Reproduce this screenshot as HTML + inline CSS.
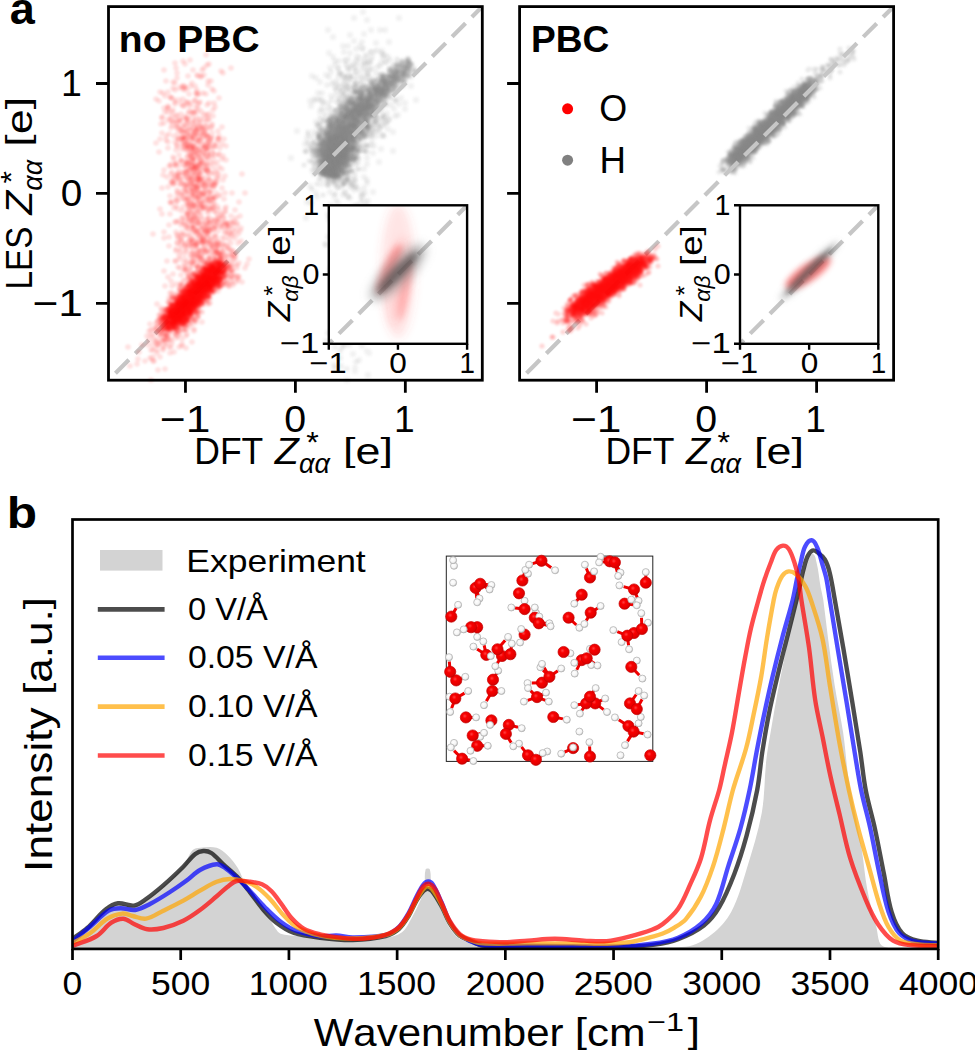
<!DOCTYPE html><html><head><meta charset="utf-8"><style>html,body{margin:0;padding:0;background:#fff;overflow:hidden}svg{display:block}text{font-family:"Liberation Sans",sans-serif;font-kerning:none}</style></head><body>
<svg width="975" height="1051" viewBox="0 0 975 1051">
<defs>
<clipPath id="cAL"><rect x="108.50" y="6.60" width="373.80" height="373.60"/></clipPath>
<clipPath id="cAR"><rect x="519.60" y="6.60" width="374.00" height="373.60"/></clipPath>
<clipPath id="cIL"><rect x="328.80" y="205.30" width="138.30" height="138.50"/></clipPath>
<clipPath id="cIR"><rect x="740.00" y="205.30" width="138.30" height="138.50"/></clipPath>
<clipPath id="cB"><rect x="72.5" y="519.5" width="865.7" height="429.4"/></clipPath>
<radialGradient id="gO" cx="0.4" cy="0.38" r="0.68"><stop offset="0" stop-color="#ff4040"/><stop offset="0.3" stop-color="#f80000"/><stop offset="0.8" stop-color="#e00000"/><stop offset="1" stop-color="#b00000"/></radialGradient>
<radialGradient id="gH" cx="0.42" cy="0.4" r="0.66"><stop offset="0" stop-color="#ffffff"/><stop offset="0.6" stop-color="#f4f4f4"/><stop offset="0.85" stop-color="#d0d0d0"/><stop offset="1" stop-color="#a0a0a0"/></radialGradient>
<filter id="bl" x="-5%" y="-5%" width="110%" height="110%"><feGaussianBlur stdDeviation="0.7"/></filter>
<filter id="bl2" x="-5%" y="-5%" width="110%" height="110%"><feGaussianBlur stdDeviation="1.0"/></filter>
<filter id="b2" x="-50%" y="-50%" width="200%" height="200%"><feGaussianBlur stdDeviation="2"/></filter>
<filter id="b3" x="-50%" y="-50%" width="200%" height="200%"><feGaussianBlur stdDeviation="3"/></filter>
<filter id="b4" x="-50%" y="-50%" width="200%" height="200%"><feGaussianBlur stdDeviation="4"/></filter>
</defs>
<rect width="975" height="1051" fill="#fff"/>
<g stroke="#808080" stroke-width="5.2" stroke-linecap="round" stroke-opacity="0.15" fill="none" filter="url(#bl2)">
<path d="M373 112h0M330 175h0M351 134h0M336 174h0M345 145h0M382 92h0M325 169h0M330 150h0M348 116h0M336 147h0M327 140h0M387 88h0M332 157h0M347 153h0M355 129h0M341 127h0M360 151h0M350 118h0M327 148h0M360 100h0M335 150h0M324 171h0M368 101h0M367 117h0M341 143h0M335 172h0M339 129h0M395 77h0M369 107h0M341 161h0M334 162h0M341 142h0M342 159h0M356 120h0M347 159h0M353 132h0M362 96h0M373 115h0M353 126h0M336 150h0M411 65h0M342 143h0M332 151h0M321 167h0M336 130h0M338 142h0M402 70h0M357 119h0M359 112h0M330 157h0M333 149h0M331 157h0M332 158h0M361 111h0M340 161h0M378 85h0M332 168h0M345 156h0M323 161h0M315 153h0M326 141h0M328 135h0M328 133h0M361 105h0M327 174h0M335 160h0M323 145h0M339 126h0M330 168h0M379 91h0M340 159h0M344 141h0M341 157h0M369 105h0M337 138h0M335 145h0M336 165h0M382 95h0M332 143h0M340 119h0M331 141h0M377 80h0M328 175h0M329 153h0M355 120h0M340 149h0M348 130h0M396 73h0M343 122h0M375 114h0M335 169h0M415 71h0M354 124h0M337 165h0M329 157h0M326 161h0M341 130h0M332 142h0M404 70h0M331 165h0M345 153h0M328 149h0M399 73h0M335 154h0M346 130h0M342 135h0M334 150h0M369 91h0M368 146h0M329 172h0M330 152h0M331 174h0M355 112h0M363 110h0M342 121h0M331 175h0M357 112h0M346 163h0M402 73h0M378 89h0M353 118h0M360 95h0M325 156h0M335 164h0M313 150h0M323 161h0M330 170h0M330 150h0M353 139h0M344 137h0M334 141h0M343 116h0M350 118h0M330 169h0M334 151h0M333 149h0M371 107h0M357 121h0M350 101h0M343 111h0M344 136h0M332 123h0M350 117h0M356 143h0M351 161h0M358 163h0M356 116h0M364 100h0M320 160h0M336 132h0M366 112h0M360 135h0M336 153h0M379 81h0M368 127h0M333 171h0M342 157h0M356 90h0M326 154h0M330 125h0M394 70h0M329 146h0M358 126h0M355 103h0M333 154h0M341 144h0M348 150h0M344 143h0M391 78h0M339 151h0M338 149h0M382 92h0M331 174h0M326 158h0M342 165h0M327 149h0M344 140h0M359 105h0M374 106h0M381 80h0M341 110h0M374 109h0M340 130h0M329 162h0M334 137h0M359 105h0M383 103h0M340 150h0M328 163h0M339 160h0M355 175h0M327 133h0M327 171h0M328 164h0M356 117h0M337 157h0M329 138h0M403 63h0M322 157h0M356 121h0M341 151h0M392 73h0M346 172h0M353 139h0M356 121h0M391 84h0M397 76h0M343 164h0M351 172h0M334 162h0M334 168h0M328 166h0M333 144h0M335 176h0M334 137h0M334 147h0M346 144h0M367 122h0M328 156h0M337 146h0M391 85h0M364 133h0M320 150h0M337 172h0M343 125h0M344 132h0M328 121h0M365 128h0M339 121h0M334 143h0M348 146h0M333 157h0M360 113h0M350 130h0M377 91h0M332 174h0M357 98h0M331 162h0M326 169h0M357 116h0M350 128h0M343 152h0M340 154h0M353 149h0M340 157h0"/>
<path d="M321 146h0M370 103h0M328 150h0M339 148h0M365 107h0M327 174h0M327 175h0M341 150h0M336 132h0M359 110h0M359 113h0M321 161h0M386 97h0M332 156h0M350 123h0M368 99h0M408 58h0M319 135h0M322 143h0M383 76h0M361 123h0M353 124h0M335 159h0M352 125h0M370 89h0M346 117h0M333 151h0M343 143h0M360 107h0M345 119h0M336 124h0M341 147h0M360 96h0M345 156h0M339 165h0M363 111h0M342 146h0M336 126h0M325 163h0M351 121h0M408 61h0M342 154h0M358 114h0M353 139h0M347 109h0M323 174h0M378 91h0M342 163h0M338 144h0M329 166h0M335 136h0M330 153h0M373 97h0M335 152h0M337 158h0M383 86h0M363 87h0M347 103h0M341 133h0M327 149h0M338 144h0M332 159h0M321 175h0M337 155h0M328 160h0M328 157h0M329 174h0M326 127h0M325 170h0M383 85h0M335 124h0M330 156h0M336 162h0M374 89h0M373 112h0M395 79h0M329 139h0M391 69h0M330 151h0M327 132h0M323 162h0M345 156h0M335 172h0M331 173h0M349 114h0M330 159h0M332 173h0M403 75h0M381 87h0M398 75h0M382 82h0M369 127h0M333 156h0M333 169h0M382 84h0M339 157h0M332 169h0M337 139h0M359 119h0M331 132h0M387 83h0M352 107h0M337 156h0M342 133h0M338 154h0M348 150h0M339 129h0M336 161h0M344 138h0M345 142h0M343 141h0M363 113h0M331 123h0M340 169h0M375 84h0M353 148h0M340 151h0M343 147h0M332 166h0M335 176h0M402 63h0M340 169h0M370 105h0M371 91h0M354 101h0M400 70h0M326 160h0M326 164h0M349 110h0M337 163h0M337 148h0M335 147h0M331 169h0M375 99h0M336 156h0M327 142h0M349 152h0M354 113h0M343 151h0M341 164h0M355 120h0M334 119h0M325 166h0M326 171h0M331 152h0M329 147h0M360 109h0M356 118h0M355 92h0M381 110h0M380 74h0M353 131h0M328 157h0M363 104h0M342 170h0M345 151h0M341 131h0M356 135h0M332 147h0M386 105h0M341 163h0M390 82h0M331 134h0M345 142h0M388 85h0M335 156h0M337 166h0M374 88h0M345 144h0M401 66h0M327 174h0M357 120h0M327 144h0M384 91h0M341 139h0M361 106h0M369 111h0M328 167h0M409 61h0M345 147h0M406 72h0M352 104h0M340 157h0M372 89h0M341 157h0M388 76h0M326 164h0M351 126h0M336 167h0M337 129h0M356 127h0M344 157h0M337 145h0M339 151h0M362 124h0M334 163h0M368 123h0M384 84h0M330 175h0M346 144h0M367 113h0M338 165h0M329 172h0M336 154h0M326 162h0M334 156h0M344 151h0M339 158h0M336 140h0M344 159h0M339 152h0M357 120h0M349 161h0M366 117h0M354 108h0M341 133h0M336 161h0M375 96h0M339 154h0M325 172h0M326 162h0M410 74h0M349 152h0M356 107h0M390 88h0M332 169h0M330 140h0M382 87h0M345 137h0M355 127h0M384 78h0M334 162h0M333 150h0M366 122h0M343 136h0M390 91h0M387 86h0M335 140h0M338 163h0M330 142h0M333 151h0M336 136h0M322 143h0M391 89h0M345 147h0"/>
<path d="M322 164h0M342 154h0M340 154h0M335 158h0M384 80h0M324 140h0M348 138h0M401 71h0M343 138h0M349 129h0M337 154h0M327 172h0M342 173h0M344 147h0M358 111h0M332 166h0M342 134h0M338 132h0M358 106h0M330 152h0M347 178h0M334 146h0M350 108h0M345 154h0M335 144h0M384 76h0M342 163h0M344 152h0M374 89h0M346 117h0M351 165h0M340 155h0M341 151h0M328 121h0M328 138h0M373 85h0M404 77h0M332 141h0M331 165h0M317 125h0M342 162h0M360 99h0M347 145h0M335 169h0M337 142h0M343 164h0M352 149h0M409 62h0M343 121h0M358 114h0M334 161h0M364 111h0M355 109h0M335 157h0M372 112h0M344 151h0M366 101h0M354 112h0M339 152h0M332 155h0M359 144h0M384 83h0M378 101h0M323 151h0M333 150h0M344 170h0M335 156h0M336 139h0M336 164h0M350 116h0M356 113h0M391 80h0M334 139h0M391 78h0M397 76h0M351 148h0M338 149h0M330 143h0M352 129h0M354 136h0M345 136h0M324 156h0M363 109h0M339 158h0M325 152h0M364 104h0M369 95h0M341 151h0M342 119h0M349 127h0M333 171h0M343 151h0M361 92h0M358 106h0M340 126h0M374 93h0M347 136h0M327 154h0M328 158h0M330 158h0M319 137h0M347 154h0M335 139h0M326 154h0M336 126h0M369 107h0M328 136h0M329 165h0M358 113h0M363 105h0M359 104h0M339 161h0M334 155h0M394 73h0M368 103h0M335 150h0M334 147h0M357 113h0M333 149h0M377 95h0M328 137h0M336 152h0M346 105h0M334 153h0M321 174h0M414 71h0M354 92h0M320 141h0M343 153h0M332 159h0M335 150h0M331 156h0M391 81h0M335 159h0M328 169h0M382 93h0M338 144h0M373 106h0M336 165h0M358 125h0M353 154h0M359 145h0M358 131h0M326 165h0M351 99h0M333 169h0M348 129h0M364 107h0M353 125h0M328 175h0M327 160h0M331 151h0M392 68h0M339 176h0M327 156h0M324 155h0M342 178h0M358 111h0M402 80h0M344 143h0M323 161h0M374 92h0M334 158h0M369 103h0M329 174h0M344 147h0M337 129h0M324 169h0M323 164h0M328 145h0M339 134h0M340 145h0M343 150h0M334 168h0M324 172h0M347 134h0M363 106h0M333 167h0M344 144h0M357 135h0M345 119h0M348 150h0M335 152h0M323 164h0M367 101h0M327 172h0M327 142h0M335 147h0M351 147h0M327 151h0M331 149h0M337 128h0M362 138h0M354 107h0M348 117h0M340 139h0M347 156h0M360 96h0M345 133h0M331 154h0M356 156h0M363 113h0M407 77h0M368 94h0M354 145h0M337 148h0M344 148h0M333 139h0M335 161h0M388 92h0M332 172h0M330 123h0M330 140h0M381 79h0M335 161h0M335 177h0M383 90h0M334 147h0M344 153h0M332 144h0M327 178h0M331 171h0M346 141h0M353 124h0M354 144h0M334 173h0M391 98h0M341 144h0M344 167h0M351 138h0M339 165h0M324 150h0M353 146h0M349 130h0M394 83h0M340 152h0M355 107h0M379 98h0M329 174h0M347 144h0M364 151h0M337 140h0M349 114h0M333 158h0M346 137h0"/>
<path d="M363 127h0M330 152h0M338 162h0M353 135h0M394 80h0M324 153h0M349 125h0M343 132h0M344 171h0M340 163h0M377 83h0M335 168h0M333 172h0M345 117h0M361 116h0M333 170h0M335 145h0M336 164h0M386 80h0M374 87h0M325 152h0M358 148h0M330 161h0M361 113h0M377 90h0M341 137h0M339 160h0M343 144h0M327 146h0M335 127h0M330 149h0M345 128h0M343 155h0M348 142h0M354 101h0M333 167h0M345 167h0M386 82h0M343 121h0M332 164h0M317 147h0M323 144h0M397 80h0M346 147h0M326 137h0M342 143h0M347 142h0M347 139h0M389 95h0M343 155h0M354 142h0M357 122h0M318 145h0M329 171h0M395 70h0M345 163h0M337 149h0M391 79h0M379 86h0M348 131h0M369 114h0M375 84h0M332 150h0M389 82h0M324 120h0M324 155h0M336 161h0M331 169h0M359 108h0M337 156h0M357 106h0M336 170h0M349 135h0M346 164h0M340 133h0M360 92h0M344 152h0M358 112h0M374 94h0M334 161h0M339 149h0M337 155h0M329 172h0M336 153h0M329 167h0M340 166h0M345 165h0M328 119h0M355 136h0M410 63h0M346 131h0M331 173h0M341 163h0M328 174h0M322 148h0M334 171h0M335 172h0M366 105h0M330 141h0M344 113h0M347 133h0M334 166h0M325 165h0M347 147h0M361 94h0M331 126h0M332 124h0M358 132h0M355 126h0M349 122h0M365 109h0M402 80h0M333 148h0M378 94h0M328 145h0M327 168h0M336 137h0M381 100h0M340 155h0M346 164h0M370 99h0M394 85h0M338 173h0M340 143h0M341 156h0M332 175h0M331 173h0M347 120h0M405 78h0M329 169h0M328 162h0M374 100h0M329 161h0M338 151h0M327 181h0M335 157h0M334 143h0M407 75h0M331 174h0M323 175h0M346 131h0M344 129h0M330 155h0M353 125h0M387 88h0M334 122h0M349 102h0M345 159h0M330 153h0M333 156h0M345 148h0M332 155h0M345 140h0M353 136h0M340 122h0M337 163h0M331 149h0M362 102h0M344 171h0M346 161h0M357 110h0M381 93h0M342 114h0M375 121h0M356 114h0M380 90h0M348 140h0M334 154h0M358 86h0M332 166h0M334 152h0M326 172h0M328 168h0M350 151h0M392 71h0M341 171h0M372 101h0M357 117h0M339 121h0M374 92h0M342 150h0M371 89h0M409 65h0M332 155h0M367 128h0M326 163h0M328 173h0M342 127h0M337 161h0M335 166h0M345 134h0M322 146h0M354 126h0M364 116h0M378 97h0M362 114h0M347 111h0M371 105h0M367 104h0M342 139h0M324 147h0M375 82h0M352 110h0M338 148h0M334 166h0M331 140h0M347 172h0M328 159h0M333 153h0M386 95h0M358 130h0M341 151h0M327 152h0M343 150h0M329 152h0M339 135h0M362 104h0M361 100h0M333 147h0M345 158h0M358 105h0M349 122h0M335 152h0M326 137h0M379 85h0M372 91h0M335 170h0M369 110h0M318 149h0M327 171h0M331 147h0M358 122h0M333 141h0M382 86h0M328 158h0M343 144h0M343 134h0M344 150h0M345 174h0M371 110h0M336 134h0M320 162h0M341 157h0M410 73h0M350 115h0"/>
<path d="M330 137h0M351 125h0M335 159h0M339 132h0M358 122h0M342 163h0M326 162h0M349 112h0M332 143h0M344 131h0M328 143h0M343 167h0M329 146h0M348 163h0M333 147h0M373 105h0M343 150h0M346 122h0M365 115h0M346 143h0M340 168h0M331 165h0M369 105h0M373 109h0M355 104h0M340 143h0M392 71h0M365 109h0M345 165h0M338 146h0M352 135h0M363 115h0M333 170h0M335 160h0M340 129h0M346 122h0M391 84h0M337 164h0M352 123h0M342 148h0M331 158h0M352 113h0M346 137h0M324 155h0M344 165h0M357 150h0M343 158h0M355 127h0M327 171h0M331 148h0M338 136h0M336 135h0M331 127h0M313 142h0M359 126h0M332 145h0M404 72h0M362 110h0M361 114h0M375 93h0M380 96h0M341 156h0M329 167h0M385 90h0M359 132h0M326 156h0M332 133h0M347 144h0M333 166h0M329 128h0M370 98h0M351 122h0M339 158h0M352 116h0M346 116h0M340 167h0M409 66h0M353 135h0M365 104h0M328 166h0M370 116h0M333 149h0M329 172h0M384 92h0M340 130h0M372 108h0M369 100h0M346 147h0M329 149h0M351 132h0M330 154h0M333 165h0M337 151h0M336 135h0M381 88h0M393 65h0M355 127h0M338 120h0M326 132h0M360 123h0M338 164h0M355 138h0M353 146h0M335 165h0M350 150h0M386 83h0M331 171h0M405 60h0M338 175h0M338 154h0M336 138h0M331 146h0M336 150h0M341 143h0M367 125h0M324 171h0M353 112h0M343 159h0M351 135h0M333 135h0M342 151h0M359 107h0M337 148h0M334 163h0M333 168h0M377 94h0M320 139h0M391 85h0M393 82h0M385 95h0M379 103h0M320 154h0M339 163h0M337 136h0M329 168h0M341 151h0M333 140h0M334 166h0M329 132h0M355 127h0M330 164h0M395 92h0M344 166h0M325 171h0M335 168h0M343 145h0M383 77h0M395 90h0M341 123h0M332 143h0M341 153h0M331 166h0M346 148h0M347 134h0M335 136h0M335 174h0M343 142h0M335 150h0M397 68h0M371 98h0M349 133h0M357 106h0M341 145h0M334 165h0M339 147h0M344 159h0M374 106h0M325 160h0M387 88h0M342 129h0M345 129h0M362 113h0M328 167h0M333 173h0M356 157h0M352 109h0M356 131h0M344 163h0M355 140h0M329 169h0M332 172h0M334 161h0M319 123h0M352 104h0M393 86h0M367 114h0M334 176h0M395 81h0M385 92h0M329 132h0M388 84h0M333 137h0M342 167h0M370 106h0M397 71h0M327 168h0M336 151h0M329 150h0M363 111h0M366 110h0M342 140h0M388 81h0M336 165h0M331 153h0M347 154h0M366 102h0M330 159h0M323 151h0M354 132h0M334 159h0M337 167h0M330 173h0M337 172h0M335 154h0M336 155h0M386 85h0M338 147h0M375 91h0M339 170h0M328 157h0M345 142h0M370 93h0M327 169h0M349 128h0M348 117h0M358 108h0M331 136h0M348 127h0M332 146h0M330 152h0M336 162h0M355 108h0M342 134h0M352 120h0M344 155h0M339 136h0M345 109h0M358 105h0M362 132h0M330 169h0M364 114h0M344 133h0M339 128h0M335 160h0M398 81h0"/>
<path d="M344 162h0M350 128h0M342 154h0M359 104h0M348 135h0M383 80h0M329 134h0M349 125h0M338 123h0M329 167h0M331 170h0M358 108h0M330 171h0M344 127h0M339 138h0M336 142h0M354 147h0M348 125h0M345 107h0M340 146h0M340 114h0M358 133h0M354 142h0M365 115h0M376 102h0M345 153h0M329 170h0M354 133h0M329 167h0M337 150h0M327 147h0M367 104h0M333 163h0M338 140h0M342 152h0M339 165h0M362 94h0M334 140h0M340 169h0M329 167h0M332 147h0M343 148h0M333 135h0M332 131h0M331 176h0M331 143h0M350 143h0M373 113h0M323 149h0M350 108h0M343 127h0M350 154h0M366 108h0M341 154h0M329 165h0M390 70h0M326 149h0M327 163h0M384 88h0M339 159h0M345 132h0M361 106h0M335 160h0M333 147h0M349 138h0M336 169h0M331 139h0M374 96h0M343 154h0M349 120h0M330 140h0M335 162h0M326 172h0M335 128h0M337 162h0M352 153h0M353 107h0M329 170h0M331 173h0M327 150h0M338 161h0M336 136h0M349 136h0M354 125h0M348 132h0M332 162h0M367 95h0M342 159h0M337 140h0M358 118h0M352 102h0M386 89h0M384 76h0M375 93h0M319 127h0M349 141h0M338 153h0M338 152h0M321 134h0M350 105h0M337 159h0M340 159h0M338 139h0M354 117h0M339 160h0M336 125h0M336 148h0M337 173h0M331 172h0M336 147h0M340 149h0M331 153h0M340 162h0M377 97h0M379 86h0M327 130h0M333 174h0M325 162h0M333 164h0M389 76h0M367 114h0M344 146h0M359 114h0M337 156h0M359 92h0M338 165h0M362 108h0M336 170h0M361 102h0M337 145h0M333 160h0M397 71h0M345 166h0M346 114h0M356 144h0M343 164h0M378 91h0M356 107h0M358 132h0M344 158h0M329 172h0M332 155h0M377 118h0M333 152h0M346 115h0M329 165h0M339 151h0M333 172h0M366 134h0M332 162h0M326 166h0M352 112h0M372 94h0M331 149h0M338 171h0M358 120h0M381 100h0M330 146h0M339 176h0M334 176h0M383 92h0M346 143h0M322 145h0M353 108h0M358 110h0M386 100h0M327 170h0M331 157h0M378 88h0M325 151h0M362 87h0M381 90h0M354 119h0M343 159h0M330 154h0M347 134h0M334 151h0M333 168h0M323 173h0M341 143h0M338 168h0M375 112h0M381 88h0M383 94h0M405 82h0M339 173h0M377 107h0M366 99h0M340 120h0M347 150h0M324 159h0M320 152h0M332 157h0M377 105h0M330 159h0M373 90h0M363 106h0M333 170h0M337 166h0M331 154h0M336 157h0M329 169h0M345 123h0M328 159h0M351 114h0M338 156h0M324 173h0M373 105h0M328 157h0M333 171h0M340 147h0M333 151h0M352 155h0M382 88h0M334 180h0M379 96h0M315 144h0M352 110h0M375 117h0M320 169h0M379 94h0M359 121h0M324 171h0M387 87h0M335 168h0M353 114h0M347 156h0M342 138h0M327 162h0M354 132h0M335 175h0M351 133h0M346 145h0M336 139h0M370 108h0M373 89h0M338 127h0M342 148h0M354 128h0M332 166h0M337 171h0M328 157h0M320 171h0M341 163h0M355 111h0"/>
<path d="M324 150h0M398 65h0M332 131h0M346 154h0M333 175h0M338 137h0M332 171h0M361 101h0M385 84h0M354 109h0M332 159h0M330 148h0M332 128h0M331 152h0M341 129h0M349 142h0M378 92h0M344 118h0M321 150h0M381 93h0M349 135h0M359 130h0M323 172h0M337 144h0M344 145h0M388 94h0M348 159h0M335 147h0M339 163h0M334 174h0M406 67h0M372 120h0M335 143h0M343 143h0M351 126h0M342 159h0M322 174h0M327 161h0M345 164h0M356 91h0M340 159h0M352 118h0M323 158h0M337 152h0M354 157h0M328 161h0M348 126h0M376 94h0M333 165h0M366 104h0M353 125h0M369 107h0M336 137h0M328 170h0M329 163h0M335 133h0M339 118h0M368 104h0M398 72h0M323 151h0M348 120h0M343 132h0M367 116h0M324 146h0M402 66h0M378 98h0M353 110h0M337 122h0M327 175h0M334 118h0M335 147h0M343 155h0M330 125h0M325 164h0M347 132h0M371 116h0M336 137h0M336 131h0M328 156h0M346 153h0M378 84h0M339 134h0M351 124h0M393 85h0M327 166h0M353 155h0M355 127h0M350 112h0M333 171h0M326 152h0M347 148h0M360 103h0M325 148h0M343 172h0M328 138h0M325 146h0M324 155h0M336 157h0M333 175h0M351 136h0M341 131h0M392 74h0M408 76h0M332 153h0M362 116h0M351 133h0M339 124h0M344 135h0M377 90h0M362 137h0M363 106h0M349 167h0M330 153h0M338 129h0M330 152h0M323 160h0M331 168h0M373 112h0M335 150h0M333 149h0M332 170h0M337 162h0M358 100h0M348 116h0M353 138h0M330 168h0M329 146h0M343 128h0M332 168h0M375 111h0M341 111h0M333 164h0M340 149h0M336 130h0M331 171h0M339 155h0M334 134h0M334 148h0M322 163h0M352 114h0M343 171h0M332 176h0M343 147h0M330 150h0M347 158h0M367 110h0M347 157h0M337 142h0M330 161h0M346 153h0M362 104h0M337 165h0M332 160h0M342 149h0M352 122h0M333 160h0M336 157h0M380 98h0M333 152h0M332 126h0M332 152h0M320 161h0M339 137h0M358 114h0M336 163h0M331 154h0M333 144h0M338 158h0M324 136h0M329 154h0M368 114h0M329 157h0M321 139h0M371 84h0M334 155h0M336 153h0M389 75h0M347 151h0M332 173h0M330 139h0M393 76h0M361 132h0M332 157h0M372 98h0M349 169h0M378 105h0M323 171h0M353 98h0M337 136h0M348 149h0M397 86h0M336 148h0M364 105h0M332 140h0M331 156h0M331 172h0M365 120h0M332 173h0M345 128h0M320 160h0M329 154h0M324 163h0M330 171h0M340 160h0M344 148h0M346 141h0M336 156h0M388 89h0M330 163h0M323 154h0M332 147h0M323 147h0M335 194h0M324 157h0M354 141h0M342 149h0M331 175h0M345 150h0M336 175h0M366 121h0M308 143h0M383 80h0M339 158h0M333 172h0M331 117h0M358 111h0M333 156h0M355 120h0M328 167h0M356 109h0M343 140h0M346 140h0M331 115h0M369 101h0M355 122h0M339 164h0M329 161h0M361 111h0M346 142h0M394 88h0M380 99h0M375 94h0M358 98h0M402 74h0M344 153h0"/>
<path d="M332 142h0M356 116h0M328 156h0M359 100h0M357 121h0M332 147h0M363 118h0M371 99h0M385 83h0M340 157h0M325 172h0M362 106h0M324 166h0M344 161h0M321 152h0M406 72h0M336 159h0M366 98h0M349 108h0M344 118h0M327 136h0M335 153h0M339 162h0M341 151h0M334 168h0M331 164h0M340 162h0M304 165h0M353 147h0M329 154h0M319 155h0M321 144h0M332 174h0M392 76h0M325 175h0M339 175h0M328 174h0M377 100h0M329 150h0M365 122h0M338 148h0M352 127h0M353 107h0M326 162h0M395 66h0M336 163h0M330 141h0M327 175h0M375 112h0M351 137h0M353 134h0M331 159h0M362 110h0M367 128h0M342 163h0M336 146h0M347 156h0M333 160h0M338 120h0M346 129h0M356 129h0M331 145h0M342 165h0M331 157h0M377 87h0M360 89h0M358 110h0M356 146h0M331 162h0M371 102h0M394 77h0M339 163h0M325 156h0M335 159h0M340 136h0M331 148h0M328 137h0M340 144h0M361 116h0M361 104h0M359 111h0M403 86h0M347 133h0M343 172h0M337 144h0M330 153h0M343 141h0M405 80h0M353 148h0M370 95h0M347 115h0M319 179h0M339 157h0M337 172h0M318 137h0M342 174h0M339 160h0M338 166h0M333 162h0M343 136h0M381 81h0M330 126h0M341 163h0M353 111h0M337 124h0M346 148h0M334 166h0M327 152h0M364 110h0M330 170h0M387 91h0M352 141h0M383 91h0M342 141h0M332 174h0M346 144h0M353 161h0M327 139h0M334 142h0M351 136h0M359 111h0M350 126h0M342 139h0M345 128h0M333 154h0M364 114h0M353 110h0M353 133h0M334 143h0M361 114h0M324 153h0M330 164h0M340 141h0M357 111h0M336 132h0M363 110h0M333 168h0M359 105h0M338 175h0M345 138h0M349 118h0M327 155h0M335 142h0M334 174h0M361 99h0M326 173h0M365 114h0M326 163h0M361 133h0M333 145h0M327 172h0M339 136h0M351 138h0M353 126h0M408 72h0M337 173h0M381 98h0M332 169h0M315 154h0M328 171h0M401 64h0M333 170h0M329 167h0M316 162h0M325 163h0M347 136h0M349 157h0M333 161h0M351 171h0M354 105h0M369 123h0M338 172h0M348 160h0M356 120h0M335 166h0M338 166h0M326 157h0M336 167h0M329 135h0M336 159h0M353 117h0M326 162h0M332 138h0M348 152h0M395 79h0M342 163h0M333 157h0M335 151h0M332 163h0M347 142h0M373 84h0M384 80h0M325 163h0M332 160h0M341 140h0M362 130h0M333 154h0M336 161h0M382 90h0M332 131h0M335 161h0M355 106h0M341 145h0M361 103h0M325 157h0M323 170h0M350 118h0M345 158h0M351 139h0M369 120h0M327 157h0M333 172h0M352 141h0M367 120h0M314 156h0M335 130h0M365 106h0M334 124h0M361 134h0M356 129h0M353 124h0M332 174h0M333 134h0M336 146h0M333 175h0M371 106h0M337 135h0M347 126h0M319 153h0M399 71h0M327 161h0M332 132h0M334 165h0M328 168h0M351 106h0M335 161h0M324 139h0M337 141h0M383 78h0M351 129h0M329 140h0M342 150h0M351 146h0M338 134h0M333 138h0"/>
<path d="M328 137h0M361 110h0M344 123h0M356 114h0M319 145h0M353 87h0M336 129h0M359 98h0M335 145h0M374 104h0M353 117h0M331 173h0M345 152h0M339 152h0M334 174h0M333 148h0M346 153h0M322 167h0M368 118h0M327 172h0M342 151h0M341 142h0M348 148h0M325 146h0M336 122h0M383 106h0M339 141h0M346 124h0M355 115h0M327 157h0M344 122h0M327 153h0M338 140h0M346 137h0M354 138h0M345 134h0M365 104h0M335 152h0M378 93h0M348 115h0M340 139h0M350 113h0M348 128h0M323 172h0M336 156h0M340 146h0M326 144h0M327 159h0M326 144h0M348 127h0M349 146h0M333 165h0M330 170h0M346 124h0M349 146h0M342 141h0M330 169h0M343 121h0M345 144h0M334 147h0M326 155h0M354 121h0M378 106h0M340 169h0M311 147h0M330 156h0M317 158h0M322 148h0M407 66h0M363 111h0M358 95h0M373 87h0M340 149h0M340 137h0M351 114h0M360 112h0M327 165h0M360 94h0M336 141h0M334 168h0M333 136h0M385 87h0M330 160h0M337 168h0M326 141h0M329 162h0M331 166h0M381 76h0M329 151h0M334 165h0M358 121h0M327 164h0M323 131h0M345 127h0M374 100h0M386 96h0M365 107h0M342 153h0M341 149h0M352 141h0M363 101h0M339 132h0M335 135h0M330 143h0M355 164h0M337 128h0M336 172h0M345 163h0M339 159h0M338 146h0M330 127h0M327 165h0M366 125h0M341 141h0M346 118h0M350 157h0M328 124h0M336 135h0M345 111h0M349 181h0M331 148h0M327 171h0M338 146h0M342 147h0M339 156h0M408 66h0M353 109h0M367 113h0M339 159h0M341 174h0M341 143h0M337 128h0M353 149h0M331 169h0M336 128h0M324 152h0M357 111h0M345 140h0M345 148h0M387 85h0M335 146h0M378 85h0M334 153h0M339 138h0M324 145h0M356 110h0M399 76h0M341 173h0M339 144h0M357 94h0M401 66h0M342 154h0M339 137h0M350 123h0M344 161h0M409 63h0M337 153h0M326 173h0M330 167h0M354 126h0M341 153h0M326 158h0M337 127h0M327 137h0M377 91h0M334 143h0M339 172h0M397 70h0M318 138h0M351 131h0M340 133h0M393 74h0M406 67h0M330 161h0M354 104h0M354 128h0M393 77h0M332 146h0M355 139h0M352 123h0M353 97h0M351 143h0M353 124h0M335 153h0M329 161h0M339 136h0M341 151h0M337 138h0M357 106h0M356 106h0M354 105h0M323 165h0M339 137h0M350 112h0M332 170h0M334 149h0M316 148h0M346 125h0M338 176h0M331 150h0M374 81h0M327 139h0M334 156h0M354 129h0M349 101h0M368 108h0M333 149h0M326 151h0M378 110h0M331 176h0M329 171h0M358 116h0M404 70h0M393 90h0M386 87h0M354 119h0M329 146h0M339 162h0M355 113h0M337 125h0M338 161h0M379 95h0M415 72h0M331 144h0M365 118h0M331 151h0M330 169h0M372 86h0M365 123h0M338 164h0M328 157h0M331 150h0M339 148h0M371 99h0M335 174h0M335 116h0M348 145h0M327 158h0M342 115h0M345 154h0M333 130h0M323 121h0M350 129h0M346 129h0M328 143h0"/>
<path d="M335 154h0M360 130h0M325 140h0M332 161h0M351 126h0M357 101h0M338 162h0M351 133h0M374 102h0M319 166h0M342 149h0M344 116h0M332 142h0M403 75h0M402 61h0M345 153h0M354 154h0M367 135h0M338 144h0M359 119h0M333 166h0M353 113h0M318 162h0M359 140h0M344 124h0M363 114h0M369 104h0M340 151h0M345 144h0M361 100h0M327 154h0M327 155h0M403 84h0M321 124h0M333 172h0M329 169h0M350 123h0M344 182h0M327 169h0M344 155h0M340 173h0M357 124h0M409 70h0M337 155h0M340 148h0M334 156h0M344 146h0M348 142h0M366 125h0M335 143h0M403 81h0M389 91h0M354 111h0M327 158h0M332 154h0M338 120h0M336 137h0M375 87h0M333 158h0M368 99h0M345 152h0M349 129h0M340 155h0M325 148h0M350 97h0M357 131h0M359 117h0M377 93h0M334 158h0M367 132h0M362 111h0M334 144h0M347 125h0M344 132h0M345 156h0M337 166h0M329 150h0M337 150h0M334 149h0M333 165h0M338 157h0M347 133h0M360 114h0M342 142h0M328 166h0M369 99h0M404 66h0M362 131h0M350 126h0M323 154h0M323 169h0M336 153h0M323 157h0M341 136h0M336 162h0M346 156h0M338 163h0M350 164h0M336 144h0M354 130h0M389 83h0M331 160h0M332 167h0M407 62h0M378 89h0M369 110h0M341 144h0M323 154h0M402 77h0M331 155h0M363 124h0M341 130h0M333 128h0M340 175h0M326 143h0M367 103h0M334 168h0M390 83h0M353 112h0M358 111h0M394 86h0M355 143h0M369 111h0M354 105h0M370 98h0M343 128h0M316 155h0M334 151h0M332 123h0M338 156h0M355 139h0M325 154h0M336 145h0M346 117h0M394 72h0M371 115h0M362 110h0M372 108h0M334 142h0M330 136h0M358 129h0M338 153h0M334 163h0M341 160h0M330 156h0M341 151h0M353 155h0M343 111h0M328 127h0M341 158h0M369 111h0M329 150h0M337 169h0M347 140h0M408 72h0M348 118h0M323 134h0M358 111h0M323 161h0M356 150h0M333 156h0M329 159h0M344 155h0M344 154h0M339 138h0M340 125h0M403 64h0M354 120h0M333 151h0M336 146h0M330 170h0M353 150h0M329 156h0M336 171h0M326 169h0M343 150h0M323 163h0M343 127h0M317 154h0M325 167h0M327 122h0M333 166h0M383 115h0M348 143h0M352 117h0M345 147h0M396 72h0M325 137h0M359 114h0M341 107h0M352 112h0M336 161h0M339 144h0M354 127h0M325 167h0M349 145h0M333 167h0M327 168h0M347 113h0M349 140h0M341 173h0M346 150h0M347 155h0M322 153h0M354 129h0M337 169h0M324 168h0M334 139h0M329 141h0M407 63h0M325 171h0M373 98h0M341 152h0M358 111h0M333 154h0M394 85h0M330 126h0M332 174h0M353 158h0M331 174h0M382 78h0M340 151h0M335 167h0M356 142h0M342 135h0M335 143h0M352 125h0M348 160h0M367 145h0M324 146h0M340 171h0M338 151h0M362 108h0M335 152h0M329 169h0M337 170h0M339 162h0M359 104h0M329 168h0M333 181h0M331 139h0M366 90h0M329 170h0M355 160h0M337 168h0"/>
<path d="M408 76h0M372 86h0M358 125h0M390 90h0M335 147h0M348 103h0M343 138h0M326 172h0M357 110h0M330 143h0M333 144h0M350 141h0M345 127h0M332 129h0M329 170h0M345 151h0M325 174h0M336 161h0M341 155h0M340 154h0M334 148h0M338 161h0M336 160h0M328 155h0M326 168h0M335 140h0M356 118h0M347 156h0M321 160h0M354 119h0M320 155h0M354 103h0M338 130h0M364 127h0M336 130h0M335 149h0M381 92h0M359 116h0M357 153h0M330 149h0M335 177h0M341 128h0M339 139h0M331 172h0M385 93h0M347 144h0M345 138h0M371 91h0M348 109h0M408 70h0M329 177h0M344 146h0M381 89h0M340 163h0M353 134h0M325 147h0M375 93h0M332 141h0M356 123h0M384 89h0M354 126h0M402 82h0M337 165h0M333 163h0M329 162h0M344 131h0M345 140h0M362 108h0M336 175h0M333 149h0M327 167h0M325 147h0M346 165h0M329 157h0M330 157h0M342 110h0M366 104h0M342 147h0M330 149h0M350 135h0M351 149h0M370 108h0M334 154h0M353 105h0M341 122h0M327 162h0M334 136h0M338 170h0M369 97h0M372 111h0M340 114h0M354 119h0M337 131h0M355 107h0M326 151h0M341 167h0M326 135h0M342 122h0M354 118h0M329 133h0M332 161h0M325 161h0M331 154h0M326 146h0M335 150h0M359 114h0M331 176h0M342 124h0M343 115h0M359 112h0M328 168h0M356 92h0M342 117h0M369 99h0M406 66h0M326 153h0M357 120h0M358 132h0M329 154h0M322 154h0M368 120h0M327 148h0M330 171h0M327 153h0M402 77h0M349 127h0M332 165h0M391 82h0M372 105h0M375 99h0M362 132h0M348 123h0M328 145h0M380 94h0M375 93h0M337 137h0M339 125h0M342 140h0M344 147h0M340 147h0M346 151h0M350 137h0M332 151h0M334 176h0M391 76h0M344 158h0M360 115h0M358 132h0M331 165h0M323 173h0M411 64h0M348 123h0M325 164h0M334 175h0M350 158h0M381 100h0M328 164h0M348 140h0M368 108h0M347 173h0M329 168h0M326 172h0M347 137h0M339 168h0M396 70h0M331 151h0M322 171h0M343 132h0M385 81h0M327 171h0M362 107h0M372 89h0M363 97h0M346 135h0M329 157h0M339 142h0M344 108h0M342 136h0M319 149h0M365 119h0M339 130h0M367 114h0M332 170h0M336 120h0M352 126h0M359 100h0M348 159h0M396 63h0M373 98h0M331 164h0M336 123h0M345 127h0M386 93h0M342 152h0M322 155h0M340 129h0M357 108h0M339 152h0M334 145h0M351 130h0M354 108h0M335 171h0M321 141h0M316 151h0M408 65h0M364 110h0M320 166h0M344 132h0M323 156h0M319 144h0M338 160h0M341 140h0M333 163h0M330 142h0M384 90h0M333 157h0M356 136h0M361 123h0M367 103h0M329 134h0M326 143h0M341 150h0M344 126h0M332 154h0M349 110h0M337 166h0M332 119h0M384 90h0M337 139h0M333 182h0M330 167h0M329 148h0M334 175h0M324 163h0M369 107h0M363 94h0M331 167h0M375 96h0M342 128h0M312 152h0M338 143h0M400 87h0M330 137h0M344 140h0M335 168h0"/>
<path d="M335 158h0M337 147h0M327 174h0M338 121h0M331 172h0M335 146h0M327 132h0M356 159h0M330 147h0M333 155h0M321 172h0M330 154h0M316 172h0M383 92h0M339 172h0M395 76h0M328 161h0M367 100h0M334 147h0M346 107h0M327 154h0M324 170h0M346 161h0M355 126h0M383 79h0M333 166h0M322 156h0M361 107h0M346 112h0M343 131h0M359 131h0M330 148h0M377 104h0M336 143h0M342 160h0M352 126h0M351 120h0M333 163h0M329 159h0M367 105h0M342 129h0M342 103h0M330 144h0M345 150h0M331 169h0M334 149h0M332 156h0M397 85h0M321 139h0M362 118h0M328 150h0M402 75h0M344 161h0M325 161h0M342 129h0M333 150h0M339 146h0M336 167h0M381 93h0M351 114h0M343 126h0M338 153h0M333 144h0M378 99h0M340 134h0M330 166h0M344 143h0M329 171h0M355 121h0M361 118h0M384 99h0M327 163h0M336 150h0M319 131h0M340 118h0M331 148h0M329 149h0M332 152h0M321 143h0M329 132h0M339 150h0M365 109h0M351 113h0M335 138h0M349 127h0M378 101h0M332 140h0M339 169h0M346 137h0M346 169h0M370 111h0M344 162h0M341 130h0M344 173h0M333 175h0M394 78h0M328 150h0M391 85h0M342 148h0M331 156h0M334 142h0M340 162h0M336 160h0M333 159h0M336 159h0M334 161h0M360 114h0M383 86h0M354 124h0M340 166h0M345 123h0M337 160h0M335 158h0M314 174h0M319 148h0M375 89h0M321 171h0M329 144h0M346 179h0M342 113h0M333 158h0M338 174h0M367 120h0M331 152h0M389 77h0M370 112h0M324 149h0M350 124h0M336 120h0M338 129h0M372 108h0M332 153h0M331 171h0M329 152h0M343 161h0M409 60h0M337 161h0M328 141h0M334 155h0M345 160h0M353 125h0M337 138h0M312 151h0M328 145h0M352 117h0M347 147h0M368 88h0M333 155h0M329 138h0M339 153h0M336 160h0M370 95h0M388 87h0M331 157h0M341 159h0M359 120h0M345 143h0M356 108h0M347 142h0M341 143h0M330 150h0M336 149h0M360 99h0M339 171h0M348 165h0M357 119h0M332 136h0M329 152h0M361 99h0M349 127h0M331 170h0M352 135h0M341 131h0M396 78h0M325 174h0M335 166h0M332 168h0M412 64h0M330 156h0M338 169h0M401 61h0M345 106h0M330 174h0M337 163h0M394 82h0M331 161h0M341 132h0M332 170h0M341 162h0M385 94h0M403 71h0M319 138h0M323 149h0M335 168h0M359 102h0M333 134h0M351 151h0M346 165h0M343 156h0M361 132h0M326 147h0M344 142h0M329 175h0M352 111h0M330 176h0M340 104h0M347 144h0M328 139h0M377 102h0M346 153h0M383 82h0M333 156h0M342 132h0M382 91h0M358 136h0M397 65h0M382 92h0M340 161h0M401 67h0M403 76h0M371 113h0M358 136h0M339 155h0M328 175h0M322 158h0M344 150h0M346 128h0M351 119h0M331 159h0M346 152h0M351 112h0M341 136h0M351 112h0M335 149h0M337 153h0M319 169h0M331 169h0M325 153h0M340 125h0M331 168h0M337 149h0M333 167h0M346 137h0M333 142h0M328 156h0"/>
<path d="M355 115h0M325 162h0M364 124h0M393 78h0M334 157h0M360 107h0M356 119h0M336 138h0M349 144h0M354 113h0M339 152h0M354 119h0M345 127h0M351 103h0M334 171h0M334 145h0M343 145h0M337 166h0M328 179h0M338 150h0M331 143h0M337 176h0M378 91h0M329 173h0M321 171h0M362 102h0M360 122h0M352 132h0M344 138h0M325 142h0M342 161h0M347 151h0M329 169h0M305 151h0M333 140h0M389 85h0M343 128h0M353 106h0M354 133h0M323 172h0M337 168h0M342 141h0M346 159h0M348 138h0M335 171h0M342 170h0M381 88h0M369 100h0M334 128h0M334 151h0M367 105h0M354 138h0M330 176h0M407 68h0M364 106h0M373 109h0M356 114h0M315 167h0M340 124h0M338 151h0M365 135h0M342 137h0M363 100h0M336 143h0M347 151h0M328 148h0M345 114h0M370 94h0M338 134h0M339 157h0M394 80h0M337 158h0M346 142h0M395 82h0M344 156h0M327 174h0M336 176h0M385 80h0M331 149h0M376 89h0M326 144h0M332 145h0M338 122h0M363 129h0M337 161h0M319 133h0M348 152h0M336 135h0M350 147h0M327 155h0M326 165h0M362 98h0M336 166h0M376 115h0M375 97h0M376 91h0M321 169h0M341 157h0M397 66h0M353 140h0M319 135h0M350 159h0M346 142h0M337 183h0M378 86h0M342 143h0M319 169h0M339 130h0M342 115h0M355 147h0M333 124h0M346 128h0M338 155h0M335 128h0M339 154h0M342 104h0M319 167h0M321 153h0M335 174h0M330 149h0M362 104h0M367 112h0M338 141h0M398 81h0M402 78h0M347 131h0M341 144h0M342 146h0M343 130h0M327 157h0M340 138h0M365 102h0M336 172h0M349 138h0M333 174h0M338 166h0M357 96h0M367 101h0M326 166h0M378 102h0M386 103h0M380 76h0M350 124h0M397 77h0M372 97h0M329 175h0M343 143h0M325 172h0M328 175h0M340 179h0M328 158h0M342 122h0M330 117h0M333 145h0M327 155h0M347 104h0M332 156h0M345 144h0M368 111h0M332 171h0M396 80h0M375 99h0M388 81h0M373 114h0M374 81h0M334 153h0M328 160h0M323 146h0M344 147h0M337 128h0M389 70h0M322 128h0M364 110h0M336 131h0M329 165h0M334 176h0M327 163h0M395 73h0M353 113h0M361 106h0M340 121h0M362 91h0M337 126h0M328 175h0M350 147h0M332 161h0M333 165h0M332 155h0M343 116h0M357 109h0M308 135h0M343 114h0M312 149h0M348 109h0M332 156h0M345 153h0M319 151h0M357 94h0M333 158h0M327 174h0M331 168h0M364 130h0M333 171h0M327 171h0M331 170h0M328 175h0M325 142h0M375 86h0M359 110h0M384 85h0M335 172h0M331 166h0M328 168h0M372 99h0M333 153h0M366 114h0M329 152h0M332 151h0M336 163h0M334 171h0M332 171h0M332 160h0M329 139h0M340 128h0M333 141h0M351 132h0M342 162h0M326 165h0M354 111h0M323 139h0M330 160h0M330 157h0M330 169h0M329 147h0M318 170h0M339 156h0M341 149h0M332 162h0M338 177h0M331 153h0M333 174h0M376 92h0M333 137h0M349 148h0M325 175h0"/>
<path d="M338 168h0M356 129h0M343 136h0M405 71h0M328 157h0M327 162h0M331 148h0M335 163h0M363 119h0M351 116h0M365 115h0M347 136h0M334 169h0M338 158h0M343 129h0M328 167h0M337 146h0M336 133h0M386 92h0M327 171h0M345 139h0M314 142h0M385 92h0M364 100h0M359 138h0M338 169h0M330 153h0M359 106h0M367 86h0M347 139h0M346 135h0M331 164h0M351 158h0M347 131h0M392 87h0M345 150h0M389 73h0M340 146h0M338 148h0M328 146h0M394 91h0M371 107h0M339 173h0M330 172h0M393 75h0M334 162h0M325 149h0M332 161h0M338 147h0M346 112h0M368 109h0M408 59h0M341 162h0M355 133h0M312 155h0M366 109h0M320 172h0M338 170h0M332 156h0M350 128h0M336 142h0M353 119h0M363 122h0M366 98h0M340 146h0M340 166h0M332 152h0M349 139h0M333 164h0M358 157h0M350 136h0M338 133h0M325 170h0M323 155h0M330 139h0M321 149h0M331 156h0M322 160h0M343 159h0M357 105h0M349 116h0M352 113h0M415 69h0M344 167h0M347 136h0M370 91h0M340 126h0M381 82h0M358 98h0M327 157h0M356 92h0M355 105h0M336 179h0M347 133h0M322 149h0M383 96h0M385 84h0M341 142h0M346 164h0M337 163h0M336 154h0M323 161h0M319 156h0M344 164h0M333 152h0M326 172h0M356 109h0M372 95h0M359 99h0M330 131h0M331 156h0M405 68h0M357 125h0M356 111h0M334 141h0M337 141h0M360 113h0M331 138h0M347 149h0M362 123h0M346 116h0M326 158h0M343 154h0M322 166h0M341 159h0M338 152h0M320 146h0M363 105h0M337 173h0M368 100h0M346 123h0M321 109h0M344 161h0M363 122h0M372 115h0M333 171h0M331 165h0M320 166h0M333 146h0M332 171h0M347 153h0M334 115h0M333 163h0M345 138h0M382 90h0M342 158h0M350 128h0M344 127h0M337 150h0M367 106h0M340 129h0M336 132h0M329 169h0M357 114h0M342 128h0M337 146h0M328 130h0M325 164h0M319 163h0M337 151h0M344 147h0M329 162h0M410 69h0M346 161h0M347 152h0M336 171h0M389 75h0M331 150h0M350 128h0M325 167h0M326 153h0M368 103h0M328 147h0M337 137h0M351 157h0M357 115h0M329 166h0M355 129h0M352 185h0M394 80h0M338 162h0M337 164h0M339 172h0M367 113h0M345 118h0M360 111h0M327 149h0M362 100h0M323 142h0M331 166h0M380 88h0M342 148h0M326 130h0M368 129h0M335 144h0M371 106h0M332 169h0M353 113h0M329 150h0M333 172h0M322 161h0M371 90h0M342 135h0M390 90h0M327 161h0M345 142h0M332 126h0M330 175h0M350 129h0M339 133h0M360 103h0M355 113h0M333 150h0M324 169h0M340 149h0M332 160h0M334 167h0M365 108h0M326 155h0M332 153h0M351 170h0M353 113h0M354 120h0M372 100h0M369 91h0M340 134h0M328 166h0M329 134h0M336 164h0M337 157h0M385 93h0M339 170h0M341 162h0M409 64h0M350 134h0M360 89h0M334 149h0M349 125h0M333 164h0M342 169h0M350 119h0M337 149h0M334 166h0M339 149h0M336 165h0"/>
<path d="M358 117h0M367 120h0M338 133h0M366 108h0M348 135h0M353 120h0M330 165h0M348 111h0M329 120h0M336 110h0M329 168h0M329 162h0M356 123h0M332 157h0M331 164h0M356 117h0M341 155h0M351 113h0M322 162h0M338 139h0M405 75h0M319 153h0M328 173h0M365 137h0M378 99h0M354 158h0M347 115h0M341 154h0M349 139h0M337 164h0M323 157h0M343 129h0M376 79h0M340 144h0M329 173h0M355 117h0M364 146h0M330 142h0M321 166h0M324 162h0M347 158h0M330 172h0M340 159h0M332 173h0M365 100h0M330 158h0M324 154h0M324 131h0M334 144h0M346 116h0M315 170h0M334 125h0M329 172h0M370 93h0M336 169h0M389 72h0M371 105h0M338 175h0M336 115h0M329 161h0M360 105h0M352 128h0M371 82h0M328 168h0M347 162h0M346 149h0M351 130h0M332 148h0M340 133h0M332 175h0M335 136h0M322 161h0M373 106h0M322 161h0M339 164h0M356 134h0M332 141h0M353 137h0M351 140h0M337 162h0M326 141h0M343 162h0M333 169h0M388 83h0M377 90h0M372 105h0M399 79h0M398 74h0M345 155h0M352 146h0M334 157h0M350 128h0M342 140h0M344 129h0M330 169h0M354 119h0M336 148h0M358 119h0M347 124h0M337 161h0M328 161h0M396 75h0M353 123h0M337 144h0M367 116h0M339 176h0M335 151h0M345 153h0M327 172h0M366 97h0M326 171h0M377 102h0M355 122h0M325 170h0M339 155h0M340 143h0M346 108h0M327 155h0M333 163h0M330 157h0M368 87h0M348 142h0M341 135h0M344 152h0M323 195h0M344 155h0M361 98h0M357 117h0M353 130h0M383 94h0M332 129h0M338 142h0M353 103h0M356 116h0M336 130h0M331 142h0M383 82h0M336 140h0M378 110h0M344 121h0M339 171h0M367 101h0M332 142h0M339 161h0M370 116h0M341 169h0M312 162h0M322 173h0M334 151h0M339 170h0M336 151h0M343 131h0M336 164h0M328 136h0M327 138h0M331 151h0M330 166h0M345 127h0M329 147h0M391 84h0M374 109h0M330 157h0M349 125h0M333 162h0M334 179h0M329 133h0M340 153h0M345 138h0M339 136h0M342 145h0M339 154h0M333 145h0M399 78h0M348 132h0M345 127h0M395 82h0M388 76h0M325 133h0M335 149h0M347 173h0M355 109h0M344 173h0M348 120h0M351 150h0M345 129h0M344 123h0M318 153h0M343 123h0M331 128h0M335 158h0M323 168h0M384 104h0M351 116h0M366 107h0M336 139h0M366 100h0M348 132h0M319 172h0M395 76h0M340 164h0M317 134h0M327 131h0M330 134h0M398 64h0M343 162h0M337 175h0M367 107h0M381 108h0M337 150h0M328 166h0M330 172h0M349 150h0M352 119h0M328 164h0M370 97h0M381 93h0M357 115h0M327 146h0M380 82h0M364 93h0M366 89h0M333 130h0M341 151h0M339 140h0M387 80h0M324 148h0M337 137h0M343 156h0M355 119h0M360 117h0M337 134h0M327 167h0M342 127h0M335 150h0M373 93h0M336 144h0M340 170h0M340 138h0M384 91h0M340 157h0M330 157h0M365 114h0M334 168h0M339 145h0M342 157h0"/>
<path d="M345 152h0M341 159h0M375 101h0M350 102h0M347 158h0M333 163h0M401 71h0M360 126h0M329 141h0M378 91h0M328 184h0M379 94h0M324 142h0M336 141h0M347 160h0M356 110h0M375 95h0M332 147h0M360 121h0M368 107h0M383 93h0M340 146h0M373 116h0M338 170h0M342 135h0M327 145h0M336 155h0M354 115h0M325 163h0M332 135h0M346 145h0M318 144h0M325 165h0M328 145h0M330 174h0M352 114h0M356 118h0M339 142h0M350 132h0M331 145h0M330 156h0M342 157h0M373 106h0M334 148h0M345 144h0M337 149h0M384 101h0M340 147h0M341 142h0M335 173h0M363 93h0M409 68h0M327 171h0M330 162h0M321 165h0M363 98h0M355 101h0M332 117h0M358 115h0M385 91h0M362 113h0M406 68h0M339 164h0M362 102h0M367 122h0M350 124h0M353 160h0M327 151h0M330 139h0M330 174h0M348 123h0M344 129h0M347 140h0M345 130h0M384 76h0M321 173h0M340 129h0M341 150h0M375 95h0M339 174h0M406 62h0M384 92h0M367 93h0M340 163h0M313 160h0M337 146h0M403 68h0M333 160h0M340 143h0M333 158h0M349 137h0M353 117h0M326 158h0M370 93h0M346 128h0M316 163h0M355 115h0M325 150h0M346 153h0M404 82h0M339 117h0M340 154h0M334 175h0M323 156h0M340 135h0M330 158h0M378 89h0M354 127h0M383 98h0M399 78h0M348 99h0M321 130h0M345 143h0M354 124h0M326 157h0M328 169h0M332 172h0M351 138h0M358 112h0M329 127h0M322 173h0M387 93h0M337 120h0M321 162h0M341 148h0M317 184h0M355 99h0M332 149h0M341 132h0M353 117h0M322 171h0M337 143h0M331 121h0M370 105h0M346 132h0M377 106h0M335 151h0M335 147h0M332 153h0M329 159h0M345 139h0M387 85h0M336 168h0M342 149h0M334 164h0M352 137h0M325 135h0M329 175h0M365 105h0M324 169h0M343 137h0M335 172h0M385 89h0M346 143h0M329 159h0M365 102h0M362 97h0M349 145h0M334 169h0M366 125h0M354 121h0M361 116h0M380 93h0M351 140h0M339 171h0M377 91h0M351 154h0M376 92h0M326 170h0M350 136h0M337 140h0M323 165h0M346 122h0M335 156h0M367 91h0M322 170h0M323 146h0M399 72h0M387 78h0M349 160h0M364 118h0M348 132h0M343 156h0M374 102h0M350 146h0M339 156h0M341 113h0M342 173h0M366 123h0M356 111h0M347 130h0M387 81h0M336 159h0M329 141h0M332 174h0M338 127h0M351 121h0M378 94h0M390 88h0M344 128h0M348 139h0M343 185h0M359 113h0M383 83h0M391 82h0M335 163h0M350 140h0M350 131h0M340 142h0M333 125h0M363 94h0M313 159h0M334 119h0M323 147h0M318 150h0M331 153h0M321 151h0M342 149h0M347 117h0M331 120h0M363 107h0M343 138h0M317 156h0M346 131h0M356 122h0M352 115h0M340 145h0M331 154h0M337 174h0M347 135h0M358 105h0M331 125h0M357 125h0M331 154h0M340 155h0M342 175h0M346 127h0M351 113h0M325 144h0M343 147h0M345 152h0M361 111h0M352 103h0M342 122h0M364 105h0"/>
<path d="M334 157h0M344 127h0M362 119h0M356 121h0M384 91h0M334 152h0M338 158h0M328 145h0M336 155h0M375 87h0M322 143h0M337 140h0M365 107h0M311 145h0M366 105h0M353 111h0M339 134h0M347 132h0M346 163h0M323 160h0M322 164h0M333 157h0M344 150h0M377 95h0M387 82h0M329 150h0M357 132h0M355 136h0M343 146h0M341 127h0M353 146h0M344 152h0M349 148h0M348 111h0M325 172h0M327 157h0M324 173h0M396 74h0M344 148h0M330 153h0M329 159h0M340 132h0M369 103h0M378 102h0M364 105h0M343 127h0M336 145h0M343 151h0M333 151h0M390 80h0M358 113h0M382 90h0M380 86h0M332 132h0M331 165h0M373 102h0M335 166h0M381 82h0M381 89h0M352 115h0M349 140h0M370 93h0M370 106h0M333 159h0M345 145h0M348 137h0M338 152h0M327 133h0M347 107h0M348 126h0M337 176h0M395 85h0M331 158h0M398 79h0M338 153h0M328 160h0M366 151h0M363 116h0M340 157h0M329 139h0M332 169h0M332 161h0M354 122h0M346 141h0M330 163h0M338 136h0M331 166h0M334 146h0M350 145h0M318 169h0M380 97h0M338 143h0M370 89h0M327 165h0M351 149h0M405 74h0M321 150h0M372 105h0M336 155h0M338 177h0M364 96h0M336 122h0M332 176h0M374 89h0M331 123h0M338 126h0M323 168h0M398 80h0M325 141h0M325 163h0M383 91h0M356 122h0M370 97h0M387 82h0M319 153h0M316 150h0M335 148h0M353 136h0M346 142h0M344 143h0M365 120h0M337 148h0M331 142h0M333 152h0M366 126h0M342 109h0M341 153h0M330 158h0M327 159h0M334 150h0M353 123h0M331 148h0M353 139h0M359 138h0M341 148h0M329 153h0M367 99h0M370 94h0M322 161h0M331 156h0M331 151h0M355 159h0M341 129h0M357 124h0M389 97h0M337 134h0M325 152h0M335 141h0M346 125h0M309 161h0M340 125h0M336 162h0M378 88h0M338 157h0M335 135h0M334 160h0M331 172h0M337 156h0M357 106h0M324 173h0M406 64h0M330 166h0M329 170h0M333 160h0M351 116h0M343 164h0M331 128h0M342 170h0M333 118h0M335 141h0M333 166h0M348 142h0M342 132h0M344 116h0M330 145h0M371 102h0M362 111h0M335 172h0M360 128h0M366 122h0M328 157h0M337 134h0M334 153h0M322 156h0M350 166h0M377 93h0M369 109h0M343 124h0M341 147h0M372 116h0M354 119h0M360 126h0M357 132h0M331 167h0M334 158h0M361 109h0M333 168h0M338 158h0M340 128h0M352 142h0M342 145h0M335 140h0M335 117h0M335 137h0M342 137h0M385 85h0M326 175h0M330 165h0M356 126h0M320 118h0M380 94h0M332 153h0M322 160h0M336 153h0M334 148h0M323 153h0M338 139h0M394 72h0M370 117h0M334 160h0M363 116h0M333 167h0M326 152h0M359 119h0M331 169h0M379 108h0M327 155h0M379 90h0M371 126h0M351 112h0M353 133h0M371 82h0M319 158h0M393 76h0M342 152h0M339 142h0M363 123h0M333 162h0M331 130h0M344 133h0M329 132h0M319 135h0M358 110h0M330 151h0M343 140h0"/>
<path d="M369 96h0M341 141h0M323 129h0M371 105h0M333 171h0M330 179h0M341 150h0M341 125h0M362 112h0M344 158h0M340 128h0M366 102h0M323 161h0M326 146h0M340 165h0M339 136h0M336 146h0M335 131h0M394 79h0M340 107h0M326 167h0M326 171h0M340 143h0M333 165h0M334 151h0M339 152h0M359 159h0M336 159h0M346 118h0M335 169h0M346 119h0M330 172h0M324 151h0M366 91h0M334 167h0M364 100h0M341 149h0M335 145h0M347 135h0M350 113h0M324 153h0M326 167h0M347 132h0M337 159h0M331 154h0M338 147h0M336 144h0M339 151h0M337 144h0M326 162h0M347 114h0M331 169h0M346 115h0M335 144h0M325 156h0M379 88h0M409 69h0M340 155h0M329 153h0M353 141h0M347 168h0M332 164h0M396 99h0M341 131h0M400 67h0M337 159h0M356 141h0M323 156h0M356 125h0M336 160h0M322 155h0M363 110h0M334 166h0M338 187h0M369 104h0M353 112h0M340 139h0M323 153h0M331 174h0M376 90h0M320 149h0M351 131h0M339 133h0M353 160h0M345 137h0M341 131h0M353 121h0M340 141h0M336 158h0M329 166h0M399 82h0M363 121h0M384 91h0M339 132h0M331 145h0M352 124h0M343 151h0M336 149h0M348 128h0M351 137h0M332 168h0M341 126h0M341 141h0M348 171h0M392 92h0M343 124h0M328 144h0M380 87h0M366 122h0M348 116h0M380 94h0M407 69h0M382 91h0M356 120h0M344 154h0M331 174h0M325 145h0M332 142h0M338 143h0M340 167h0M377 101h0M312 170h0M349 155h0M345 132h0M372 103h0M336 137h0M323 142h0M380 93h0M327 172h0M384 95h0M364 104h0M405 75h0M327 171h0M330 166h0M335 135h0M312 189h0M328 143h0M334 151h0M332 167h0M342 167h0M337 138h0M343 118h0M321 171h0M338 151h0M335 151h0M368 98h0M330 167h0M349 131h0M340 154h0M369 105h0M339 167h0M344 142h0M336 142h0M344 152h0M405 70h0M339 163h0M324 159h0M327 168h0M358 114h0M334 162h0M306 152h0M324 175h0M348 132h0M361 133h0M372 111h0M321 129h0M329 143h0M377 111h0M365 105h0M329 134h0M375 107h0M330 121h0M335 141h0M325 165h0M331 156h0M378 101h0M333 142h0M389 86h0M375 103h0M339 162h0M351 127h0M353 125h0M336 125h0M325 168h0M345 127h0M334 170h0M344 131h0M341 135h0M342 123h0M329 149h0M332 164h0M334 175h0M333 146h0M395 79h0M383 88h0M340 154h0M350 133h0M379 102h0M347 138h0M376 102h0M336 174h0M392 93h0M348 134h0M331 167h0M352 129h0M331 138h0M350 131h0M334 173h0M336 129h0M326 149h0M369 100h0M385 92h0M387 90h0M351 117h0M359 139h0M338 149h0M339 129h0M332 173h0M336 133h0M336 162h0M378 85h0M339 145h0M327 163h0M343 157h0M335 143h0M406 65h0M342 142h0M340 130h0M344 128h0M366 108h0M337 153h0M341 163h0M334 167h0M344 131h0M336 134h0M364 136h0M335 162h0M396 75h0M342 148h0M331 156h0M384 88h0M375 113h0M336 143h0M330 144h0M335 167h0"/>
<path d="M386 87h0M356 111h0M323 133h0M342 151h0M330 170h0M381 81h0M385 97h0M327 150h0M334 155h0M339 138h0M341 128h0M370 103h0M345 156h0M354 111h0M395 101h0M333 151h0M339 164h0M359 114h0M332 152h0M369 116h0M364 101h0M326 166h0M326 134h0M343 125h0M376 122h0M332 172h0M334 142h0M328 158h0M352 156h0M338 151h0M362 130h0M361 131h0M363 135h0M338 151h0M371 100h0M344 127h0M335 142h0M349 122h0M351 158h0M328 144h0M330 131h0M393 79h0M342 148h0M353 171h0M328 143h0M344 143h0M335 166h0M316 154h0M362 93h0M364 98h0M321 150h0M336 161h0M340 123h0M333 143h0M349 133h0M330 156h0M362 108h0M379 89h0M327 163h0M363 101h0M329 157h0M398 80h0M326 156h0M325 147h0M336 166h0M338 147h0M332 171h0M331 147h0M376 103h0M345 143h0M349 139h0M352 114h0M323 144h0M336 148h0M382 95h0M339 146h0M334 139h0M403 73h0M396 87h0M336 157h0M344 142h0M345 145h0M364 119h0M362 95h0M332 137h0M336 161h0M332 156h0M351 138h0M347 148h0M366 99h0M337 168h0M353 127h0M334 176h0M324 173h0M411 77h0M343 148h0M320 165h0M333 146h0M341 140h0M360 129h0M326 174h0M334 130h0M327 152h0M329 170h0M329 171h0M333 120h0M338 117h0M355 103h0M339 153h0M361 114h0M340 155h0M328 147h0M380 88h0M332 155h0M348 179h0M324 165h0M344 131h0M373 98h0M355 125h0M335 142h0M339 139h0M346 145h0M350 158h0M337 136h0M340 167h0M350 133h0M394 78h0M342 136h0M335 120h0M339 111h0M336 159h0M343 139h0M355 134h0M338 168h0M338 138h0M355 117h0M370 97h0M340 153h0M365 97h0M332 143h0M395 75h0M330 163h0M373 99h0M366 118h0M342 157h0M332 172h0M328 167h0M357 104h0M328 159h0M367 114h0M333 136h0M347 165h0M323 143h0M343 128h0M331 167h0M349 122h0M390 80h0M337 163h0M388 89h0M329 138h0M357 151h0M318 140h0M375 102h0M345 157h0M366 100h0M331 156h0M331 149h0M343 167h0M344 149h0M333 151h0M340 137h0M386 95h0M354 132h0M334 151h0M336 136h0M385 89h0M337 176h0M333 168h0M337 149h0M323 148h0M335 133h0M384 86h0M347 156h0M333 160h0M369 93h0M360 113h0M316 151h0M384 85h0M331 171h0M345 146h0M328 143h0M375 89h0M343 137h0M396 76h0M336 155h0M334 175h0M336 139h0M361 93h0M384 84h0M345 116h0M408 60h0M387 80h0M337 144h0M396 68h0M351 146h0M342 123h0M327 163h0M362 112h0M349 176h0M341 149h0M336 134h0M336 159h0M350 127h0M353 147h0M331 136h0M365 110h0M330 174h0M360 92h0M343 131h0M368 127h0M339 156h0M347 118h0M330 153h0M378 87h0M320 136h0M367 109h0M348 111h0M348 105h0M358 113h0M336 166h0M360 108h0M342 146h0M369 96h0M358 131h0M394 80h0M375 96h0M332 170h0M328 175h0M330 175h0M347 110h0M326 164h0M369 103h0M334 143h0M320 165h0M378 110h0"/>
<path d="M320 144h0M361 131h0M331 150h0M333 143h0M376 108h0M344 150h0M344 158h0M341 142h0M341 151h0M356 105h0M341 135h0M396 77h0M332 145h0M332 146h0M345 137h0M341 165h0M328 144h0M353 140h0M359 169h0M335 176h0M331 152h0M373 97h0M314 165h0M395 89h0M351 148h0M401 74h0M332 130h0M355 151h0M335 147h0M331 137h0M327 164h0M343 129h0M337 138h0M341 148h0M334 173h0M354 117h0M318 158h0M327 176h0M333 151h0M339 127h0M325 168h0M315 146h0M361 123h0M327 172h0M325 155h0M329 147h0M325 162h0M389 68h0M377 93h0M336 136h0M360 126h0M342 144h0M365 97h0M347 130h0M350 101h0M325 144h0M337 144h0M390 76h0M402 73h0M346 141h0M332 140h0M396 79h0M334 175h0M338 133h0M334 144h0M337 151h0M386 82h0M337 149h0M382 93h0M359 130h0M361 108h0M334 145h0M342 133h0M344 138h0M384 96h0M341 132h0M364 108h0M326 170h0M331 169h0M327 158h0M331 170h0M330 133h0M332 165h0M351 132h0M338 148h0M329 151h0M368 96h0M354 103h0M376 90h0M348 141h0M318 160h0M344 138h0M330 181h0M321 154h0M339 169h0M334 160h0M328 173h0M329 125h0M334 160h0M342 136h0M341 155h0M326 173h0M361 82h0M346 150h0M328 170h0M333 158h0M361 116h0M358 109h0M339 158h0M338 126h0M327 133h0M343 173h0M376 89h0M327 162h0M320 173h0M328 161h0M325 156h0M327 140h0M343 146h0M330 165h0M370 100h0M337 173h0M344 163h0M340 161h0M383 89h0M323 153h0M328 162h0M334 133h0M330 155h0M369 90h0M329 155h0M325 175h0M397 59h0M368 112h0M327 169h0M344 139h0M335 111h0M363 91h0M342 137h0M339 170h0M355 84h0M376 117h0M331 170h0M335 175h0M334 128h0M359 111h0M331 168h0M368 101h0M412 67h0M358 140h0M328 170h0M396 81h0M354 132h0M336 153h0M336 149h0M336 142h0M347 144h0M348 119h0M351 109h0M324 139h0M342 122h0M335 138h0M333 163h0M388 84h0M378 79h0M364 118h0M351 100h0M333 143h0M398 78h0M347 120h0M349 135h0M385 86h0M332 130h0M325 174h0M339 157h0M391 84h0M325 163h0M387 77h0M329 169h0M315 150h0M361 106h0M325 175h0M336 131h0M336 132h0M353 132h0M335 150h0M360 113h0M332 151h0M321 155h0M363 97h0M343 120h0M336 153h0M345 136h0M337 145h0M329 172h0M333 144h0M354 126h0M328 152h0M406 68h0M335 151h0M356 107h0M363 110h0M334 153h0M336 159h0M344 158h0M356 106h0M354 135h0M338 120h0M337 154h0M346 157h0M331 171h0M337 154h0M334 164h0M336 169h0M344 121h0M368 125h0M337 149h0M362 109h0M357 102h0M342 162h0M315 151h0M385 81h0M367 109h0M331 132h0M363 117h0M377 96h0M333 168h0M367 107h0M335 161h0M330 167h0M362 106h0M361 104h0M344 150h0M338 151h0M341 162h0M325 167h0M308 132h0M339 153h0M337 138h0M330 165h0M337 172h0M333 172h0M343 132h0M334 148h0M341 162h0"/>
</g>
<g stroke="#808080" stroke-width="6" stroke-linecap="round" stroke-opacity="0.11" fill="none" filter="url(#bl2)">
<path d="M357 92h0M354 153h0M347 89h0M367 69h0M345 103h0M338 91h0M383 119h0M377 118h0M367 218h0M365 296h0M314 101h0M357 292h0M344 168h0M349 88h0M357 84h0M342 88h0M334 177h0M371 127h0M398 103h0M369 127h0M329 219h0M359 190h0M362 194h0M356 76h0M365 63h0M367 180h0M350 335h0M356 89h0M372 136h0M360 143h0M312 137h0M332 84h0M378 119h0M343 195h0M350 276h0M337 238h0M354 254h0M376 136h0M354 68h0M364 143h0M361 146h0M346 208h0M361 89h0M338 158h0M372 57h0M346 65h0M370 258h0M343 241h0M359 87h0M393 132h0M363 134h0M360 58h0M360 46h0M345 178h0M347 288h0M364 169h0M326 245h0M336 111h0M383 75h0M363 302h0M375 124h0M330 269h0M357 153h0M393 151h0M362 283h0M342 115h0M350 331h0M360 84h0M341 87h0M336 90h0M350 53h0M382 262h0M354 312h0M377 281h0M364 230h0M353 148h0M350 69h0M390 60h0M398 115h0M329 77h0M339 234h0M363 318h0M330 68h0M346 108h0M416 100h0M368 375h0M352 76h0M362 86h0M328 103h0M345 77h0M357 205h0M338 78h0M368 74h0M340 75h0M373 192h0M363 48h0M399 104h0M343 156h0M345 94h0M352 91h0M365 146h0M308 149h0M345 183h0M373 129h0M354 160h0M343 272h0"/>
<path d="M367 228h0M338 256h0M339 272h0M360 264h0M325 110h0M331 96h0M348 196h0M371 313h0M365 202h0M361 77h0M364 86h0M354 149h0M347 149h0M355 145h0M329 129h0M335 88h0M333 57h0M347 380h0M355 368h0M352 307h0M387 113h0M363 199h0M373 153h0M361 138h0M359 289h0M350 76h0M358 303h0M341 156h0M342 95h0M310 186h0M356 362h0M365 266h0M355 371h0M373 125h0M354 41h0M378 235h0M328 30h0M356 66h0M339 61h0M340 113h0M331 72h0M345 275h0M364 206h0M376 131h0M369 247h0M325 113h0M379 210h0M361 96h0M355 210h0M347 77h0M339 250h0M342 315h0M381 53h0M359 269h0M370 133h0M387 114h0M335 347h0M339 108h0M359 336h0M362 195h0M328 333h0M338 203h0M337 84h0M376 43h0M341 330h0M368 136h0M352 145h0M355 150h0M339 73h0M345 192h0M377 67h0M381 63h0M364 188h0M291 158h0M378 127h0M351 156h0M346 87h0M345 232h0M352 66h0M322 100h0M330 126h0M351 99h0M339 178h0M347 273h0M333 37h0M341 366h0M340 244h0M362 65h0M371 30h0M361 209h0M371 52h0M372 69h0M338 178h0M352 101h0M311 106h0M361 299h0M365 136h0M335 335h0M373 221h0M336 225h0M352 184h0M330 122h0M328 215h0M364 136h0M305 144h0M354 233h0"/>
<path d="M373 268h0M340 107h0M344 107h0M362 346h0M360 288h0M354 98h0M330 120h0M355 156h0M356 206h0M356 240h0M360 270h0M354 98h0M411 86h0M338 68h0M354 150h0M355 88h0M379 131h0M328 123h0M344 82h0M358 148h0M347 88h0M353 274h0M349 180h0M372 240h0M355 80h0M366 55h0M369 132h0M333 267h0M320 82h0M354 227h0M358 225h0M351 275h0M314 132h0M345 297h0M351 79h0M334 82h0M345 84h0M348 67h0M342 184h0M322 184h0M365 217h0M385 62h0M351 103h0M359 253h0M343 77h0M370 81h0M353 263h0M368 234h0M342 91h0M350 187h0M348 197h0M318 93h0M374 146h0M318 99h0M329 128h0M356 186h0M336 84h0M333 274h0M363 281h0M347 369h0M317 197h0M327 170h0M354 232h0M372 135h0M380 128h0M362 42h0M368 73h0M350 322h0M347 99h0M360 97h0M350 184h0M351 264h0M380 30h0M339 118h0M336 211h0M331 109h0M342 276h0M346 86h0M345 247h0M353 206h0M343 156h0M377 50h0M353 289h0M367 152h0M383 116h0M405 109h0M352 250h0M379 162h0M379 313h0M349 97h0M340 98h0M330 192h0M373 241h0M381 149h0M340 351h0M322 179h0M353 182h0M352 179h0M336 95h0M347 208h0M347 98h0M349 178h0M365 242h0M382 136h0M389 120h0"/>
<path d="M353 147h0M345 80h0M351 97h0M362 133h0M354 187h0M353 272h0M334 196h0M359 360h0M345 78h0M336 164h0M326 341h0M350 78h0M344 104h0M345 103h0M383 74h0M352 287h0M343 46h0M340 358h0M358 152h0M329 107h0M352 95h0M343 323h0M366 89h0M337 188h0M364 61h0M345 193h0M358 319h0M343 85h0M368 201h0M371 78h0M349 100h0M335 65h0M371 85h0M383 135h0M355 246h0M321 138h0M367 164h0M349 275h0M357 62h0M328 237h0M320 100h0M348 104h0M382 124h0M350 220h0M307 139h0M344 222h0M385 55h0M382 119h0M338 88h0M347 95h0M376 121h0M357 224h0M366 137h0M334 365h0M328 185h0M340 180h0M387 122h0M347 251h0M329 53h0M343 102h0M350 239h0M326 75h0M356 297h0M336 200h0M307 202h0M350 210h0M348 70h0M343 161h0M365 221h0M379 129h0M325 117h0M367 128h0M349 79h0M344 106h0M367 128h0M389 42h0M367 131h0M365 321h0M342 74h0M352 332h0M385 211h0M359 208h0M381 208h0M332 220h0M372 131h0M344 183h0M365 193h0M323 102h0M389 119h0M297 131h0M364 177h0M366 78h0M348 92h0M365 86h0M342 347h0M399 18h0M354 142h0M345 94h0M338 68h0M343 99h0M359 212h0M339 99h0M350 151h0M369 62h0M391 105h0"/>
<path d="M341 221h0M366 57h0M323 104h0M361 89h0M353 336h0M374 52h0M362 283h0M371 145h0M344 52h0M355 278h0M350 88h0M365 324h0M367 183h0M388 57h0M350 155h0M356 213h0M353 354h0M347 290h0M362 221h0M341 320h0M346 100h0M334 176h0M341 187h0M344 343h0M335 368h0M328 185h0M327 85h0M332 100h0M365 88h0M335 184h0M367 206h0M363 12h0M354 157h0M350 158h0M380 215h0M356 60h0M354 18h0M374 122h0M316 122h0M366 65h0M346 61h0M386 124h0M373 125h0M371 80h0M354 215h0M363 150h0M386 277h0M356 72h0M367 158h0M370 63h0M377 124h0M337 102h0M336 117h0M344 242h0M371 52h0M361 202h0M363 264h0M383 55h0M380 66h0M359 274h0M335 61h0M364 67h0M359 149h0M361 257h0M342 309h0M368 128h0M385 117h0M360 92h0M376 73h0M338 115h0M351 251h0M343 184h0M316 78h0M349 243h0M342 91h0M316 193h0M401 98h0M348 86h0M341 107h0M346 162h0M388 129h0M355 180h0M369 254h0M347 166h0M342 93h0M322 93h0M354 85h0M351 217h0M349 345h0M348 218h0M348 46h0M370 69h0M353 92h0M337 174h0M354 251h0M353 64h0M349 298h0M357 209h0M354 190h0M352 303h0M340 73h0M343 293h0M356 49h0M366 131h0M346 180h0"/>
<path d="M363 332h0M349 233h0M383 126h0M363 258h0M341 217h0M343 107h0M372 141h0M346 103h0M360 150h0M336 110h0M346 334h0M372 135h0M355 88h0M362 49h0M331 119h0M356 71h0M345 182h0M365 79h0M356 187h0M356 83h0M368 62h0M357 56h0M355 180h0M394 109h0M395 116h0M367 351h0M348 59h0M350 224h0M360 137h0M338 115h0M350 183h0M361 71h0M371 229h0M325 244h0M345 60h0M310 101h0M365 297h0M335 314h0M349 101h0M339 102h0M350 183h0M360 93h0M358 99h0M356 214h0M359 71h0M347 245h0M353 284h0M385 30h0M386 62h0M371 60h0M349 104h0M344 346h0M361 197h0M373 131h0M362 137h0M318 126h0M348 331h0M348 82h0M382 51h0M383 58h0M345 100h0M367 75h0M362 78h0M338 180h0M347 158h0M306 218h0M348 76h0M357 169h0M364 34h0M369 353h0M338 234h0M355 314h0M331 205h0M331 113h0M351 287h0M350 35h0M347 111h0M354 210h0M345 226h0M311 203h0M376 278h0M312 76h0M365 80h0M351 144h0M405 103h0M381 125h0M340 245h0M335 184h0M355 319h0M384 136h0M365 72h0M320 112h0M367 20h0M350 198h0M357 239h0M353 149h0M346 173h0M385 302h0M344 289h0M346 98h0M386 121h0M314 99h0M369 130h0M358 249h0M360 147h0"/>
</g>
<line x1="108.50" y1="380.20" x2="492.30" y2="-3.40" stroke="#c6c6c6" stroke-width="4.2" stroke-dasharray="19 9" stroke-dashoffset="18.2" clip-path="url(#cAL)"/>
<g stroke="#ff0000" stroke-width="5.2" stroke-linecap="round" stroke-opacity="0.17" fill="none" filter="url(#bl2)">
<path d="M179 321h0M198 297h0M203 289h0M212 274h0M178 321h0M177 314h0M194 305h0M196 287h0M187 291h0M181 313h0M182 304h0M175 314h0M187 303h0M195 292h0M169 322h0M207 281h0M195 292h0M215 268h0M185 299h0M197 276h0M186 317h0M200 284h0M178 318h0M196 304h0M170 312h0M215 275h0M212 277h0M208 281h0M188 309h0M197 298h0M194 294h0M185 309h0M213 285h0M184 330h0M165 316h0M177 310h0M179 318h0M192 317h0M201 288h0M207 278h0M188 301h0M199 285h0M200 280h0M178 307h0M194 297h0M203 287h0M209 275h0M204 290h0M174 320h0M212 274h0M167 326h0M211 285h0M191 301h0M220 268h0M219 272h0M208 279h0M166 322h0M208 283h0M219 273h0M175 309h0M186 306h0M183 297h0M196 293h0M184 309h0M171 319h0M180 289h0M211 282h0M198 279h0M178 316h0M211 284h0M190 292h0M184 306h0M190 302h0M177 308h0M192 312h0M212 281h0M175 313h0M203 297h0M195 293h0M201 297h0M178 311h0M196 291h0M230 277h0M217 281h0M187 303h0M198 293h0M210 284h0M171 317h0M186 298h0M209 287h0M209 276h0M199 290h0M204 271h0M210 275h0M171 305h0M195 285h0M176 314h0M209 283h0M202 280h0M217 270h0M210 284h0M205 281h0M221 274h0M208 269h0M197 288h0M201 278h0M202 296h0M190 300h0M209 278h0M180 299h0M207 296h0M186 320h0M201 279h0M204 298h0M194 292h0M200 280h0M170 309h0M193 300h0M197 293h0M181 312h0M192 288h0M176 315h0M183 308h0M185 302h0M183 298h0M184 296h0M191 294h0M185 309h0M180 296h0M199 294h0M204 282h0M203 279h0M221 263h0M176 319h0M190 300h0M220 266h0M198 296h0M182 308h0M198 300h0M201 296h0M179 313h0M197 302h0M195 293h0M167 321h0M203 276h0M191 312h0M200 294h0M210 270h0M188 309h0M194 290h0M194 292h0M207 287h0M185 322h0M200 300h0M209 292h0M164 328h0M180 295h0M199 288h0M188 305h0M194 305h0M179 311h0M222 265h0M180 305h0M175 315h0M196 301h0M193 296h0M204 268h0M198 301h0M194 285h0M194 300h0"/>
<path d="M188 315h0M178 306h0M181 304h0M194 311h0M182 309h0M187 305h0M206 292h0M197 297h0M199 284h0M214 281h0M179 321h0M188 295h0M194 292h0M181 304h0M197 290h0M215 264h0M177 318h0M201 283h0M184 307h0M184 311h0M204 293h0M192 292h0M212 291h0M184 310h0M203 277h0M192 287h0M199 294h0M208 292h0M206 286h0M181 302h0M199 288h0M200 285h0M183 310h0M213 277h0M199 288h0M187 310h0M198 316h0M195 298h0M216 276h0M193 301h0M175 316h0M175 322h0M194 285h0M182 305h0M198 296h0M203 277h0M199 300h0M218 271h0M188 303h0M176 311h0M208 304h0M184 307h0M190 311h0M202 290h0M203 292h0M210 271h0M191 315h0M207 284h0M207 289h0M198 284h0M206 287h0M192 293h0M200 292h0M176 312h0M175 308h0M210 277h0M166 327h0M195 304h0M213 282h0M184 297h0M218 267h0M190 301h0M197 286h0M174 318h0M219 278h0M201 285h0M179 298h0M169 329h0M188 301h0M217 277h0M191 299h0M199 274h0M219 273h0M174 313h0M186 303h0M200 299h0M214 277h0M192 296h0M184 313h0M215 272h0M187 320h0M195 290h0M178 311h0M202 283h0M186 313h0M206 289h0M206 285h0M210 273h0M176 313h0M210 274h0M183 301h0M189 290h0M178 318h0M215 284h0M220 265h0M199 296h0M159 315h0M210 284h0M212 276h0M214 273h0M203 289h0M179 319h0M192 305h0M194 289h0M184 304h0M210 284h0M204 284h0M192 290h0M189 304h0M206 284h0M189 300h0M205 286h0M203 295h0M170 312h0M194 305h0M168 316h0M211 281h0M180 310h0M184 293h0M181 315h0M185 309h0M231 266h0M184 290h0M207 272h0M190 304h0M182 319h0M171 315h0M180 309h0M202 283h0M201 277h0M177 305h0M185 302h0M166 326h0M166 311h0M174 311h0M192 285h0M161 323h0M203 290h0M209 290h0M187 298h0M198 286h0M195 298h0M186 308h0M202 279h0M186 308h0M175 326h0M203 279h0M214 279h0M209 284h0M184 307h0M180 314h0M197 297h0M200 288h0M182 315h0M187 302h0M172 323h0M193 288h0M179 311h0M201 288h0M201 294h0"/>
<path d="M204 268h0M180 320h0M209 289h0M196 296h0M192 307h0M189 306h0M191 303h0M207 282h0M212 275h0M203 294h0M205 293h0M201 289h0M203 283h0M202 287h0M192 297h0M195 300h0M207 273h0M218 269h0M174 298h0M177 310h0M211 276h0M187 305h0M187 319h0M178 322h0M225 256h0M168 327h0M216 284h0M178 318h0M182 296h0M172 315h0M201 284h0M163 319h0M219 282h0M189 301h0M185 309h0M196 293h0M204 289h0M191 309h0M182 317h0M193 301h0M177 316h0M220 280h0M189 288h0M178 326h0M181 310h0M178 313h0M187 301h0M184 318h0M226 274h0M180 310h0M184 305h0M199 297h0M186 310h0M188 301h0M181 316h0M167 309h0M193 296h0M195 287h0M184 315h0M170 316h0M182 303h0M199 295h0M205 284h0M194 296h0M167 309h0M211 275h0M187 309h0M163 327h0M196 304h0M174 320h0M205 279h0M209 274h0M220 278h0M212 278h0M168 319h0M175 318h0M206 279h0M192 295h0M210 272h0M184 314h0M191 295h0M196 294h0M199 289h0M216 276h0M201 292h0M210 282h0M193 303h0M169 323h0M209 296h0M198 285h0M189 288h0M222 264h0M194 300h0M173 326h0M170 309h0M204 297h0M196 299h0M190 308h0M201 289h0M208 277h0M192 296h0M170 325h0M211 263h0M182 306h0M215 273h0M199 293h0M217 275h0M172 326h0M197 295h0M207 286h0M186 314h0M206 284h0M204 291h0M190 289h0M198 283h0M184 301h0M209 284h0M218 273h0M189 309h0M197 283h0M184 306h0M192 290h0M188 307h0M206 273h0M175 319h0M208 276h0M204 293h0M184 299h0M204 287h0M173 327h0M189 296h0M183 308h0M185 299h0M215 271h0M193 304h0M209 271h0M189 299h0M205 281h0M208 269h0M175 325h0M177 323h0M200 288h0M202 303h0M170 319h0M197 300h0M178 318h0M185 292h0M180 311h0M175 309h0M194 282h0M193 289h0M212 280h0M172 307h0M201 296h0M207 279h0M203 275h0M217 269h0M169 312h0M205 289h0M166 320h0M198 302h0M203 284h0M172 307h0M196 304h0M207 293h0M192 310h0M195 285h0M186 302h0M171 328h0M191 308h0"/>
<path d="M182 311h0M199 292h0M221 266h0M210 277h0M176 304h0M177 315h0M173 316h0M211 286h0M202 289h0M197 306h0M198 304h0M198 295h0M189 298h0M210 284h0M172 323h0M176 314h0M167 319h0M189 311h0M171 312h0M199 288h0M177 303h0M201 287h0M183 294h0M213 269h0M205 274h0M182 298h0M191 289h0M190 303h0M218 272h0M183 308h0M213 271h0M190 295h0M212 283h0M192 295h0M191 299h0M187 309h0M201 288h0M196 292h0M182 309h0M199 290h0M191 300h0M214 282h0M204 279h0M197 283h0M188 304h0M185 316h0M194 288h0M192 294h0M212 280h0M198 297h0M207 275h0M205 278h0M190 290h0M190 294h0M197 289h0M206 270h0M220 266h0M232 270h0M187 305h0M182 307h0M212 281h0M218 281h0M212 263h0M211 269h0M189 303h0M205 276h0M187 301h0M213 266h0M197 296h0M206 280h0M200 295h0M208 278h0M229 267h0M178 319h0M209 280h0M166 318h0M192 296h0M193 302h0M174 311h0M203 281h0M168 327h0M205 276h0M190 294h0M181 307h0M199 292h0M192 299h0M204 285h0M180 314h0M169 326h0M218 284h0M177 319h0M191 296h0M210 267h0M204 292h0M193 289h0M195 307h0M213 276h0M199 299h0M184 306h0M204 284h0M198 297h0M215 274h0M177 312h0M213 278h0M184 303h0M193 284h0M178 304h0M211 273h0M210 279h0M217 279h0M182 304h0M200 289h0M207 283h0M208 290h0M202 276h0M188 298h0M179 304h0M194 293h0M181 312h0M210 280h0M182 313h0M213 291h0M190 300h0M174 323h0M178 306h0M215 276h0M184 303h0M195 299h0M173 313h0M206 279h0M188 289h0M213 289h0M167 324h0M180 313h0M204 276h0M202 286h0M172 325h0M216 275h0M194 291h0M186 301h0M207 290h0M183 300h0M184 302h0M203 289h0M188 316h0M208 280h0M207 286h0M199 292h0M196 286h0M185 300h0M197 291h0M163 327h0M211 279h0M177 308h0M189 304h0M213 273h0M180 318h0M184 316h0M224 266h0M199 287h0M196 302h0M197 288h0M165 317h0M200 287h0M203 277h0M193 291h0M182 324h0M201 294h0M179 319h0M186 289h0"/>
<path d="M167 321h0M199 288h0M204 276h0M185 302h0M195 274h0M191 298h0M195 288h0M184 313h0M195 301h0M172 312h0M191 291h0M196 291h0M196 292h0M202 294h0M191 317h0M193 300h0M182 309h0M218 263h0M211 285h0M207 290h0M179 321h0M208 288h0M207 266h0M181 316h0M197 282h0M204 284h0M190 305h0M210 276h0M180 319h0M207 270h0M217 264h0M179 312h0M196 280h0M222 270h0M191 315h0M195 295h0M205 295h0M198 294h0M189 287h0M194 285h0M212 279h0M217 268h0M205 281h0M198 291h0M213 282h0M184 303h0M190 294h0M195 295h0M211 272h0M188 306h0M208 293h0M208 274h0M185 301h0M187 293h0M182 307h0M180 305h0M222 267h0M170 331h0M171 310h0M172 296h0M205 288h0M186 300h0M182 320h0M178 308h0M177 311h0M195 303h0M190 309h0M188 305h0M190 299h0M193 297h0M198 292h0M217 276h0M182 314h0M181 324h0M183 305h0M181 295h0M176 325h0M173 310h0M210 282h0M211 281h0M187 313h0M173 309h0M204 300h0M200 281h0M193 299h0M178 316h0M191 293h0M173 317h0M197 289h0M184 314h0M206 280h0M207 290h0M195 285h0M181 285h0M172 325h0M208 276h0M187 317h0M185 315h0M177 313h0M190 285h0M191 305h0M175 322h0M230 271h0M221 270h0M180 311h0M186 294h0M168 322h0M199 278h0M200 291h0M209 284h0M194 301h0M171 326h0M213 267h0M204 293h0M166 325h0M218 264h0M209 283h0M180 296h0M209 273h0M195 300h0M180 313h0M200 302h0M184 298h0M183 307h0M174 319h0M178 322h0M187 303h0M218 276h0M207 282h0M174 319h0M202 297h0M185 306h0M200 300h0M191 298h0M209 281h0M206 275h0M162 324h0M192 290h0M202 289h0M181 313h0M210 271h0M201 292h0M216 269h0M204 286h0M199 307h0M197 272h0M215 278h0M178 308h0M212 284h0M211 281h0M181 306h0M200 274h0M203 289h0M178 303h0M213 276h0M200 295h0M179 320h0M194 297h0M196 282h0M193 297h0M176 328h0M182 305h0M181 315h0M195 293h0M205 285h0M170 319h0M201 285h0M213 290h0M197 298h0M197 288h0"/>
<path d="M180 316h0M204 282h0M225 269h0M173 310h0M195 298h0M204 284h0M196 282h0M178 312h0M207 280h0M186 310h0M169 316h0M181 303h0M177 319h0M198 288h0M213 276h0M203 305h0M194 283h0M202 283h0M202 299h0M197 294h0M205 283h0M203 280h0M208 287h0M192 298h0M211 269h0M191 291h0M172 312h0M182 314h0M198 281h0M203 297h0M211 277h0M192 300h0M224 285h0M201 300h0M206 281h0M210 277h0M204 282h0M201 279h0M185 321h0M215 280h0M213 282h0M200 287h0M211 287h0M199 291h0M175 315h0M189 300h0M187 305h0M198 288h0M210 279h0M194 294h0M191 300h0M214 275h0M179 307h0M190 297h0M196 304h0M210 273h0M209 280h0M216 279h0M219 261h0M203 288h0M190 303h0M177 313h0M181 301h0M186 297h0M191 303h0M166 315h0M184 296h0M184 303h0M179 300h0M168 317h0M211 273h0M186 302h0M176 322h0M180 322h0M205 278h0M179 319h0M176 315h0M198 288h0M197 288h0M187 307h0M200 288h0M199 287h0M199 295h0M196 281h0M185 302h0M193 297h0M208 289h0M172 303h0M194 308h0M208 296h0M199 298h0M205 284h0M182 296h0M179 306h0M203 287h0M217 278h0M190 302h0M163 318h0M172 313h0M190 323h0M176 310h0M170 328h0M214 286h0M196 293h0M187 285h0M215 277h0M180 322h0M176 319h0M220 265h0M208 272h0M180 315h0M212 279h0M219 285h0M193 293h0M187 311h0M189 291h0M183 301h0M207 270h0M177 329h0M183 316h0M195 300h0M217 273h0M214 282h0M178 302h0M189 298h0M195 297h0M181 302h0M216 277h0M170 313h0M192 294h0M197 285h0M186 305h0M203 280h0M182 314h0M189 310h0M213 286h0M188 307h0M202 294h0M193 308h0M189 295h0M205 287h0M212 265h0M208 285h0M193 293h0M189 308h0M197 290h0M180 316h0M194 299h0M207 279h0M184 312h0M184 303h0M191 304h0M179 321h0M200 292h0M173 327h0M205 277h0M171 324h0M206 274h0M180 314h0M210 275h0M191 295h0M185 307h0M185 310h0M198 276h0M215 262h0M214 272h0M183 301h0M188 312h0M193 288h0M182 300h0"/>
<path d="M169 322h0M175 316h0M181 317h0M193 283h0M186 294h0M192 303h0M210 266h0M189 317h0M192 311h0M182 301h0M192 303h0M168 325h0M197 302h0M207 275h0M189 306h0M178 301h0M186 307h0M197 294h0M206 281h0M179 319h0M207 276h0M176 322h0M209 272h0M189 307h0M199 277h0M209 286h0M183 307h0M207 281h0M187 316h0M209 283h0M189 302h0M197 283h0M176 311h0M193 299h0M201 278h0M184 325h0M217 263h0M180 310h0M180 317h0M199 290h0M183 301h0M207 287h0M182 305h0M169 315h0M189 298h0M187 299h0M211 280h0M212 284h0M193 309h0M195 294h0M191 304h0M218 281h0M204 279h0M193 290h0M182 314h0M177 305h0M177 316h0M182 299h0M187 287h0M189 298h0M190 297h0M222 272h0M211 282h0M208 279h0M195 293h0M223 271h0M192 304h0M183 294h0M208 290h0M210 287h0M174 315h0M203 294h0M206 275h0M184 311h0M184 300h0M194 283h0M201 282h0M190 295h0M190 301h0M188 316h0M206 285h0M182 309h0M186 320h0M185 312h0M182 315h0M175 308h0M205 282h0M173 320h0M181 324h0M216 272h0M186 303h0M187 310h0M204 288h0M223 264h0M180 305h0M208 277h0M176 324h0M202 280h0M212 278h0M192 302h0M180 312h0M195 291h0M191 301h0M176 312h0M180 303h0M188 314h0M163 319h0M180 313h0M177 310h0M191 288h0M199 291h0M200 280h0M203 286h0M193 293h0M201 285h0M174 327h0M187 296h0M198 283h0M210 279h0M193 288h0M193 309h0M194 300h0M188 293h0M179 304h0M195 291h0M218 264h0M215 273h0M223 252h0M184 315h0M181 293h0M183 301h0M183 315h0M182 299h0M214 277h0M196 303h0M189 302h0M179 324h0M170 317h0M202 284h0M220 272h0M198 290h0M190 305h0M188 309h0M180 316h0M214 281h0M190 298h0M207 280h0M181 311h0M171 313h0M205 297h0M191 293h0M200 287h0M173 316h0M195 292h0M170 315h0M205 296h0M208 286h0M180 300h0M176 328h0M180 317h0M174 316h0M187 320h0M180 309h0M182 308h0M181 293h0M201 293h0M197 286h0M198 290h0M229 266h0M205 289h0"/>
<path d="M184 304h0M171 324h0M206 286h0M219 263h0M206 285h0M190 295h0M190 298h0M196 279h0M197 296h0M196 296h0M181 317h0M207 285h0M195 295h0M176 317h0M185 298h0M171 310h0M197 296h0M176 315h0M177 316h0M172 311h0M196 295h0M198 301h0M167 331h0M170 308h0M202 292h0M194 295h0M216 274h0M187 308h0M186 313h0M224 277h0M188 320h0M183 309h0M174 311h0M198 280h0M178 315h0M176 308h0M174 323h0M184 306h0M184 311h0M183 315h0M183 306h0M211 279h0M198 292h0M175 305h0M172 313h0M171 325h0M197 283h0M201 286h0M205 292h0M184 310h0M182 302h0M175 316h0M184 310h0M187 306h0M199 297h0M181 312h0M213 268h0M216 260h0M196 302h0M175 314h0M203 299h0M205 290h0M206 286h0M188 305h0M195 294h0M198 294h0M212 273h0M197 300h0M211 276h0M209 288h0M173 312h0M194 304h0M178 309h0M173 316h0M208 287h0M210 277h0M213 277h0M174 317h0M190 307h0M192 303h0M202 289h0M203 271h0M189 307h0M203 283h0M191 320h0M198 285h0M200 285h0M183 308h0M186 291h0M215 276h0M202 293h0M206 283h0M214 275h0M180 311h0M219 278h0M167 318h0M190 292h0M175 319h0M170 314h0M190 300h0M188 301h0M192 296h0M178 315h0M210 270h0M208 275h0M183 303h0M191 299h0M206 290h0M186 312h0M187 313h0M181 311h0M209 277h0M210 269h0M180 303h0M178 313h0M185 300h0M186 296h0M201 285h0M189 308h0M185 307h0M177 319h0M182 318h0M207 283h0M180 300h0M211 280h0M178 308h0M206 281h0M204 281h0M183 306h0M181 318h0M213 275h0M205 283h0M190 286h0M205 275h0M170 304h0M194 297h0M204 291h0M185 320h0M180 310h0M207 286h0M192 291h0M182 304h0M180 297h0M202 286h0M225 267h0M212 269h0M177 312h0M197 296h0M190 299h0M194 307h0M205 293h0M205 269h0M211 274h0M195 291h0M197 313h0M203 281h0M197 279h0M207 279h0M189 315h0M163 317h0M203 291h0M213 280h0M203 280h0M179 304h0M177 307h0M188 291h0M201 294h0M182 309h0M184 300h0M182 298h0"/>
<path d="M171 315h0M213 273h0M198 287h0M198 277h0M172 321h0M199 297h0M201 292h0M205 294h0M197 297h0M205 276h0M183 310h0M201 290h0M212 281h0M203 281h0M220 287h0M186 306h0M177 315h0M195 296h0M214 285h0M216 276h0M210 276h0M199 279h0M156 327h0M194 293h0M211 269h0M209 290h0M173 320h0M183 303h0M220 276h0M200 289h0M197 291h0M216 278h0M170 311h0M209 283h0M211 274h0M208 284h0M161 330h0M202 291h0M193 293h0M215 275h0M178 301h0M212 278h0M175 311h0M182 320h0M202 289h0M213 274h0M175 323h0M176 314h0M199 301h0M210 285h0M200 301h0M195 284h0M194 286h0M194 302h0M194 296h0M191 310h0M204 297h0M191 300h0M181 297h0M170 318h0M180 306h0M181 301h0M207 272h0M181 297h0M199 291h0M184 299h0M182 301h0M210 279h0M173 315h0M171 305h0M186 301h0M198 291h0M221 274h0M162 310h0M204 279h0M195 299h0M200 286h0M218 271h0M181 316h0M170 324h0M185 301h0M209 273h0M181 311h0M177 317h0M209 284h0M221 275h0M202 280h0M183 298h0M185 315h0M215 279h0M195 302h0M193 302h0M208 280h0M180 308h0M171 316h0M191 296h0M205 283h0M210 271h0M195 309h0M213 268h0M166 318h0M177 306h0M203 294h0M194 293h0M184 308h0M222 273h0M192 280h0M212 270h0M205 286h0M182 307h0M207 290h0M204 275h0M193 297h0M203 275h0M173 317h0M175 317h0M177 320h0M184 307h0M188 305h0M219 267h0M209 283h0M194 299h0M179 308h0M179 311h0M194 289h0M201 278h0M192 287h0M193 289h0M194 308h0M183 312h0M178 317h0M173 321h0M190 313h0M170 320h0M211 292h0M224 271h0M182 301h0M200 290h0M194 308h0M204 283h0M188 306h0M186 305h0M172 317h0M176 335h0M184 311h0M190 292h0M206 269h0M172 319h0M200 297h0M190 301h0M196 298h0M192 304h0M198 294h0M202 277h0M190 296h0M202 295h0M181 317h0M214 278h0M201 288h0M211 282h0M210 286h0M195 294h0M175 322h0M204 286h0M184 316h0M209 287h0M188 316h0M197 299h0M195 291h0M181 313h0"/>
<path d="M214 274h0M171 312h0M184 300h0M192 305h0M177 322h0M191 307h0M187 296h0M195 300h0M209 266h0M169 308h0M184 310h0M196 291h0M184 290h0M221 270h0M181 304h0M207 279h0M199 281h0M198 284h0M181 310h0M177 309h0M195 288h0M203 277h0M203 276h0M202 276h0M205 277h0M199 284h0M213 273h0M197 281h0M209 290h0M203 280h0M178 320h0M188 298h0M200 291h0M212 267h0M168 320h0M178 312h0M200 282h0M194 305h0M199 289h0M188 294h0M193 291h0M194 299h0M206 288h0M186 300h0M188 303h0M192 292h0M207 290h0M214 284h0M196 288h0M166 335h0M166 320h0M223 276h0M187 299h0M203 281h0M204 279h0M180 310h0M184 296h0M193 297h0M178 312h0M205 279h0M211 281h0M202 285h0M220 262h0M197 312h0M180 318h0M173 327h0M205 269h0M183 311h0M205 274h0M209 289h0M209 284h0M172 313h0M195 296h0M208 266h0M206 287h0M178 313h0M203 279h0M178 324h0M206 278h0M202 288h0M179 318h0M196 289h0M172 323h0M202 280h0M182 302h0M204 284h0M204 295h0M206 283h0M213 277h0M176 300h0M190 313h0M203 273h0M173 310h0M208 279h0M182 312h0M167 320h0M202 270h0M202 301h0M207 278h0M214 277h0M211 281h0M218 284h0M210 280h0M206 283h0M174 318h0M191 303h0M195 301h0M187 305h0M209 271h0M193 298h0M215 270h0M202 290h0M209 270h0M197 289h0M192 296h0M191 301h0M217 288h0M225 259h0M188 302h0M189 294h0M206 283h0M193 297h0M206 279h0M188 300h0M200 300h0M206 283h0M193 298h0M193 297h0M207 280h0M159 325h0M204 285h0M218 265h0M205 288h0M220 276h0M187 293h0M195 293h0M189 294h0M204 280h0M182 310h0M199 299h0M207 281h0M183 306h0M209 277h0M174 302h0M207 300h0M190 302h0M199 294h0M197 291h0M206 277h0M163 340h0M173 312h0M192 297h0M201 295h0M200 293h0M210 288h0M201 299h0M199 294h0M194 294h0M199 305h0M219 277h0M184 296h0M188 305h0M198 307h0M188 291h0M188 298h0M193 296h0M168 327h0M169 318h0M199 306h0M205 280h0"/>
<path d="M197 305h0M192 293h0M178 301h0M204 278h0M191 302h0M189 284h0M178 322h0M203 284h0M212 281h0M183 308h0M192 297h0M223 266h0M200 291h0M190 292h0M182 303h0M202 291h0M189 303h0M187 305h0M185 301h0M186 307h0M203 278h0M215 275h0M184 306h0M221 272h0M175 309h0M177 321h0M187 302h0M209 271h0M198 290h0M209 283h0M174 310h0M189 312h0M160 319h0M190 296h0M181 307h0M179 312h0M202 291h0M181 305h0M167 323h0M189 298h0M208 263h0M209 274h0M171 318h0M208 281h0M196 290h0M184 311h0M183 298h0M175 313h0M212 269h0M208 279h0M164 317h0M197 291h0M185 305h0M209 277h0M207 275h0M180 316h0M196 294h0M209 284h0M211 268h0M182 306h0M190 297h0M176 294h0M179 304h0M192 296h0M213 277h0M194 275h0M212 274h0M220 268h0M183 312h0M171 319h0M218 280h0M202 285h0M180 315h0M211 275h0M199 282h0M199 298h0M169 327h0M196 294h0M215 273h0M186 306h0M203 277h0M195 296h0M180 307h0M189 309h0M185 304h0M218 286h0M196 297h0M212 290h0M207 280h0M171 321h0M225 275h0M219 272h0M170 317h0M215 287h0M199 287h0M170 321h0M193 301h0M180 302h0M198 293h0M215 269h0M184 311h0M192 303h0M185 309h0M196 298h0M180 311h0M209 277h0M182 301h0M206 272h0M195 289h0M200 289h0M177 321h0M177 313h0M201 287h0M195 297h0M195 299h0M186 325h0M198 290h0M193 293h0M188 307h0M192 294h0M187 295h0M195 297h0M181 305h0M210 276h0M178 296h0M194 306h0M211 288h0M194 287h0M204 292h0M179 304h0M193 303h0M184 300h0M184 324h0M207 289h0M166 323h0M202 312h0M213 271h0M200 287h0M217 279h0M211 283h0M184 324h0M221 268h0M200 286h0M203 284h0M205 271h0M201 283h0M196 289h0M206 288h0M203 283h0M197 293h0M206 290h0M205 275h0M180 299h0M220 278h0M202 271h0M204 274h0M198 303h0M212 280h0M180 307h0M177 304h0M196 297h0M215 280h0M195 300h0M194 300h0M184 300h0M199 299h0M191 309h0M180 305h0M176 318h0M204 282h0"/>
<path d="M191 306h0M214 272h0M208 297h0M214 270h0M202 286h0M194 293h0M196 304h0M211 273h0M202 289h0M170 314h0M210 266h0M188 313h0M175 332h0M181 310h0M182 307h0M197 287h0M176 312h0M216 281h0M171 310h0M174 317h0M178 308h0M168 325h0M181 302h0M208 274h0M179 316h0M224 269h0M185 322h0M205 296h0M156 323h0M191 299h0M193 308h0M191 311h0M182 311h0M177 323h0M210 279h0M216 271h0M219 272h0M190 287h0M182 298h0M209 259h0M173 307h0M181 315h0M221 278h0M220 267h0M216 280h0M215 281h0M198 293h0M222 272h0M183 310h0M206 279h0M177 311h0M186 309h0M202 294h0M171 324h0M190 296h0M184 314h0M194 293h0M187 299h0M182 313h0M196 301h0M183 303h0M193 274h0M187 299h0M203 296h0M163 329h0M167 319h0M174 313h0M178 309h0M199 282h0M173 323h0M185 312h0M178 296h0M202 283h0M202 291h0M208 287h0M186 310h0M198 287h0M195 298h0M198 294h0M198 296h0M209 281h0M169 323h0M211 269h0M172 317h0M209 288h0M187 309h0M223 270h0M179 304h0M216 273h0M188 298h0M184 303h0M201 292h0M180 316h0M199 278h0M205 281h0M190 301h0M207 285h0M197 302h0M204 289h0M187 321h0M196 297h0M214 267h0M197 293h0M219 270h0M185 305h0M184 315h0M173 329h0M204 282h0M196 284h0M183 317h0M178 308h0M210 281h0M213 293h0M190 313h0M186 310h0M168 312h0M194 290h0M214 274h0M205 282h0M212 276h0M195 292h0M207 276h0M199 285h0M204 288h0M211 293h0M206 274h0M190 290h0M204 279h0M215 271h0M193 296h0M172 322h0M213 284h0M217 273h0M167 316h0M192 279h0M209 282h0M199 284h0M176 320h0M191 297h0M171 308h0M181 301h0M173 312h0M192 304h0M203 289h0M176 315h0M214 266h0M219 277h0M179 305h0M176 310h0M202 277h0M179 301h0M209 286h0M212 282h0M207 273h0M178 311h0M200 301h0M179 309h0M170 328h0M183 323h0M211 266h0M212 284h0M196 302h0M205 269h0M203 287h0M180 309h0M186 309h0M168 330h0M170 310h0M192 302h0M198 305h0"/>
<path d="M215 271h0M189 299h0M179 318h0M199 287h0M227 281h0M193 302h0M208 285h0M206 277h0M183 298h0M177 327h0M203 278h0M215 282h0M218 270h0M187 298h0M195 285h0M185 301h0M193 298h0M204 291h0M170 310h0M190 300h0M199 272h0M179 330h0M167 335h0M191 301h0M201 285h0M186 290h0M223 273h0M183 316h0M202 287h0M184 296h0M198 305h0M198 292h0M198 286h0M205 291h0M187 303h0M189 297h0M194 293h0M185 314h0M191 310h0M205 288h0M223 276h0M165 339h0M185 299h0M173 321h0M189 301h0M183 305h0M196 290h0M206 283h0M188 293h0M209 297h0M218 270h0M208 284h0M196 311h0M214 279h0M167 309h0M212 292h0M211 265h0M194 312h0M207 292h0M164 321h0M179 310h0M207 267h0M178 308h0M194 282h0M184 297h0M191 303h0M175 329h0M184 307h0M184 296h0M204 287h0M220 287h0M207 283h0M170 317h0M186 296h0M202 273h0M182 291h0M212 267h0M179 318h0M210 286h0M178 331h0M221 283h0M196 281h0M197 289h0M181 304h0M188 296h0M179 320h0M179 318h0M190 300h0M205 274h0M189 300h0M190 299h0M202 294h0M172 324h0M185 315h0M183 313h0M188 313h0M203 294h0M168 311h0M175 313h0M178 301h0M203 288h0M183 302h0M201 283h0M181 309h0M179 305h0M207 272h0M185 310h0M194 308h0M170 316h0M193 286h0M214 274h0M197 305h0M179 306h0M212 286h0M209 280h0M178 319h0M196 291h0M187 305h0M187 318h0M203 277h0M176 306h0M198 300h0M217 273h0M191 302h0M182 306h0M217 264h0M203 288h0M204 292h0M170 313h0M204 278h0M187 303h0M176 299h0M204 276h0M189 300h0M182 310h0M182 308h0M201 287h0M190 285h0M202 291h0M196 292h0M176 314h0M201 293h0M184 312h0M178 320h0M197 277h0M199 278h0M191 285h0M201 293h0M190 304h0M185 308h0M180 309h0M182 322h0M209 257h0M210 273h0M172 306h0M178 311h0M174 307h0M195 284h0M173 308h0M216 272h0M200 292h0M208 276h0M183 302h0M197 282h0M173 316h0M192 294h0M215 270h0M200 297h0M186 302h0M216 277h0"/>
<path d="M180 310h0M182 313h0M193 298h0M172 311h0M203 273h0M197 288h0M212 268h0M184 291h0M192 291h0M185 298h0M178 299h0M181 301h0M202 286h0M175 319h0M201 297h0M170 316h0M182 322h0M190 295h0M177 298h0M213 277h0M206 290h0M193 300h0M206 276h0M197 287h0M200 293h0M196 304h0M184 306h0M187 306h0M203 285h0M210 288h0M195 289h0M199 293h0M205 281h0M184 321h0M209 285h0M185 330h0M171 318h0M191 302h0M217 263h0M188 292h0M181 318h0M209 286h0M222 273h0M198 278h0M202 285h0M198 300h0M184 310h0M202 273h0M211 273h0M194 300h0M212 273h0M213 272h0M209 281h0M179 303h0M181 307h0M220 278h0M190 295h0M183 305h0M180 319h0M196 290h0M217 267h0M206 281h0M183 306h0M198 299h0M192 298h0M202 276h0M211 274h0M180 306h0M199 289h0M189 298h0M207 291h0M206 284h0M195 295h0M199 306h0M189 303h0M194 300h0M175 309h0M194 302h0M193 303h0M197 296h0M193 298h0M181 312h0M181 306h0M164 330h0M195 285h0M181 312h0M183 304h0M189 300h0M201 287h0M190 302h0M178 316h0M202 271h0M199 277h0M170 328h0M210 273h0M195 300h0M203 280h0M202 280h0M179 300h0M188 307h0M180 297h0M203 290h0M185 316h0M205 288h0M199 296h0M167 322h0M173 311h0M177 321h0M185 304h0M167 315h0M205 278h0M188 302h0M180 308h0M177 306h0M210 281h0M174 319h0M201 277h0M213 278h0M168 328h0M212 274h0M202 286h0M219 281h0M177 320h0M197 290h0M187 299h0M200 283h0M202 288h0M172 326h0M186 299h0M180 298h0M201 285h0M174 312h0M201 304h0M174 308h0M178 307h0M204 275h0M190 301h0M174 317h0M216 271h0M179 310h0M175 310h0M188 299h0M180 311h0M194 307h0M185 326h0M200 286h0M187 308h0M198 285h0M173 305h0M203 282h0M180 299h0M203 286h0M185 297h0M213 270h0M202 283h0M175 308h0M174 318h0M206 287h0M167 313h0M208 280h0M195 306h0M185 319h0M188 309h0M176 323h0M177 332h0M189 300h0M177 318h0M178 315h0M211 277h0M191 304h0"/>
<path d="M186 303h0M198 298h0M165 320h0M211 272h0M184 307h0M183 323h0M179 303h0M213 271h0M177 312h0M184 305h0M180 305h0M214 289h0M211 279h0M201 304h0M209 283h0M182 293h0M193 305h0M198 285h0M210 281h0M188 291h0M199 293h0M181 313h0M181 323h0M204 286h0M213 268h0M210 285h0M199 289h0M192 310h0M226 271h0M199 292h0M199 297h0M171 307h0M207 291h0M193 291h0M200 292h0M195 300h0M202 300h0M193 299h0M207 284h0M190 298h0M181 308h0M176 318h0M206 284h0M195 294h0M164 315h0M201 295h0M196 296h0M203 280h0M192 290h0M213 289h0M217 282h0M179 331h0M190 291h0M206 286h0M188 299h0M222 272h0M173 316h0M206 290h0M193 291h0M182 325h0M176 298h0M217 271h0M192 300h0M178 320h0M202 291h0M235 256h0M173 312h0M188 302h0M178 317h0M178 320h0M215 272h0M182 301h0M190 303h0M188 305h0M201 298h0M192 302h0M213 285h0M210 279h0M193 291h0M220 271h0M177 313h0M214 269h0M184 313h0M176 303h0M207 270h0M183 310h0M187 308h0M186 303h0M201 294h0M205 292h0M195 300h0M206 276h0M195 302h0M182 313h0M196 292h0M209 278h0M205 283h0M204 289h0M180 312h0M225 267h0M192 303h0M174 317h0M214 285h0M197 290h0M170 319h0M167 316h0M200 277h0M200 284h0M186 300h0M190 307h0M188 306h0M204 287h0M190 291h0M190 300h0M201 303h0M215 289h0M191 305h0M191 312h0M190 306h0M174 321h0M201 290h0M199 297h0M193 291h0M203 279h0M216 262h0M214 262h0M212 274h0M217 268h0M187 297h0M198 302h0M200 296h0M180 302h0M201 284h0M179 304h0M190 294h0M170 314h0M209 273h0M214 273h0M171 314h0M198 285h0M173 323h0M196 292h0M161 324h0M170 318h0M193 295h0M180 310h0M210 276h0M202 303h0M210 270h0M190 296h0M185 287h0M216 281h0M191 301h0M181 293h0M183 318h0M193 306h0M188 319h0M194 315h0M209 280h0M186 307h0M205 269h0M184 295h0M206 281h0M189 310h0M209 279h0M186 305h0M175 325h0M177 306h0M198 311h0M174 326h0"/>
<path d="M193 290h0M196 301h0M194 319h0M201 280h0M186 320h0M203 300h0M200 291h0M215 274h0M214 284h0M171 318h0M195 302h0M203 286h0M204 284h0M188 312h0M213 266h0M165 319h0M179 305h0M199 295h0M214 275h0M178 308h0M203 292h0M197 290h0M221 262h0M190 300h0M178 319h0M211 277h0M179 315h0M177 312h0M210 277h0M200 283h0M205 290h0M196 297h0M217 270h0M211 284h0M205 287h0M184 309h0M182 303h0M182 314h0M173 298h0M182 310h0M208 278h0M209 277h0M181 300h0M218 282h0M192 298h0M171 305h0M183 308h0M191 308h0M177 318h0M193 291h0M199 295h0M216 280h0M187 306h0M189 285h0M194 297h0M221 259h0M198 286h0M189 312h0M176 324h0M211 284h0M174 310h0M188 295h0M170 318h0M206 300h0M187 307h0M178 308h0M198 286h0M187 295h0M193 298h0M213 266h0M208 284h0M210 282h0M172 324h0M200 282h0M209 288h0M180 309h0M184 296h0M219 270h0M199 282h0M187 313h0M207 287h0M204 297h0M164 317h0M176 317h0M176 318h0M200 297h0M184 320h0M193 288h0M196 296h0M169 308h0M175 312h0M210 303h0M177 322h0M182 306h0M213 268h0M202 302h0M169 312h0M179 303h0M214 276h0M183 314h0M201 300h0M211 281h0M181 311h0M181 307h0M210 298h0M176 315h0M175 311h0M180 312h0M165 322h0M206 283h0M205 294h0M191 293h0M182 309h0M223 271h0M200 274h0M204 289h0M171 314h0M207 270h0M185 304h0M185 288h0M203 284h0M203 290h0M197 292h0M194 287h0M209 283h0M197 298h0M197 304h0M205 294h0M211 271h0M180 320h0M182 311h0M176 307h0M225 269h0M203 275h0M170 310h0M191 304h0M192 284h0M206 286h0M179 305h0M182 292h0M200 289h0M173 328h0M213 282h0M179 323h0M214 273h0M202 294h0M189 292h0M193 305h0M211 268h0M193 301h0M210 282h0M206 290h0M206 284h0M205 291h0M192 305h0M179 320h0M210 270h0M188 302h0M178 305h0M208 287h0M185 302h0M183 312h0M208 270h0M202 295h0M167 323h0M212 279h0M180 318h0M194 309h0M202 291h0M191 290h0"/>
<path d="M188 287h0M183 316h0M206 269h0M171 309h0M203 292h0M180 327h0M202 281h0M206 272h0M174 313h0M195 299h0M179 316h0M188 304h0M181 321h0M174 312h0M205 292h0M184 308h0M208 279h0M207 296h0M213 280h0M175 317h0M199 290h0M210 273h0M201 291h0M196 279h0M207 290h0M206 281h0M177 306h0M191 288h0M180 310h0M190 301h0M199 283h0M198 286h0M191 298h0M184 313h0M219 272h0M212 279h0M198 283h0M205 276h0M175 324h0M189 305h0M213 282h0M175 327h0M199 300h0M188 296h0M181 310h0M186 302h0M211 278h0M186 311h0M207 283h0M181 311h0M189 302h0M211 276h0M206 271h0M209 265h0M175 321h0M195 320h0M206 289h0M178 315h0M190 307h0M185 294h0M192 306h0M175 311h0M190 304h0M173 320h0M181 307h0M209 280h0M227 255h0M208 279h0M212 272h0M215 277h0M189 306h0M184 302h0M207 288h0M206 288h0M211 278h0M165 324h0M205 283h0M190 290h0M191 303h0M188 306h0M190 299h0M200 286h0M188 311h0M185 310h0M161 319h0M214 273h0M189 304h0M208 276h0M214 277h0M195 302h0M208 276h0M179 304h0M203 278h0M215 258h0M186 306h0M207 278h0M180 320h0M198 292h0M211 287h0M180 307h0M195 288h0M210 291h0M176 314h0M200 300h0M180 311h0M189 287h0M178 321h0M198 286h0M202 283h0M217 283h0M206 293h0M187 293h0M190 296h0M203 290h0M172 305h0M208 289h0M181 302h0M207 291h0M195 286h0M202 291h0M202 275h0M170 312h0M198 291h0M214 275h0M207 279h0M172 315h0M177 324h0M181 318h0M200 284h0M177 301h0M210 285h0M202 290h0M180 308h0M213 269h0M204 282h0M191 314h0M205 271h0M174 314h0M193 280h0M199 281h0M198 286h0M194 286h0M190 298h0M182 312h0M208 275h0M186 303h0M193 299h0M166 325h0M195 294h0M199 298h0M209 273h0M183 297h0M191 310h0M183 320h0M208 286h0M199 298h0M183 313h0M208 286h0M180 316h0M202 287h0M214 285h0M214 271h0M195 285h0M187 297h0M204 291h0M185 300h0M203 298h0M209 270h0M178 314h0M209 279h0"/>
<path d="M188 298h0M190 305h0M184 313h0M226 269h0M221 275h0M224 277h0M215 273h0M207 273h0M186 307h0M199 287h0M187 314h0M188 300h0M191 301h0M171 312h0M202 291h0M209 278h0M214 271h0M205 276h0M185 305h0M192 305h0M188 287h0M188 276h0M199 280h0M189 314h0M180 315h0M214 282h0M197 300h0M166 316h0M202 267h0M199 287h0M194 286h0M179 315h0M195 289h0M195 308h0M172 312h0M173 322h0M186 307h0M197 300h0M203 290h0M167 328h0M190 311h0M181 319h0M197 282h0M216 262h0M200 277h0M186 300h0M191 303h0M203 277h0M194 311h0M199 298h0M195 295h0M197 288h0M182 303h0M217 264h0M185 306h0M180 304h0M193 297h0M216 278h0M191 305h0M195 301h0M174 316h0M183 305h0M197 281h0M214 281h0M196 290h0M202 291h0M187 296h0M208 279h0M195 295h0M178 314h0M206 287h0M172 320h0M213 269h0M217 271h0M204 277h0M215 259h0M216 275h0M180 291h0M194 298h0M219 286h0M210 286h0M193 304h0M195 295h0M173 318h0M183 315h0M210 275h0M220 281h0M167 318h0M195 298h0M188 306h0M189 289h0M190 303h0M177 317h0M179 315h0M212 279h0M219 273h0M199 285h0M179 304h0M188 293h0M219 268h0M207 277h0M195 294h0M179 309h0M205 290h0M205 288h0M220 263h0M195 291h0M198 288h0M210 278h0M190 302h0M201 276h0M181 308h0M185 297h0M180 307h0M171 315h0M210 270h0M169 322h0M198 281h0M180 302h0M219 271h0M205 291h0M206 276h0M185 300h0M205 274h0M215 272h0M188 299h0M206 277h0M188 299h0M199 298h0M190 301h0M192 288h0M200 293h0M200 285h0M215 277h0M221 257h0M191 298h0M181 303h0M182 311h0M186 314h0M183 314h0M187 317h0M178 327h0M208 269h0M200 294h0M186 306h0M186 291h0M198 295h0M189 298h0M206 288h0M212 289h0M185 297h0M179 315h0M162 321h0M197 297h0M195 302h0M162 316h0M193 306h0M184 306h0M200 289h0M216 270h0M192 303h0M194 295h0M188 303h0M188 289h0M216 270h0M179 317h0M186 306h0M209 274h0M195 298h0M184 323h0"/>
<path d="M178 318h0M224 268h0M178 306h0M190 305h0M205 296h0M192 290h0M184 289h0M193 290h0M186 302h0M179 314h0M185 302h0M201 286h0M202 285h0M204 280h0M209 282h0M190 301h0M187 299h0M215 273h0M181 307h0M195 291h0M214 273h0M178 317h0M216 272h0M184 308h0M188 305h0M213 277h0M202 293h0M184 306h0M173 309h0M175 310h0M232 256h0M209 284h0M220 280h0M203 290h0M180 318h0M192 293h0M181 316h0M193 284h0M200 288h0M203 286h0M187 294h0M180 314h0M216 280h0M199 294h0M204 278h0M166 329h0M206 278h0M195 289h0M183 307h0M184 307h0M195 292h0M187 308h0M169 316h0M199 290h0M213 282h0M194 302h0M199 303h0M203 282h0M200 279h0M191 298h0M203 297h0M206 287h0M183 303h0M176 313h0M206 279h0M171 322h0M177 318h0M186 302h0M183 318h0M216 279h0M211 270h0M200 291h0M192 301h0M172 320h0M158 321h0M202 303h0M176 318h0M192 290h0M177 307h0M184 300h0M177 310h0M193 291h0M189 312h0M211 272h0M215 280h0M210 287h0M169 316h0M204 281h0M193 284h0M171 313h0M210 285h0M208 296h0M185 300h0M191 295h0M206 296h0M189 283h0M174 323h0M217 268h0M220 264h0M174 322h0M209 279h0M209 276h0M196 290h0M200 287h0M175 322h0M187 284h0M169 318h0M213 279h0M176 304h0M194 296h0M201 292h0M190 297h0M196 296h0M176 311h0M186 305h0M176 319h0M210 276h0M196 297h0M189 294h0M188 301h0M199 281h0M189 303h0M189 279h0M174 308h0M209 278h0M174 305h0M218 274h0M186 302h0M178 310h0M200 299h0M188 305h0M213 266h0M198 296h0M189 295h0M191 299h0M177 305h0M205 280h0M201 285h0M165 326h0M192 293h0M183 313h0M180 299h0M175 314h0M205 289h0M196 293h0M165 309h0M197 297h0M184 316h0M198 283h0M200 286h0M197 286h0M183 299h0M193 297h0M178 306h0M197 290h0M195 296h0M198 291h0M171 315h0M189 309h0M171 311h0M210 279h0M181 309h0M166 323h0M201 295h0M198 291h0M203 289h0M188 292h0M183 305h0M178 319h0M223 271h0"/>
<path d="M210 287h0M184 280h0M180 312h0M184 292h0M180 312h0M186 310h0M207 272h0M206 286h0M205 274h0M215 270h0M188 296h0M226 264h0M190 298h0M186 322h0M183 302h0M170 312h0M189 306h0M197 293h0M170 329h0M189 304h0M190 313h0M171 311h0M184 306h0M192 283h0M206 279h0M171 315h0M179 307h0M218 274h0M194 303h0M190 303h0M213 283h0M180 311h0M181 301h0M194 295h0M206 296h0M176 314h0M197 281h0M212 266h0M192 283h0M190 301h0M201 292h0M217 276h0M199 289h0M204 291h0M180 320h0M191 309h0M182 313h0M202 287h0M195 294h0M174 319h0M193 290h0M186 306h0M198 289h0M202 280h0M208 278h0M197 302h0M174 329h0M172 311h0M185 294h0M204 277h0M215 291h0M206 289h0M172 329h0M186 295h0M200 303h0M195 287h0M178 308h0M209 287h0M184 313h0M202 277h0M205 277h0M202 282h0M195 301h0M193 305h0M215 269h0M192 297h0M214 281h0M177 319h0M184 306h0M197 276h0M207 280h0M192 299h0M160 318h0M205 275h0M183 311h0M188 306h0M221 259h0M168 310h0M175 318h0M175 303h0M206 271h0M200 291h0M190 305h0M212 268h0M192 306h0M194 302h0M209 277h0M202 288h0M203 289h0M188 306h0M185 308h0M175 317h0M205 278h0M179 316h0M192 302h0M212 281h0M213 281h0M204 290h0M183 314h0M209 281h0M190 304h0M205 277h0M182 306h0M203 288h0M163 329h0M202 285h0M184 312h0M188 313h0M182 313h0M197 292h0M195 295h0M196 295h0M204 288h0M194 292h0M184 307h0M205 273h0M210 284h0M203 296h0M196 297h0M205 291h0M191 295h0M186 310h0M179 310h0M191 293h0M208 295h0M180 297h0M216 275h0M192 301h0M175 321h0M197 280h0M184 310h0M198 284h0M195 289h0M210 290h0M192 302h0M205 296h0M200 279h0M200 281h0M189 307h0M198 291h0M219 281h0M197 295h0M204 284h0M183 310h0M205 281h0M180 315h0M202 293h0M178 306h0M180 304h0M213 269h0M178 319h0M170 316h0M164 313h0M180 320h0M215 282h0M204 279h0M221 279h0M195 306h0M210 268h0M205 289h0"/>
</g>
<g stroke="#ff0000" stroke-width="5.6" stroke-linecap="round" stroke-opacity="0.12" fill="none" filter="url(#bl2)">
<path d="M194 282h0M183 235h0M193 205h0M169 225h0M224 265h0M199 123h0M231 271h0M207 228h0M195 241h0M186 138h0M222 144h0M182 176h0M195 273h0M205 146h0M180 268h0M218 283h0M210 231h0M178 182h0M173 308h0M201 217h0M185 150h0M228 248h0M211 139h0M195 173h0M185 325h0M219 286h0M188 309h0M184 146h0M215 234h0M231 243h0M153 350h0M177 115h0M194 136h0M165 369h0M203 93h0M189 163h0M218 279h0M233 285h0M151 335h0M182 161h0M187 146h0M204 115h0M192 225h0M162 333h0M199 192h0M154 361h0M182 304h0M207 127h0M237 225h0M194 329h0M184 185h0M182 344h0M166 309h0M192 200h0M162 341h0M163 334h0M210 286h0M218 231h0M219 136h0M191 145h0M217 245h0M193 118h0M182 236h0M198 178h0M215 197h0M199 284h0M229 286h0M200 169h0M213 266h0M190 288h0M185 145h0M191 103h0M207 144h0M206 164h0M187 215h0M169 311h0M198 157h0M203 208h0M180 175h0M177 190h0M192 303h0M194 149h0M212 182h0M213 247h0M176 261h0M167 336h0M189 296h0M203 242h0M215 278h0M227 265h0M180 119h0M216 178h0M184 165h0M179 256h0M197 140h0M205 230h0M158 345h0M205 302h0M167 261h0M192 83h0M201 160h0M196 159h0M238 280h0M195 86h0M198 279h0M206 232h0M212 183h0M171 324h0M176 120h0M172 293h0M206 282h0M216 251h0M202 260h0M184 267h0M203 152h0M232 236h0M167 325h0M188 163h0M195 139h0M183 218h0M190 126h0M208 142h0M212 264h0M190 254h0M219 268h0M208 181h0M174 307h0M190 148h0M208 137h0M176 206h0M160 92h0M180 334h0M193 121h0M176 183h0M180 184h0M192 243h0M204 202h0M184 269h0M216 279h0M195 195h0M215 221h0M166 140h0M193 166h0M195 100h0M214 91h0M204 249h0M183 87h0M217 214h0M198 180h0M203 237h0M221 215h0M196 108h0M179 179h0M218 218h0M164 108h0M164 346h0M190 128h0M219 154h0M196 322h0M181 131h0M212 237h0M220 280h0"/>
<path d="M204 194h0M192 274h0M198 223h0M207 238h0M191 188h0M172 172h0M210 192h0M195 180h0M171 321h0M190 282h0M193 168h0M206 149h0M193 264h0M189 194h0M151 350h0M199 166h0M192 195h0M186 321h0M195 142h0M176 232h0M207 115h0M202 183h0M176 222h0M185 245h0M213 208h0M225 211h0M173 184h0M191 239h0M210 279h0M242 282h0M173 88h0M206 265h0M203 266h0M172 98h0M183 99h0M194 216h0M156 331h0M182 139h0M178 177h0M213 200h0M223 251h0M186 189h0M238 276h0M211 163h0M205 148h0M194 142h0M197 247h0M186 251h0M178 133h0M194 187h0M187 262h0M183 305h0M185 90h0M214 246h0M222 238h0M178 129h0M208 262h0M199 165h0M176 68h0M176 127h0M180 195h0M168 339h0M207 263h0M197 273h0M157 353h0M200 257h0M197 276h0M174 159h0M191 204h0M192 144h0M204 251h0M200 127h0M215 277h0M224 222h0M219 253h0M181 160h0M202 138h0M177 303h0M213 246h0M209 280h0M201 203h0M229 286h0M177 127h0M202 286h0M203 290h0M156 99h0M241 228h0M182 346h0M203 278h0M228 262h0M208 240h0M181 225h0M210 279h0M197 127h0M177 201h0M189 225h0M215 255h0M193 128h0M142 345h0M186 307h0M181 275h0M196 274h0M189 166h0M179 289h0M216 249h0M162 325h0M174 308h0M192 179h0M202 183h0M214 173h0M200 130h0M178 138h0M170 202h0M205 253h0M190 186h0M197 178h0M207 170h0M186 134h0M208 159h0M207 219h0M177 243h0M216 171h0M184 144h0M183 293h0M175 305h0M225 209h0M181 149h0M188 215h0M200 251h0M211 185h0M192 228h0M179 199h0M187 146h0M184 106h0M197 169h0M150 324h0M165 312h0M199 133h0M199 236h0M178 239h0M161 314h0M183 133h0M184 312h0M202 229h0M203 238h0M208 221h0M170 318h0M209 173h0M192 244h0M187 273h0M194 279h0M205 222h0M194 257h0M200 181h0M170 121h0M196 187h0M218 243h0M180 259h0M150 358h0M216 251h0M165 317h0M201 256h0"/>
<path d="M209 64h0M203 196h0M215 282h0M236 282h0M193 158h0M171 182h0M192 163h0M238 243h0M212 228h0M188 198h0M209 119h0M194 261h0M199 284h0M195 175h0M215 283h0M220 266h0M221 244h0M206 252h0M219 219h0M192 153h0M199 130h0M194 186h0M170 334h0M221 249h0M187 161h0M161 332h0M201 280h0M213 116h0M192 208h0M167 339h0M197 276h0M206 94h0M194 217h0M217 249h0M198 189h0M214 267h0M203 131h0M222 278h0M190 171h0M189 202h0M208 211h0M222 159h0M228 223h0M208 192h0M214 229h0M174 312h0M202 200h0M209 147h0M219 167h0M195 244h0M227 245h0M208 81h0M194 230h0M199 180h0M192 282h0M233 223h0M198 175h0M204 262h0M147 336h0M220 195h0M201 128h0M206 234h0M225 193h0M206 284h0M160 209h0M198 76h0M186 301h0M208 270h0M170 301h0M214 186h0M189 287h0M187 119h0M182 218h0M225 231h0M208 185h0M179 171h0M189 146h0M231 234h0M235 275h0M188 304h0M175 317h0M170 316h0M180 286h0M195 121h0M184 124h0M195 285h0M184 147h0M152 358h0M209 223h0M212 124h0M183 137h0M181 121h0M200 151h0M204 186h0M192 195h0M190 271h0M153 357h0M194 135h0M216 193h0M182 172h0M187 172h0M193 214h0M197 150h0M217 247h0M204 119h0M195 152h0M220 269h0M198 250h0M191 176h0M202 243h0M189 143h0M189 210h0M198 199h0M219 255h0M216 244h0M186 336h0M195 191h0M195 168h0M192 150h0M190 135h0M203 208h0M235 210h0M197 235h0M185 315h0M190 106h0M189 204h0M183 106h0M163 350h0M187 325h0M181 222h0M151 330h0M229 227h0M230 226h0M207 200h0M198 291h0M177 316h0M219 175h0M188 310h0M176 116h0M190 278h0M206 232h0M201 164h0M176 100h0M175 176h0M209 186h0M198 229h0M208 156h0M176 311h0M179 100h0M165 96h0M198 268h0M193 176h0M195 197h0M219 253h0M193 136h0M202 133h0M228 249h0M221 265h0M153 234h0M183 89h0M189 144h0M185 259h0"/>
<path d="M199 165h0M199 157h0M169 310h0M154 340h0M205 169h0M211 128h0M175 104h0M221 284h0M195 214h0M240 231h0M173 181h0M210 243h0M182 86h0M168 112h0M209 201h0M234 260h0M195 136h0M190 284h0M192 210h0M188 235h0M192 266h0M191 135h0M198 269h0M191 156h0M196 277h0M182 339h0M219 260h0M193 220h0M208 264h0M190 292h0M196 208h0M185 295h0M192 242h0M175 90h0M173 122h0M186 177h0M196 231h0M172 116h0M173 316h0M234 221h0M218 246h0M206 280h0M222 227h0M221 265h0M164 232h0M179 347h0M137 364h0M196 131h0M212 260h0M188 76h0M201 226h0M206 148h0M215 182h0M228 227h0M189 229h0M185 87h0M186 118h0M197 266h0M226 146h0M204 134h0M148 345h0M204 224h0M194 112h0M188 187h0M192 134h0M194 282h0M196 243h0M199 103h0M182 322h0M179 337h0M192 160h0M220 273h0M156 143h0M175 142h0M149 331h0M228 234h0M200 258h0M192 174h0M197 135h0M192 138h0M203 137h0M210 287h0M191 167h0M207 230h0M182 139h0M205 130h0M224 281h0M209 179h0M224 218h0M199 198h0M176 334h0M188 141h0M191 181h0M212 268h0M203 284h0M180 319h0M221 265h0M195 222h0M223 73h0M197 219h0M175 315h0M198 166h0M192 165h0M176 316h0M198 185h0M185 317h0M245 268h0M208 219h0M178 243h0M201 271h0M190 190h0M200 181h0M207 286h0M217 241h0M221 255h0M203 285h0M222 215h0M153 329h0M205 287h0M195 168h0M167 343h0M206 231h0M215 198h0M199 138h0M192 228h0M211 138h0M180 252h0M203 150h0M208 169h0M240 216h0M242 174h0M203 149h0M201 179h0M188 315h0M199 201h0M201 127h0M192 180h0M185 267h0M232 283h0M226 261h0M180 316h0M206 146h0M159 101h0M190 177h0M218 139h0M225 238h0M207 222h0M172 125h0M208 213h0M196 255h0M200 282h0M185 165h0M178 267h0M192 342h0M171 203h0M187 191h0M207 105h0M229 231h0M227 265h0M198 223h0M189 316h0M216 252h0"/>
<path d="M188 178h0M179 120h0M193 206h0M186 162h0M176 338h0M199 298h0M194 133h0M213 204h0M188 177h0M197 179h0M210 141h0M204 193h0M189 241h0M221 255h0M168 108h0M195 246h0M176 251h0M185 307h0M183 300h0M178 221h0M233 277h0M197 210h0M183 173h0M186 348h0M200 204h0M197 318h0M212 155h0M176 329h0M188 199h0M220 275h0M217 264h0M165 112h0M207 137h0M237 265h0M233 255h0M203 181h0M203 240h0M193 139h0M209 198h0M204 75h0M203 228h0M189 245h0M175 165h0M195 320h0M189 213h0M220 148h0M165 325h0M169 237h0M212 248h0M220 255h0M169 347h0M181 184h0M194 331h0M191 147h0M228 268h0M205 190h0M165 343h0M197 231h0M171 281h0M210 278h0M216 277h0M219 271h0M193 70h0M213 225h0M186 225h0M214 220h0M197 105h0M212 264h0M192 253h0M197 112h0M212 186h0M222 223h0M171 166h0M173 298h0M170 330h0M190 60h0M199 311h0M204 187h0M225 271h0M215 185h0M175 338h0M181 245h0M173 324h0M194 183h0M205 241h0M182 232h0M193 196h0M206 156h0M203 278h0M205 264h0M200 119h0M153 336h0M179 88h0M197 205h0M195 225h0M218 222h0M182 242h0M222 244h0M187 334h0M207 65h0M201 272h0M204 170h0M229 233h0M176 305h0M216 283h0M226 276h0M196 181h0M187 157h0M185 64h0M196 288h0M192 166h0M209 143h0M203 269h0M215 226h0M161 334h0M192 282h0M200 193h0M183 126h0M209 208h0M191 276h0M172 202h0M203 268h0M219 98h0M177 78h0M206 186h0M204 164h0M175 83h0M208 285h0M193 222h0M211 155h0M162 188h0M182 315h0M178 313h0M241 241h0M177 315h0M187 303h0M198 154h0M214 147h0M239 202h0M190 313h0M191 112h0M176 150h0M215 286h0M189 310h0M181 161h0M168 92h0M217 246h0M216 269h0M197 190h0M212 152h0M224 139h0M199 163h0M178 236h0M194 312h0M183 132h0M179 165h0M210 230h0M213 223h0M187 269h0M191 257h0M223 243h0M198 203h0"/>
<path d="M198 198h0M186 168h0M190 326h0M191 137h0M215 237h0M184 318h0M213 207h0M156 342h0M193 240h0M232 225h0M183 286h0M173 178h0M192 247h0M202 207h0M218 242h0M177 309h0M200 262h0M212 133h0M204 68h0M222 255h0M200 153h0M159 152h0M194 151h0M183 306h0M200 206h0M247 264h0M206 282h0M210 201h0M236 253h0M201 208h0M197 118h0M192 213h0M157 328h0M194 201h0M228 225h0M179 179h0M211 219h0M213 264h0M189 136h0M203 197h0M203 268h0M214 146h0M213 188h0M191 156h0M208 209h0M177 73h0M199 141h0M204 133h0M209 218h0M202 193h0M169 339h0M190 310h0M207 251h0M185 191h0M175 261h0M193 158h0M130 366h0M198 317h0M201 160h0M186 174h0M205 241h0M217 264h0M184 263h0M199 186h0M190 154h0M211 267h0M197 186h0M185 140h0M166 322h0M180 303h0M189 218h0M207 152h0M183 61h0M202 154h0M186 132h0M237 268h0M208 232h0M203 192h0M151 380h0M188 102h0M208 114h0M175 222h0M212 198h0M179 139h0M235 266h0M196 167h0M185 314h0M173 320h0M214 254h0M202 258h0M181 240h0M215 183h0M194 148h0M209 220h0M189 130h0M185 303h0M208 238h0M128 347h0M199 94h0M218 270h0M188 168h0M225 263h0M201 76h0M165 286h0M219 139h0M199 172h0M202 239h0M164 170h0M200 234h0M212 136h0M189 281h0M196 131h0M214 145h0M145 361h0M191 304h0M169 328h0M200 282h0M197 202h0M201 268h0M193 254h0M194 274h0M198 267h0M197 153h0M186 140h0M196 150h0M199 109h0M184 139h0M208 206h0M182 285h0M216 268h0M193 293h0M182 242h0M164 123h0M206 197h0M173 314h0M213 241h0M196 172h0M209 114h0M169 298h0M196 254h0M206 274h0M182 192h0M212 272h0M171 347h0M194 203h0M196 245h0M194 305h0M214 252h0M202 272h0M197 90h0M211 190h0M199 176h0M185 199h0M245 193h0M214 103h0M208 171h0M203 195h0M232 225h0M191 192h0M207 277h0M187 138h0M188 279h0"/>
<path d="M182 313h0M209 141h0M163 93h0M212 89h0M186 185h0M204 167h0M201 253h0M226 207h0M218 279h0M199 168h0M209 294h0M219 226h0M174 322h0M205 126h0M191 183h0M236 218h0M203 135h0M193 219h0M198 187h0M208 177h0M209 127h0M206 129h0M211 154h0M199 149h0M172 298h0M159 344h0M200 179h0M196 308h0M163 175h0M178 173h0M233 251h0M198 214h0M197 197h0M162 214h0M176 284h0M232 274h0M200 251h0M200 122h0M187 127h0M193 323h0M205 262h0M209 285h0M205 207h0M191 169h0M210 261h0M190 305h0M200 285h0M195 133h0M189 208h0M195 221h0M225 176h0M164 70h0M183 323h0M138 359h0M205 230h0M195 185h0M168 302h0M171 340h0M204 225h0M218 254h0M185 246h0M216 279h0M210 223h0M197 266h0M195 132h0M163 321h0M207 171h0M206 55h0M174 352h0M218 139h0M218 131h0M187 149h0M204 274h0M178 209h0M196 167h0M218 141h0M216 143h0M188 170h0M187 130h0M192 322h0M184 320h0M211 266h0M173 82h0M189 221h0M187 164h0M238 234h0M204 241h0M202 254h0M204 247h0M180 249h0M207 301h0M198 243h0M198 222h0M213 159h0M223 282h0M187 164h0M171 322h0M186 144h0M192 180h0M189 94h0M212 245h0M160 139h0M204 228h0M191 262h0M206 167h0M231 222h0M172 326h0M239 277h0M176 249h0M208 234h0M167 328h0M182 180h0M217 162h0M194 299h0M208 119h0M196 153h0M228 276h0M191 291h0M206 178h0M177 194h0M222 188h0M225 233h0M194 194h0M202 322h0M168 277h0M176 166h0M207 135h0M213 153h0M188 123h0M162 117h0M217 182h0M193 146h0M227 224h0M187 212h0M224 225h0M187 329h0M208 243h0M231 216h0M168 142h0M196 93h0M225 263h0M226 160h0M184 270h0M217 252h0M200 256h0M198 212h0M209 270h0M198 184h0M197 182h0M213 229h0M218 207h0M179 313h0M189 111h0M210 209h0M205 148h0M201 224h0M203 249h0M212 126h0M215 107h0M187 204h0M208 164h0M194 191h0"/>
<path d="M222 227h0M214 279h0M197 304h0M190 218h0M207 171h0M232 193h0M222 265h0M217 265h0M203 127h0M184 128h0M188 163h0M184 189h0M213 167h0M191 188h0M187 202h0M193 187h0M223 217h0M188 179h0M203 143h0M202 252h0M189 115h0M186 148h0M185 310h0M230 249h0M195 231h0M157 304h0M235 238h0M203 251h0M171 164h0M157 340h0M210 284h0M187 163h0M206 233h0M219 268h0M202 219h0M221 262h0M190 220h0M198 173h0M175 325h0M186 244h0M196 171h0M186 244h0M187 104h0M164 271h0M189 152h0M171 98h0M198 219h0M198 193h0M224 278h0M167 177h0M212 282h0M205 185h0M217 253h0M173 307h0M214 265h0M190 308h0M206 143h0M192 149h0M173 274h0M204 245h0M185 235h0M229 239h0M157 331h0M207 166h0M216 286h0M200 207h0M218 178h0M220 279h0M192 262h0M200 179h0M187 175h0M184 194h0M193 191h0M226 283h0M170 293h0M183 129h0M194 227h0M186 172h0M182 211h0M157 332h0M201 144h0M175 322h0M139 352h0M207 172h0M210 242h0M226 225h0M193 113h0M210 144h0M201 213h0M222 169h0M191 138h0M199 240h0M200 102h0M212 173h0M212 252h0M211 240h0M197 75h0M166 81h0M181 114h0M191 182h0M218 196h0M205 277h0M175 63h0M197 129h0M231 253h0M194 261h0M172 112h0M203 146h0M173 157h0M186 302h0M214 211h0M205 275h0M211 249h0M213 197h0M209 248h0M226 227h0M176 303h0M216 226h0M170 196h0M221 261h0M189 264h0M217 173h0M210 196h0M197 166h0M192 239h0M207 250h0M192 159h0M214 164h0M220 272h0M204 187h0M201 194h0M205 232h0M192 154h0M197 257h0M207 233h0M197 93h0M193 258h0M200 242h0M194 169h0M225 212h0M193 123h0M183 313h0M165 332h0M199 255h0M218 291h0M195 254h0M201 77h0M194 163h0M233 230h0M184 138h0M170 214h0M213 243h0M186 193h0M219 259h0M158 320h0M188 114h0M211 147h0M180 322h0M216 237h0M175 164h0M187 118h0M185 200h0"/>
<path d="M189 275h0M193 228h0M207 158h0M177 235h0M223 180h0M171 119h0M218 217h0M178 175h0M191 281h0M183 207h0M215 269h0M224 273h0M223 156h0M178 122h0M194 218h0M230 257h0M192 232h0M209 244h0M208 279h0M206 155h0M201 205h0M226 223h0M187 133h0M195 312h0M194 126h0M209 230h0M173 122h0M153 361h0M208 199h0M188 120h0M192 221h0M210 193h0M194 206h0M170 353h0M235 258h0M204 193h0M198 256h0M193 262h0M190 236h0M234 233h0M231 280h0M177 146h0M193 130h0M187 132h0M161 308h0M187 229h0M186 138h0M183 198h0M184 224h0M204 183h0M202 163h0M216 270h0M175 102h0M164 238h0M218 222h0M197 187h0M203 282h0M215 263h0M206 264h0M189 147h0M168 148h0M194 170h0M214 271h0M184 117h0M198 136h0M160 330h0M217 270h0M200 236h0M163 348h0M202 70h0M172 182h0M200 173h0M223 246h0M189 207h0M191 204h0M202 112h0M166 136h0M198 252h0M210 275h0M182 329h0M192 148h0M206 191h0M228 268h0M182 183h0M212 199h0M169 303h0M170 97h0M219 253h0M162 133h0M181 130h0M208 155h0M199 234h0M210 201h0M177 127h0M211 288h0M207 225h0M194 154h0M157 344h0M171 174h0M188 292h0M181 104h0M190 150h0M195 128h0M209 103h0M199 138h0M196 218h0M195 277h0M168 106h0M197 95h0M198 267h0M206 282h0M219 155h0M174 317h0M239 263h0M169 246h0M224 268h0M186 249h0M208 137h0M228 284h0M176 199h0M191 157h0M161 335h0M165 335h0M197 146h0M184 141h0M194 233h0M202 130h0M220 267h0M188 199h0M188 219h0M211 81h0M186 172h0M199 286h0M208 229h0M172 343h0M199 223h0M220 259h0M198 141h0M208 147h0M187 184h0M187 228h0M194 156h0M223 284h0M236 230h0M158 370h0M205 285h0M208 138h0M221 262h0M160 357h0M232 261h0M231 281h0M193 291h0M184 86h0M189 320h0M187 316h0M232 251h0M196 165h0M181 283h0M231 68h0M159 343h0M162 118h0M200 241h0"/>
<path d="M199 195h0M233 277h0M249 259h0M237 223h0M195 205h0M198 197h0M181 239h0M206 134h0M221 71h0M217 209h0M177 145h0M231 265h0M197 126h0M186 144h0M237 278h0M173 184h0M180 319h0M220 264h0M177 296h0M204 203h0M210 284h0M160 336h0M168 119h0M195 101h0M202 157h0M207 150h0M187 123h0M214 228h0M219 285h0M177 307h0M222 285h0M178 192h0M204 185h0M178 143h0M184 254h0M198 314h0M169 134h0M233 270h0M215 221h0M204 184h0M215 204h0M199 261h0M188 88h0M216 269h0M209 252h0M189 181h0M215 155h0M214 223h0M186 102h0M156 348h0M193 297h0M185 185h0M203 145h0M203 238h0M200 141h0M158 332h0M193 176h0M182 137h0M223 272h0M181 235h0M206 260h0M184 221h0M190 162h0M168 323h0M219 211h0M204 206h0M193 161h0M153 345h0M201 233h0M215 211h0M189 180h0M181 143h0M214 185h0M230 275h0M222 127h0M201 174h0M201 162h0M190 246h0M195 149h0M179 128h0M179 142h0M185 312h0M210 285h0M149 340h0M205 183h0M182 195h0M226 246h0M207 265h0M219 265h0M204 208h0M216 279h0M189 241h0M190 269h0M191 86h0M213 110h0M208 85h0M174 208h0M198 150h0M214 222h0M216 146h0M157 350h0M203 155h0M202 177h0M173 110h0M194 146h0M194 113h0M177 124h0M206 122h0M195 286h0M196 245h0M177 299h0M161 124h0M199 158h0M203 242h0M195 190h0M168 108h0M213 209h0M179 155h0M164 336h0M193 189h0M198 212h0M176 179h0M188 156h0M212 281h0M180 308h0M187 214h0M178 306h0M164 339h0M176 175h0M224 199h0M193 250h0M183 195h0M186 227h0M171 128h0M198 231h0M206 186h0M172 286h0M171 316h0M191 184h0M208 227h0M177 201h0M216 261h0M190 171h0M211 257h0M202 260h0M188 145h0M193 294h0M197 178h0M186 270h0M203 161h0M169 166h0M200 175h0M231 269h0M158 333h0M184 222h0M176 163h0M185 299h0M210 181h0M168 187h0M188 205h0M174 136h0M178 139h0"/>
</g>
<g stroke="#808080" stroke-width="5.2" stroke-linecap="round" stroke-opacity="0.16" fill="none" filter="url(#bl2)">
<path d="M777 122h0M759 136h0M773 118h0M787 112h0M773 119h0M788 118h0M801 94h0M786 107h0M768 124h0M789 103h0M795 102h0M762 129h0M752 134h0M767 115h0M801 96h0M805 85h0M772 118h0M784 106h0M782 113h0M734 153h0M763 126h0M755 138h0M770 130h0M796 105h0M766 132h0M791 113h0M780 111h0M805 94h0M741 156h0M766 126h0M775 127h0M778 123h0M807 80h0M757 144h0M807 91h0M800 96h0M753 143h0M741 153h0M775 126h0M783 111h0M733 163h0M760 137h0M748 159h0M776 115h0M809 92h0M806 99h0M756 134h0M737 152h0M750 157h0M779 106h0M756 133h0M800 93h0M748 149h0M801 98h0M764 134h0M743 157h0M804 83h0M754 126h0M740 158h0M782 118h0M770 130h0M770 128h0M777 114h0M759 134h0M771 118h0M737 156h0M792 101h0M776 128h0M783 115h0M774 113h0M759 138h0M798 97h0M770 132h0M791 100h0M800 101h0M769 133h0M787 115h0M775 113h0M759 139h0M733 166h0M772 113h0M741 149h0M742 149h0M761 134h0M739 147h0M738 157h0M778 116h0M757 130h0M779 110h0M751 133h0M753 151h0M755 134h0M790 111h0M792 117h0M822 81h0M754 152h0M783 113h0M789 105h0M786 102h0M776 122h0M822 74h0M767 127h0M789 106h0M775 113h0M742 146h0M831 71h0M780 118h0M781 114h0M760 135h0M784 107h0M751 141h0M794 103h0M764 131h0M743 148h0M780 119h0M772 122h0M781 109h0M821 77h0M787 105h0M738 150h0M794 113h0M806 100h0M780 117h0M772 115h0M744 150h0M807 103h0M759 121h0M784 118h0M803 97h0M759 132h0M787 108h0M738 155h0M746 150h0M750 151h0M801 90h0M733 164h0M764 135h0M765 133h0M742 146h0M788 108h0M745 154h0M795 106h0M764 136h0M787 118h0M739 157h0M745 146h0M760 134h0M798 96h0M741 144h0M807 91h0M813 91h0M766 134h0M749 144h0M756 141h0M743 149h0M799 100h0M752 133h0M743 152h0M771 116h0M731 157h0M801 100h0M791 96h0M817 79h0M766 127h0M789 104h0M756 148h0M804 83h0M792 103h0M776 114h0M786 107h0M774 114h0M723 160h0M783 122h0M749 140h0M737 160h0M761 131h0M797 97h0M743 152h0M755 128h0M750 142h0M748 148h0M774 128h0M774 121h0M731 167h0M753 150h0M742 143h0M772 133h0M791 109h0M771 132h0M767 126h0M751 139h0M779 118h0M794 108h0M789 112h0M774 131h0M737 148h0M758 140h0M784 114h0M781 113h0M770 133h0M781 114h0M794 102h0M805 92h0M777 131h0"/>
<path d="M736 161h0M745 150h0M733 159h0M756 131h0M780 116h0M746 149h0M792 105h0M749 141h0M738 161h0M759 138h0M746 151h0M787 107h0M804 94h0M767 130h0M795 104h0M742 148h0M757 121h0M770 132h0M806 97h0M809 89h0M764 123h0M798 104h0M785 107h0M748 152h0M761 125h0M810 86h0M812 80h0M749 133h0M748 151h0M744 154h0M761 132h0M753 130h0M765 126h0M800 101h0M751 148h0M819 80h0M753 135h0M787 103h0M746 152h0M786 114h0M777 124h0M755 143h0M739 154h0M804 83h0M788 110h0M754 137h0M755 143h0M736 156h0M767 131h0M737 149h0M787 106h0M800 102h0M777 116h0M779 106h0M804 91h0M764 129h0M786 96h0M756 137h0M760 133h0M755 140h0M751 143h0M758 130h0M806 89h0M746 148h0M759 134h0M736 157h0M746 144h0M775 113h0M772 122h0M760 143h0M801 101h0M761 141h0M802 96h0M757 132h0M745 154h0M748 151h0M782 111h0M744 148h0M774 122h0M766 135h0M785 105h0M792 108h0M770 123h0M747 148h0M782 117h0M764 129h0M755 142h0M787 104h0M759 140h0M789 111h0M751 150h0M732 164h0M776 130h0M757 140h0M809 96h0M771 126h0M767 135h0M754 143h0M744 147h0M790 107h0M731 159h0M790 99h0M776 123h0M775 127h0M761 131h0M809 85h0M781 116h0M766 133h0M760 128h0M741 159h0M822 76h0M814 91h0M781 107h0M830 75h0M743 145h0M787 103h0M746 161h0M734 159h0M768 128h0M757 149h0M772 118h0M774 122h0M792 101h0M781 109h0M744 147h0M719 172h0M761 131h0M781 121h0M742 150h0M781 115h0M813 81h0M791 110h0M790 104h0M780 112h0M793 103h0M815 89h0M763 133h0M749 139h0M739 153h0M778 116h0M731 156h0M792 105h0M755 149h0M795 107h0M803 95h0M781 112h0M791 102h0M747 147h0M737 156h0M759 139h0M775 121h0M783 106h0M780 113h0M747 145h0M788 95h0M792 97h0M742 150h0M757 146h0M801 89h0M779 112h0M781 115h0M776 125h0M777 117h0M787 106h0M777 112h0M730 161h0M792 114h0M797 98h0M771 129h0M774 116h0M764 126h0M778 116h0M785 113h0M790 108h0M764 142h0M799 93h0M784 103h0M755 144h0M769 131h0M808 97h0M761 140h0M745 148h0M783 110h0M764 131h0M744 148h0M798 96h0M771 116h0M760 138h0M742 155h0M769 128h0M797 107h0M745 147h0M788 112h0M744 156h0M788 114h0M755 131h0M756 131h0M781 110h0M796 98h0M768 142h0M804 92h0M784 116h0M778 112h0M794 98h0"/>
<path d="M789 102h0M763 140h0M781 116h0M783 111h0M783 124h0M773 117h0M773 122h0M758 145h0M788 110h0M751 142h0M745 147h0M788 118h0M780 107h0M748 152h0M777 118h0M754 145h0M764 134h0M740 147h0M733 172h0M761 134h0M807 91h0M774 130h0M806 93h0M802 79h0M794 103h0M800 93h0M778 109h0M752 146h0M746 152h0M766 130h0M792 101h0M809 101h0M794 112h0M780 115h0M740 158h0M741 141h0M790 115h0M797 96h0M773 121h0M775 115h0M749 158h0M765 132h0M788 107h0M763 127h0M733 156h0M762 136h0M748 152h0M788 106h0M746 139h0M803 85h0M777 113h0M784 110h0M770 118h0M781 120h0M791 106h0M789 106h0M775 121h0M784 105h0M766 128h0M793 105h0M779 122h0M764 128h0M761 134h0M798 110h0M751 144h0M806 89h0M771 125h0M735 154h0M770 132h0M764 138h0M746 153h0M728 164h0M744 166h0M788 101h0M774 124h0M747 152h0M741 159h0M754 134h0M768 124h0M755 145h0M809 89h0M756 140h0M731 170h0M803 88h0M762 140h0M738 157h0M746 151h0M763 138h0M760 124h0M799 98h0M785 114h0M765 131h0M813 80h0M822 67h0M761 141h0M766 125h0M789 113h0M769 128h0M772 129h0M787 104h0M758 133h0M779 129h0M778 120h0M767 123h0M763 132h0M792 104h0M776 116h0M798 100h0M797 100h0M771 127h0M765 133h0M777 111h0M757 133h0M775 126h0M799 92h0M747 141h0M747 147h0M783 114h0M793 99h0M737 158h0M738 157h0M787 103h0M798 99h0M763 141h0M762 134h0M759 142h0M770 128h0M787 116h0M774 123h0M769 127h0M792 109h0M773 118h0M794 105h0M763 124h0M757 132h0M778 112h0M791 103h0M757 138h0M771 119h0M777 121h0M798 91h0M787 117h0M753 140h0M747 151h0M809 84h0M766 127h0M747 148h0M798 99h0M799 89h0M737 159h0M776 113h0M738 155h0M774 121h0M750 145h0M796 103h0M782 108h0M780 118h0M770 122h0M728 161h0M745 153h0M755 142h0M776 118h0M807 84h0M737 154h0M806 89h0M751 152h0M777 135h0M794 96h0M756 143h0M780 123h0M764 131h0M767 135h0M794 99h0M784 115h0M759 133h0M793 94h0M791 105h0M802 105h0M794 105h0M735 154h0M775 124h0M771 131h0M771 126h0M831 60h0M786 115h0M765 139h0M740 152h0M759 142h0M734 156h0M756 140h0M759 136h0M762 127h0M764 134h0M752 146h0M766 134h0M770 123h0M787 112h0M790 115h0M761 133h0M785 109h0M796 102h0M743 163h0M758 139h0M764 120h0"/>
<path d="M782 110h0M792 107h0M783 115h0M754 145h0M748 148h0M772 125h0M733 157h0M756 132h0M741 153h0M745 162h0M783 109h0M773 111h0M793 111h0M795 102h0M808 87h0M780 110h0M781 116h0M758 133h0M800 106h0M750 140h0M781 113h0M791 108h0M783 113h0M769 129h0M760 133h0M778 113h0M750 145h0M755 128h0M748 142h0M796 112h0M777 119h0M787 104h0M794 102h0M745 152h0M814 97h0M775 119h0M731 162h0M810 85h0M778 121h0M759 140h0M754 139h0M750 137h0M791 109h0M744 148h0M781 114h0M786 109h0M738 152h0M734 158h0M754 133h0M755 145h0M804 96h0M791 103h0M795 100h0M743 156h0M775 125h0M761 129h0M803 87h0M762 127h0M732 155h0M750 148h0M795 100h0M736 150h0M743 147h0M775 128h0M808 70h0M785 105h0M815 89h0M783 116h0M754 146h0M739 163h0M744 155h0M743 162h0M815 82h0M799 90h0M732 168h0M795 98h0M804 98h0M796 92h0M777 111h0M782 108h0M763 127h0M790 108h0M773 121h0M740 158h0M792 99h0M789 121h0M740 158h0M768 122h0M801 94h0M794 100h0M774 121h0M762 133h0M742 155h0M734 149h0M760 136h0M800 101h0M730 156h0M786 115h0M783 107h0M779 116h0M797 108h0M753 135h0M809 69h0M774 122h0M796 97h0M758 145h0M774 114h0M772 125h0M771 121h0M769 126h0M798 99h0M754 139h0M787 98h0M814 88h0M760 141h0M765 134h0M763 137h0M805 94h0M733 163h0M797 100h0M746 154h0M752 147h0M748 146h0M755 141h0M759 138h0M758 133h0M737 157h0M790 120h0M737 157h0M738 149h0M777 128h0M790 98h0M748 140h0M767 130h0M769 122h0M791 114h0M785 114h0M786 116h0M792 105h0M755 143h0M733 159h0M766 128h0M781 129h0M757 144h0M722 163h0M778 124h0M782 108h0M746 153h0M790 104h0M778 117h0M778 115h0M758 136h0M747 158h0M753 134h0M772 135h0M736 151h0M776 115h0M772 130h0M778 125h0M735 159h0M815 73h0M774 122h0M784 105h0M811 84h0M734 162h0M785 108h0M813 91h0M777 116h0M791 110h0M771 122h0M755 145h0M809 87h0M742 153h0M757 138h0M758 139h0M801 96h0M755 138h0M778 116h0M788 116h0M754 151h0M759 143h0M757 144h0M758 138h0M747 152h0M782 110h0M745 143h0M747 155h0M758 124h0M778 111h0M742 153h0M797 100h0M808 95h0M736 159h0M756 152h0M798 106h0M769 119h0M745 153h0M813 94h0M736 154h0M789 103h0M750 143h0M742 148h0M758 138h0M740 166h0"/>
<path d="M793 101h0M786 107h0M757 136h0M787 102h0M788 104h0M777 114h0M777 114h0M731 161h0M776 114h0M759 126h0M768 129h0M758 134h0M753 145h0M770 123h0M769 136h0M756 135h0M784 110h0M747 150h0M773 130h0M763 126h0M782 117h0M741 155h0M787 113h0M783 111h0M756 139h0M795 99h0M780 104h0M747 146h0M786 115h0M754 145h0M784 116h0M774 113h0M769 129h0M786 116h0M739 160h0M772 135h0M749 147h0M775 122h0M792 100h0M791 105h0M795 98h0M757 145h0M753 150h0M753 136h0M777 111h0M785 127h0M776 121h0M809 91h0M789 100h0M734 156h0M750 141h0M774 114h0M777 115h0M799 92h0M807 99h0M759 130h0M800 96h0M763 135h0M761 133h0M743 150h0M747 150h0M733 169h0M801 97h0M797 90h0M776 128h0M786 110h0M849 60h0M793 101h0M788 101h0M747 153h0M772 128h0M767 128h0M732 164h0M757 147h0M767 130h0M766 135h0M803 97h0M757 138h0M747 138h0M754 144h0M787 110h0M787 120h0M761 133h0M803 91h0M792 107h0M767 124h0M765 137h0M799 95h0M797 91h0M794 91h0M803 95h0M730 161h0M787 105h0M777 123h0M780 117h0M748 145h0M805 97h0M737 154h0M774 121h0M752 143h0M763 132h0M736 149h0M802 91h0M740 148h0M741 156h0M770 123h0M780 112h0M829 65h0M780 117h0M789 115h0M743 149h0M736 151h0M724 170h0M747 149h0M790 107h0M758 137h0M779 133h0M793 97h0M764 127h0M751 148h0M755 129h0M771 126h0M770 123h0M733 160h0M749 153h0M802 101h0M770 124h0M772 127h0M757 134h0M788 103h0M750 146h0M746 149h0M771 120h0M735 157h0M796 99h0M746 151h0M755 139h0M761 141h0M775 111h0M795 97h0M800 92h0M782 101h0M745 155h0M802 102h0M790 105h0M753 138h0M736 157h0M788 108h0M764 130h0M790 104h0M758 147h0M805 91h0M791 107h0M731 155h0M757 138h0M771 119h0M737 151h0M784 106h0M761 132h0M742 156h0M739 164h0M803 89h0M775 124h0M750 141h0M758 124h0M741 157h0M767 127h0M780 115h0M785 118h0M738 157h0M810 95h0M762 132h0M789 98h0M775 122h0M772 134h0M749 149h0M741 152h0M783 110h0M732 161h0M788 94h0M791 104h0M779 122h0M800 91h0M804 88h0M782 105h0M796 106h0M783 114h0M734 160h0M788 109h0M746 148h0M757 138h0M753 141h0M764 135h0M794 105h0M776 124h0M744 144h0M744 146h0M792 99h0M765 135h0M808 79h0M797 97h0M752 140h0M777 128h0M767 125h0"/>
<path d="M805 86h0M763 133h0M754 143h0M749 137h0M792 107h0M755 133h0M792 100h0M806 99h0M784 124h0M780 112h0M769 118h0M748 140h0M733 154h0M793 107h0M796 102h0M782 104h0M763 138h0M763 143h0M752 146h0M774 125h0M748 157h0M805 89h0M743 159h0M765 131h0M784 107h0M817 76h0M742 151h0M790 99h0M745 160h0M767 124h0M770 122h0M803 89h0M778 113h0M789 111h0M786 106h0M747 141h0M768 129h0M779 128h0M794 100h0M783 103h0M784 107h0M788 99h0M733 155h0M794 92h0M736 156h0M765 124h0M742 159h0M722 170h0M742 148h0M781 114h0M800 99h0M832 64h0M764 130h0M810 78h0M736 158h0M747 155h0M771 119h0M770 122h0M781 113h0M755 140h0M766 131h0M742 154h0M754 136h0M770 130h0M750 145h0M756 127h0M764 129h0M757 136h0M791 97h0M788 112h0M775 123h0M800 92h0M747 148h0M795 100h0M780 119h0M764 126h0M782 111h0M780 115h0M770 115h0M787 112h0M800 94h0M790 95h0M804 101h0M798 114h0M798 83h0M783 114h0M778 116h0M742 156h0M806 94h0M770 130h0M733 156h0M777 127h0M745 156h0M754 145h0M740 159h0M769 129h0M762 141h0M751 143h0M759 142h0M798 98h0M810 87h0M790 106h0M748 151h0M746 145h0M761 133h0M807 89h0M758 138h0M769 132h0M796 106h0M753 138h0M758 134h0M752 150h0M743 155h0M763 140h0M743 152h0M767 129h0M802 99h0M733 152h0M779 114h0M780 112h0M768 130h0M803 101h0M745 142h0M788 118h0M810 82h0M796 104h0M766 130h0M800 90h0M759 126h0M756 140h0M805 91h0M805 96h0M738 143h0M790 103h0M739 151h0M798 100h0M791 97h0M840 72h0M760 139h0M742 149h0M786 106h0M803 106h0M783 102h0M746 153h0M788 105h0M770 133h0M762 130h0M744 152h0M781 117h0M760 123h0M800 101h0M790 96h0M770 118h0M762 138h0M771 126h0M756 146h0M789 111h0M753 146h0M777 125h0M750 143h0M760 136h0M783 109h0M848 59h0M793 103h0M759 131h0M803 98h0M790 96h0M743 152h0M757 139h0M761 134h0M803 87h0M768 134h0M779 119h0M760 136h0M763 129h0M747 148h0M760 131h0M810 86h0M766 131h0M786 108h0M759 128h0M761 135h0M758 139h0M799 96h0M758 138h0M782 119h0M753 147h0M804 102h0M747 145h0M753 137h0M736 153h0M740 157h0M793 98h0M794 100h0M801 100h0M748 142h0M797 108h0M813 88h0M786 105h0M794 98h0M743 148h0M786 106h0M756 137h0M756 138h0"/>
<path d="M760 133h0M794 111h0M760 131h0M742 140h0M723 161h0M782 119h0M738 153h0M827 71h0M776 108h0M803 103h0M775 121h0M798 99h0M773 126h0M814 91h0M762 130h0M800 87h0M776 124h0M741 144h0M775 121h0M800 101h0M811 79h0M785 104h0M789 115h0M796 102h0M813 91h0M743 153h0M780 120h0M816 84h0M807 93h0M797 93h0M728 169h0M796 108h0M795 100h0M787 106h0M785 104h0M740 148h0M751 150h0M792 99h0M808 90h0M770 125h0M731 154h0M757 131h0M854 59h0M782 121h0M780 110h0M792 101h0M730 153h0M796 100h0M766 132h0M799 100h0M798 93h0M745 152h0M774 124h0M740 158h0M742 149h0M779 116h0M804 87h0M734 147h0M747 151h0M786 100h0M773 121h0M761 145h0M772 121h0M766 138h0M752 129h0M785 107h0M748 143h0M776 112h0M758 140h0M852 52h0M779 117h0M785 112h0M808 92h0M770 123h0M803 99h0M730 165h0M758 132h0M735 154h0M751 144h0M757 138h0M788 117h0M764 131h0M749 141h0M789 105h0M773 123h0M750 144h0M745 149h0M772 125h0M815 88h0M754 143h0M747 150h0M756 145h0M774 127h0M743 150h0M746 152h0M782 120h0M777 113h0M736 164h0M795 100h0M798 99h0M813 80h0M798 99h0M739 159h0M799 96h0M794 105h0M739 160h0M754 146h0M756 142h0M789 105h0M774 121h0M748 142h0M769 128h0M784 113h0M817 89h0M789 110h0M751 146h0M794 87h0M813 95h0M742 149h0M807 96h0M761 136h0M753 144h0M759 134h0M770 130h0M764 131h0M755 135h0M777 124h0M759 142h0M746 144h0M757 126h0M746 158h0M740 151h0M758 138h0M784 108h0M785 111h0M798 99h0M809 85h0M791 115h0M761 134h0M801 95h0M749 136h0M789 100h0M754 137h0M805 98h0M784 115h0M806 95h0M771 125h0M775 108h0M736 154h0M751 141h0M793 99h0M798 89h0M766 131h0M753 142h0M750 150h0M776 117h0M793 92h0M778 114h0M807 92h0M795 97h0M791 113h0M796 96h0M774 128h0M764 128h0M797 101h0M785 111h0M734 158h0M818 84h0M749 150h0M768 132h0M797 98h0M782 122h0M789 106h0M770 132h0M801 90h0M810 95h0M787 101h0M793 106h0M746 150h0M750 145h0M788 93h0M795 103h0M773 127h0M789 112h0M769 124h0M804 91h0M753 136h0M800 101h0M807 94h0M754 149h0M844 62h0M739 158h0M744 157h0M761 140h0M755 149h0M750 144h0M740 142h0M805 97h0M728 160h0M756 143h0M786 106h0M794 96h0M747 157h0M753 130h0"/>
<path d="M790 101h0M797 93h0M728 152h0M799 102h0M798 97h0M762 133h0M793 102h0M807 93h0M731 164h0M783 108h0M801 93h0M740 155h0M757 137h0M800 100h0M786 108h0M777 120h0M769 132h0M735 152h0M800 105h0M762 135h0M775 122h0M798 96h0M748 135h0M786 108h0M769 130h0M791 103h0M766 131h0M788 115h0M761 135h0M759 138h0M802 92h0M726 160h0M797 112h0M796 90h0M802 91h0M769 129h0M766 131h0M757 142h0M761 136h0M722 169h0M795 106h0M749 140h0M790 112h0M780 114h0M792 97h0M778 116h0M752 142h0M760 123h0M763 133h0M828 71h0M761 133h0M766 138h0M740 159h0M805 87h0M757 138h0M779 114h0M791 95h0M802 90h0M778 117h0M777 113h0M807 95h0M801 89h0M775 125h0M767 130h0M836 60h0M786 109h0M737 157h0M807 97h0M798 91h0M767 129h0M799 94h0M822 70h0M786 103h0M797 92h0M764 132h0M784 118h0M733 164h0M803 84h0M741 159h0M772 119h0M783 104h0M761 134h0M827 71h0M785 106h0M810 87h0M805 86h0M765 130h0M765 139h0M760 131h0M736 164h0M785 107h0M739 153h0M763 138h0M748 140h0M739 146h0M799 100h0M751 137h0M794 101h0M785 116h0M765 130h0M735 162h0M739 155h0M768 124h0M762 135h0M786 110h0M792 104h0M780 109h0M806 90h0M773 131h0M753 140h0M733 167h0M792 111h0M795 100h0M764 129h0M757 137h0M808 78h0M779 123h0M741 143h0M802 97h0M777 107h0M798 97h0M778 121h0M731 172h0M793 104h0M789 105h0M798 94h0M780 102h0M742 152h0M750 142h0M738 157h0M789 107h0M758 133h0M733 161h0M784 103h0M796 99h0M797 94h0M744 153h0M766 127h0M771 114h0M743 160h0M760 140h0M770 123h0M760 134h0M748 152h0M736 149h0M783 109h0M745 148h0M803 97h0M745 140h0M793 106h0M754 144h0M764 124h0M799 101h0M769 134h0M762 122h0M778 114h0M801 100h0M792 103h0M747 151h0M795 100h0M774 127h0M787 100h0M762 135h0M765 121h0M793 99h0M747 146h0M750 150h0M798 98h0M734 165h0M771 126h0M792 101h0M774 126h0M756 137h0M745 158h0M743 151h0M755 143h0M795 100h0M756 141h0M776 116h0M769 127h0M780 112h0M773 117h0M748 150h0M781 118h0M759 142h0M795 94h0M735 156h0M773 125h0M771 120h0M804 95h0M779 121h0M764 130h0M741 154h0M802 99h0M793 106h0M775 106h0M798 100h0M792 112h0M797 103h0M774 119h0M736 162h0M800 98h0M759 140h0M771 125h0"/>
<path d="M792 101h0M777 120h0M849 48h0M745 150h0M809 94h0M741 152h0M759 138h0M785 102h0M779 109h0M732 160h0M769 131h0M773 114h0M798 102h0M806 90h0M786 100h0M754 146h0M740 144h0M736 161h0M770 129h0M771 121h0M761 133h0M763 142h0M787 106h0M781 117h0M802 86h0M805 93h0M786 107h0M792 96h0M768 126h0M774 120h0M786 116h0M815 81h0M777 113h0M780 119h0M797 89h0M756 141h0M779 114h0M794 107h0M752 132h0M749 147h0M739 155h0M759 132h0M741 141h0M730 155h0M748 137h0M772 118h0M801 91h0M779 122h0M782 118h0M741 153h0M806 95h0M768 133h0M727 160h0M801 94h0M802 96h0M777 117h0M759 138h0M782 117h0M778 122h0M764 129h0M783 102h0M764 128h0M797 99h0M741 157h0M752 133h0M755 134h0M736 157h0M800 93h0M806 97h0M778 124h0M789 107h0M807 93h0M745 148h0M743 158h0M766 142h0M808 92h0M801 92h0M797 94h0M779 107h0M793 108h0M744 153h0M743 158h0M734 155h0M793 107h0M781 109h0M737 156h0M759 140h0M806 91h0M752 146h0M804 90h0M799 104h0M739 160h0M742 148h0M777 121h0M778 113h0M744 148h0M744 158h0M772 132h0M776 120h0M763 134h0M770 118h0M764 132h0M787 107h0M793 101h0M771 130h0M735 167h0M798 99h0M779 121h0M765 123h0M734 155h0M760 136h0M731 171h0M775 127h0M771 112h0M744 160h0M816 84h0M748 148h0M739 141h0M767 140h0M746 145h0M784 110h0M773 129h0M743 155h0M743 153h0M836 58h0M791 90h0M759 132h0M733 149h0M741 152h0M737 161h0M751 141h0M779 130h0M794 96h0M757 129h0M755 143h0M784 110h0M797 101h0M796 107h0M799 86h0M805 89h0M757 138h0M790 108h0M791 104h0M805 89h0M785 101h0M741 153h0M790 105h0M801 91h0M801 93h0M741 156h0M767 129h0M767 128h0M775 120h0M796 104h0M771 128h0M762 128h0M783 120h0M734 161h0M800 94h0M767 130h0M753 144h0M790 102h0M791 103h0M812 86h0M805 90h0M792 99h0M791 111h0M774 114h0M747 149h0M752 141h0M757 132h0M767 123h0M761 138h0M748 147h0M769 131h0M834 60h0M785 109h0M751 144h0M793 111h0M748 140h0M794 113h0M754 139h0M756 142h0M756 135h0M797 91h0M752 142h0M760 129h0M757 137h0M760 137h0M840 65h0M745 147h0M738 162h0M769 140h0M753 151h0M748 146h0M800 105h0M788 102h0M781 112h0M782 116h0M800 92h0M742 152h0M797 97h0M787 113h0M734 163h0"/>
<path d="M811 92h0M768 114h0M772 124h0M787 110h0M778 116h0M795 98h0M787 101h0M763 128h0M803 100h0M806 94h0M751 136h0M790 106h0M728 165h0M797 102h0M760 135h0M784 109h0M752 140h0M791 110h0M783 118h0M743 145h0M739 149h0M784 102h0M754 140h0M806 97h0M740 150h0M738 155h0M804 97h0M763 139h0M752 144h0M754 147h0M774 122h0M779 124h0M781 127h0M736 147h0M799 92h0M747 144h0M805 96h0M787 99h0M792 107h0M754 144h0M738 151h0M765 141h0M745 158h0M853 50h0M791 102h0M763 138h0M779 112h0M750 150h0M774 113h0M763 139h0M756 137h0M770 126h0M761 137h0M732 155h0M786 109h0M797 103h0M758 138h0M745 149h0M750 143h0M788 117h0M762 129h0M802 91h0M767 123h0M796 105h0M760 134h0M756 131h0M783 113h0M805 99h0M743 141h0M799 106h0M780 117h0M772 122h0M769 133h0M771 121h0M777 118h0M760 128h0M807 91h0M767 127h0M796 102h0M801 94h0M791 105h0M744 147h0M759 135h0M743 151h0M798 95h0M769 127h0M783 109h0M744 151h0M754 145h0M744 159h0M786 101h0M732 152h0M769 127h0M797 99h0M760 134h0M751 138h0M753 136h0M788 106h0M750 140h0M762 129h0M749 142h0M807 89h0M785 115h0M790 106h0M758 137h0M771 126h0M744 149h0M814 84h0M754 145h0M783 120h0M803 94h0M794 100h0M761 136h0M801 91h0M801 105h0M800 91h0M769 119h0M799 100h0M763 135h0M790 113h0M796 93h0M763 142h0M770 128h0M788 110h0M743 143h0M776 111h0M755 134h0M745 152h0M752 142h0M783 124h0M787 110h0M797 99h0M786 107h0M794 105h0M850 56h0M780 117h0M785 116h0M758 140h0M781 113h0M786 114h0M792 96h0M793 92h0M812 82h0M788 99h0M769 113h0M754 138h0M772 121h0M745 142h0M746 139h0M801 100h0M746 151h0M779 120h0M786 110h0M759 128h0M793 105h0M827 65h0M762 134h0M782 108h0M749 141h0M749 143h0M774 123h0M806 84h0M731 152h0M741 149h0M755 141h0M780 124h0M792 108h0M768 129h0M737 161h0M780 110h0M734 161h0M753 140h0M796 103h0M755 142h0M804 92h0M802 101h0M816 78h0M746 145h0M756 135h0M768 122h0M779 114h0M807 92h0M736 158h0M746 150h0M746 150h0M784 118h0M751 138h0M764 126h0M796 96h0M773 125h0M760 125h0M776 121h0M762 133h0M742 151h0M745 155h0M743 149h0M780 113h0M729 164h0M763 133h0M759 144h0M736 157h0M751 137h0M767 119h0M770 126h0"/>
<path d="M798 99h0M787 103h0M782 104h0M800 104h0M768 119h0M736 155h0M723 169h0M789 106h0M784 111h0M741 152h0M806 97h0M779 115h0M759 132h0M796 99h0M744 152h0M740 148h0M740 162h0M766 130h0M808 94h0M783 109h0M807 88h0M791 108h0M785 113h0M775 135h0M795 94h0M789 108h0M757 133h0M754 133h0M786 91h0M750 151h0M770 130h0M761 132h0M767 137h0M751 144h0M791 103h0M779 115h0M757 133h0M760 133h0M797 102h0M750 144h0M781 125h0M766 127h0M808 97h0M733 165h0M772 128h0M780 115h0M776 104h0M769 129h0M800 97h0M779 123h0M791 102h0M770 121h0M745 148h0M779 110h0M756 138h0M785 107h0M746 150h0M796 100h0M763 136h0M776 123h0M754 138h0M752 146h0M747 154h0M810 88h0M731 160h0M747 141h0M758 136h0M752 136h0M783 113h0M756 131h0M785 111h0M791 105h0M769 119h0M748 143h0M736 152h0M815 84h0M780 101h0M741 157h0M767 135h0M738 153h0M751 133h0M738 155h0M788 104h0M807 95h0M801 86h0M747 142h0M724 160h0M750 148h0M796 95h0M761 132h0M803 85h0M795 115h0M772 129h0M742 151h0M784 104h0M789 105h0M754 136h0M781 114h0M763 138h0M794 96h0M755 137h0M782 123h0M748 145h0M786 115h0M739 153h0M740 146h0M779 116h0M793 99h0M795 93h0M739 151h0M764 127h0M748 143h0M771 127h0M759 139h0M799 95h0M762 125h0M839 58h0M736 162h0M788 105h0M750 145h0M757 145h0M749 144h0M784 110h0M801 91h0M757 138h0M761 128h0M764 123h0M744 150h0M787 105h0M801 94h0M749 140h0M728 159h0M748 147h0M746 145h0M799 99h0M793 100h0M745 150h0M759 135h0M751 148h0M787 109h0M805 85h0M779 116h0M737 156h0M751 135h0M793 96h0M749 132h0M801 106h0M769 125h0M812 89h0M771 114h0M781 117h0M803 92h0M763 126h0M739 150h0M814 87h0M744 141h0M762 131h0M801 92h0M793 105h0M752 145h0M792 99h0M766 124h0M778 114h0M759 142h0M762 132h0M759 136h0M768 125h0M773 124h0M797 92h0M752 152h0M760 121h0M777 113h0M775 116h0M768 131h0M797 99h0M767 124h0M739 154h0M763 127h0M807 92h0M744 147h0M803 92h0M780 119h0M769 121h0M750 143h0M761 133h0M770 126h0M806 93h0M772 122h0M764 137h0M769 116h0M772 130h0M761 136h0M788 108h0M762 134h0M807 88h0M750 134h0M800 100h0M778 110h0M789 108h0M743 153h0M756 138h0M790 104h0M776 123h0"/>
<path d="M779 103h0M770 122h0M743 142h0M784 115h0M768 140h0M769 133h0M772 117h0M739 159h0M746 148h0M747 147h0M759 141h0M784 99h0M749 150h0M733 157h0M753 154h0M772 119h0M764 123h0M760 133h0M799 93h0M781 115h0M751 136h0M805 92h0M777 115h0M761 141h0M761 127h0M783 123h0M730 160h0M796 102h0M808 89h0M792 104h0M732 158h0M754 149h0M785 113h0M807 92h0M746 149h0M756 134h0M797 93h0M772 119h0M777 123h0M771 122h0M795 97h0M785 108h0M787 115h0M788 116h0M744 152h0M742 153h0M788 110h0M735 150h0M750 143h0M760 133h0M781 112h0M755 134h0M783 121h0M775 124h0M748 146h0M777 113h0M744 145h0M749 140h0M784 111h0M748 140h0M758 140h0M767 120h0M756 140h0M786 112h0M761 130h0M748 142h0M801 98h0M807 99h0M787 106h0M768 124h0M796 95h0M769 127h0M749 139h0M738 150h0M754 142h0M730 158h0M787 108h0M795 99h0M749 143h0M761 133h0M788 103h0M788 108h0M807 94h0M761 128h0M763 128h0M792 109h0M795 97h0M741 153h0M767 128h0M757 138h0M778 116h0M735 156h0M808 85h0M760 138h0M743 144h0M801 104h0M778 116h0M736 153h0M772 127h0M737 161h0M802 88h0M750 145h0M751 139h0M795 98h0M808 85h0M775 131h0M773 127h0M780 111h0M762 132h0M762 139h0M788 111h0M749 144h0M755 144h0M805 90h0M801 89h0M763 125h0M799 97h0M755 148h0M775 120h0M743 156h0M771 129h0M728 161h0M747 147h0M779 114h0M736 169h0M798 97h0M778 108h0M785 108h0M777 119h0M780 118h0M734 161h0M800 95h0M806 100h0M792 108h0M737 152h0M760 133h0M748 142h0M780 116h0M781 108h0M750 141h0M784 109h0M759 127h0M808 82h0M760 142h0M746 143h0M794 104h0M766 121h0M803 107h0M779 118h0M746 158h0M758 137h0M803 92h0M762 138h0M733 155h0M791 104h0M735 143h0M797 92h0M757 130h0M748 141h0M763 129h0M781 112h0M763 130h0M803 88h0M814 88h0M771 120h0M728 157h0M796 90h0M768 130h0M782 109h0M764 134h0M765 126h0M763 128h0M844 65h0M799 98h0M766 136h0M740 158h0M784 111h0M791 104h0M780 112h0M814 69h0M799 104h0M791 103h0M729 162h0M745 152h0M744 164h0M762 125h0M784 111h0M738 154h0M786 104h0M765 137h0M763 126h0M789 99h0M763 133h0M748 149h0M757 143h0M765 131h0M760 136h0M731 155h0M734 151h0M759 136h0M788 110h0M750 137h0M775 124h0"/>
<path d="M794 112h0M787 106h0M735 151h0M788 98h0M799 103h0M761 131h0M739 151h0M755 144h0M806 90h0M765 134h0M761 127h0M749 151h0M801 99h0M781 119h0M754 151h0M815 81h0M770 118h0M744 158h0M777 116h0M764 134h0M778 118h0M745 141h0M747 151h0M802 93h0M811 78h0M786 115h0M757 135h0M817 69h0M774 131h0M736 148h0M763 127h0M781 123h0M796 96h0M762 139h0M810 93h0M811 88h0M782 108h0M779 108h0M788 105h0M749 151h0M787 102h0M793 104h0M785 109h0M768 125h0M778 110h0M773 120h0M753 142h0M801 96h0M750 143h0M740 155h0M778 120h0M759 136h0M739 154h0M811 83h0M778 108h0M794 93h0M812 87h0M785 115h0M788 115h0M790 110h0M758 139h0M804 90h0M745 146h0M793 104h0M767 126h0M750 138h0M762 127h0M771 119h0M751 141h0M770 130h0M730 153h0M756 140h0M735 173h0M788 107h0M734 167h0M789 105h0M764 124h0M751 142h0M766 133h0M768 137h0M754 130h0M810 90h0M752 142h0M730 155h0M750 149h0M788 109h0M748 139h0M803 96h0M733 156h0M758 146h0M788 105h0M787 109h0M766 132h0M774 114h0M793 99h0M759 136h0M777 119h0M752 139h0M805 95h0M776 119h0M742 151h0M740 153h0M751 142h0M756 133h0M770 134h0M740 156h0M806 93h0M789 106h0M752 139h0M755 123h0M755 141h0M747 151h0M801 95h0M781 125h0M752 151h0M777 125h0M769 127h0M755 145h0M798 95h0M779 120h0M766 122h0M789 114h0M757 137h0M783 124h0M762 139h0M749 143h0M741 151h0M776 123h0M764 134h0M797 96h0M742 148h0M821 81h0M747 148h0M803 97h0M795 103h0M745 151h0M739 156h0M764 129h0M804 95h0M741 153h0M751 151h0M760 134h0M752 138h0M751 137h0M735 157h0M809 86h0M788 105h0M802 96h0M739 159h0M811 85h0M758 145h0M765 133h0M759 132h0M748 141h0M786 111h0M753 143h0M757 131h0M745 150h0M779 111h0M767 123h0M766 130h0M740 149h0M785 110h0M794 92h0M775 111h0M803 94h0M752 137h0M760 129h0M759 142h0M751 139h0M795 99h0M781 112h0M739 157h0M804 89h0M754 135h0M791 111h0M792 98h0M800 94h0M744 149h0M742 157h0M772 114h0M776 113h0M740 154h0M748 147h0M798 103h0M741 162h0M763 122h0M793 102h0M747 154h0M761 131h0M765 134h0M751 141h0M806 84h0M731 160h0M773 117h0M761 133h0M740 150h0M788 120h0M776 123h0M727 158h0M803 95h0M789 108h0M774 119h0"/>
<path d="M791 113h0M772 116h0M794 115h0M796 95h0M776 103h0M760 126h0M767 129h0M786 109h0M794 95h0M807 87h0M840 60h0M765 122h0M782 113h0M802 93h0M763 125h0M774 117h0M782 122h0M781 109h0M798 100h0M792 103h0M803 92h0M760 122h0M780 109h0M758 133h0M761 137h0M746 143h0M747 149h0M728 163h0M778 115h0M792 104h0M789 103h0M779 107h0M779 106h0M768 116h0M780 107h0M797 100h0M796 105h0M781 120h0M777 114h0M803 98h0M785 107h0M761 132h0M778 114h0M764 129h0M787 112h0M805 86h0M782 119h0M786 104h0M802 89h0M742 146h0M752 147h0M806 100h0M842 55h0M803 88h0M750 148h0M730 156h0M765 124h0M769 119h0M730 154h0M770 133h0M799 100h0M779 117h0M758 132h0M787 111h0M801 97h0M772 114h0M766 130h0M768 121h0M767 122h0M791 109h0M832 69h0M802 106h0M745 136h0M779 110h0M806 95h0M791 96h0M788 115h0M791 108h0M779 106h0M772 131h0M765 130h0M760 137h0M786 107h0M752 134h0M795 104h0M794 91h0M764 126h0M767 127h0M780 120h0M776 120h0M823 69h0M761 138h0M781 113h0M773 114h0M801 92h0M769 141h0M800 100h0M732 159h0M760 147h0M749 143h0M759 140h0M780 115h0M766 129h0M781 122h0M799 101h0M778 114h0M766 127h0M751 145h0M768 131h0M794 105h0M793 103h0M783 120h0M748 150h0M740 149h0M760 127h0M758 130h0M759 145h0M786 115h0M778 112h0M779 115h0M755 139h0M772 121h0M775 121h0M807 90h0M758 137h0M760 137h0M759 133h0M758 140h0M745 141h0M800 92h0M778 119h0M784 109h0M800 96h0M793 107h0M810 81h0M809 92h0M800 95h0M799 97h0M779 116h0M783 114h0M789 102h0M767 121h0M796 98h0M748 145h0M775 119h0M760 123h0M783 119h0M758 131h0M782 117h0M743 147h0M797 95h0M787 113h0M777 110h0M745 140h0M761 132h0M794 108h0M745 144h0M734 154h0M738 159h0M778 121h0M782 100h0M774 120h0M790 110h0M788 117h0M797 103h0M748 140h0M793 109h0M734 160h0M802 98h0M771 127h0M795 98h0M740 158h0M791 102h0M767 126h0M792 108h0M784 110h0M756 139h0M756 149h0M776 122h0M771 132h0M751 144h0M754 140h0M758 139h0M792 102h0M743 154h0M739 156h0M810 93h0M766 135h0M788 102h0M784 107h0M755 129h0M758 143h0M790 113h0M801 98h0M798 101h0M756 140h0M790 110h0M796 95h0M735 162h0M773 121h0M776 119h0M755 136h0M750 161h0"/>
<path d="M790 106h0M809 84h0M767 128h0M766 134h0M742 155h0M784 115h0M759 141h0M750 148h0M742 143h0M759 132h0M765 130h0M750 149h0M750 142h0M764 136h0M806 86h0M790 116h0M793 108h0M762 134h0M767 125h0M777 121h0M789 110h0M749 144h0M774 117h0M794 98h0M787 111h0M772 126h0M792 109h0M736 162h0M758 132h0M767 120h0M801 98h0M769 128h0M766 126h0M737 149h0M771 132h0M773 123h0M764 126h0M749 140h0M773 118h0M773 122h0M779 107h0M801 97h0M757 138h0M782 115h0M793 95h0M796 103h0M774 121h0M755 129h0M743 151h0M746 147h0M813 91h0M772 130h0M756 136h0M740 159h0M795 107h0M772 120h0M776 123h0M779 113h0M741 150h0M751 141h0M750 144h0M800 94h0M742 150h0M792 107h0M763 123h0M800 98h0M755 143h0M761 143h0M777 120h0M763 133h0M767 133h0M752 142h0M754 150h0M779 123h0M765 127h0M748 143h0M802 100h0M775 122h0M778 121h0M780 109h0M752 141h0M781 119h0M741 152h0M720 166h0M779 122h0M811 88h0M771 112h0M738 153h0M800 91h0M802 98h0M803 94h0M799 94h0M733 163h0M747 135h0M754 135h0M802 98h0M765 126h0M771 121h0M772 127h0M804 91h0M799 92h0M791 107h0M779 110h0M805 90h0M783 115h0M763 124h0M765 134h0M853 52h0M774 119h0M731 158h0M782 110h0M776 114h0M773 135h0M780 102h0M787 106h0M823 71h0M795 106h0M767 134h0M804 88h0M774 120h0M733 160h0M755 145h0M796 102h0M751 142h0M753 143h0M775 106h0M801 92h0M806 96h0M764 133h0M794 115h0M747 142h0M785 114h0M793 104h0M732 169h0M780 118h0M801 94h0M737 155h0M745 144h0M784 109h0M743 156h0M769 125h0M789 103h0M784 108h0M800 87h0M803 88h0M735 152h0M773 120h0M770 132h0M810 91h0M756 132h0M766 128h0M778 116h0M751 155h0M848 53h0M800 100h0M744 157h0M785 119h0M785 120h0M774 130h0M736 161h0M778 121h0M747 151h0M734 159h0M798 97h0M805 90h0M744 140h0M762 137h0M784 122h0M792 98h0M800 97h0M788 109h0M741 153h0M745 142h0M753 141h0M789 103h0M778 118h0M805 90h0M775 111h0M764 138h0M777 119h0M787 108h0M760 135h0M782 115h0M774 120h0M801 104h0M769 131h0M744 146h0M789 109h0M778 121h0M781 115h0M744 146h0M792 108h0M785 108h0M780 117h0M750 136h0M803 97h0M752 145h0M780 125h0M803 94h0M770 120h0M790 107h0M780 115h0M785 112h0"/>
<path d="M806 98h0M787 108h0M754 146h0M756 141h0M750 162h0M747 143h0M753 139h0M740 148h0M802 101h0M781 108h0M809 87h0M751 141h0M738 163h0M750 143h0M737 160h0M737 148h0M762 134h0M737 160h0M737 155h0M776 118h0M780 106h0M772 131h0M746 152h0M781 115h0M816 84h0M777 111h0M766 124h0M749 145h0M744 141h0M795 99h0M744 138h0M801 92h0M784 101h0M765 138h0M792 103h0M793 101h0M806 96h0M740 159h0M767 130h0M802 98h0M765 130h0M776 123h0M761 141h0M749 151h0M751 140h0M790 106h0M781 115h0M780 115h0M768 132h0M853 56h0M760 125h0M766 124h0M799 99h0M762 138h0M785 111h0M778 122h0M773 121h0M774 119h0M759 140h0M746 143h0M760 126h0M747 144h0M777 108h0M744 152h0M807 91h0M756 128h0M789 106h0M746 147h0M788 104h0M788 104h0M795 108h0M770 114h0M783 122h0M777 109h0M759 133h0M740 155h0M746 141h0M753 128h0M724 172h0M765 142h0M771 131h0M789 100h0M796 99h0M810 83h0M750 143h0M801 97h0M784 111h0M810 88h0M755 144h0M753 139h0M735 162h0M787 115h0M750 146h0M792 103h0M747 144h0M749 141h0M785 107h0M757 137h0M807 91h0M770 114h0M783 114h0M791 103h0M738 145h0M747 142h0M746 153h0M804 87h0M793 97h0M802 97h0M767 136h0M753 141h0M785 115h0M792 96h0M782 102h0M766 127h0M745 150h0M750 141h0M775 111h0M803 96h0M788 112h0M778 121h0M807 89h0M778 118h0M734 146h0M778 116h0M773 111h0M795 101h0M755 141h0M790 99h0M734 171h0M802 92h0M811 88h0M764 139h0M759 130h0M775 124h0M772 133h0M772 122h0M807 95h0M767 129h0M745 149h0M757 135h0M732 163h0M737 155h0M769 122h0M756 142h0M794 113h0M756 137h0M782 108h0M789 121h0M801 93h0M739 158h0M768 119h0M729 162h0M752 148h0M757 141h0M761 123h0M756 131h0M765 118h0M790 97h0M805 97h0M829 66h0M786 102h0M761 130h0M804 86h0M750 147h0M789 105h0M803 91h0M821 75h0M743 141h0M790 112h0M793 105h0M788 118h0M794 112h0M762 131h0M779 126h0M767 140h0M739 164h0M769 124h0M774 117h0M770 128h0M752 147h0M758 139h0M778 120h0M744 147h0M782 110h0M792 102h0M805 98h0M747 145h0M780 114h0M789 105h0M783 102h0M779 115h0M776 129h0M742 166h0M830 78h0M786 106h0M787 114h0M789 101h0M765 129h0M748 146h0M798 100h0M753 141h0M755 132h0M746 147h0"/>
<path d="M739 156h0M772 116h0M756 138h0M801 98h0M838 65h0M777 122h0M785 113h0M743 157h0M773 120h0M764 131h0M764 139h0M776 106h0M725 169h0M789 114h0M792 113h0M788 95h0M755 152h0M741 158h0M763 139h0M808 92h0M769 134h0M773 129h0M805 85h0M731 161h0M807 84h0M795 104h0M789 102h0M787 117h0M774 137h0M792 95h0M738 156h0M793 98h0M788 103h0M748 150h0M788 108h0M765 123h0M788 102h0M804 98h0M805 95h0M835 63h0M749 128h0M778 126h0M796 103h0M804 88h0M757 130h0M746 151h0M785 107h0M766 130h0M756 130h0M766 126h0M754 142h0M761 135h0M782 124h0M758 138h0M765 135h0M802 98h0M741 160h0M743 143h0M760 130h0M778 119h0M791 109h0M783 109h0M751 151h0M809 88h0M778 112h0M773 127h0M760 131h0M760 126h0M749 138h0M748 146h0M776 119h0M783 117h0M770 132h0M805 102h0M775 131h0M816 90h0M745 148h0M755 140h0M759 128h0M743 155h0M798 103h0M764 139h0M749 137h0M750 141h0M804 97h0M764 129h0M766 132h0M761 136h0M756 142h0M766 133h0M735 160h0M809 89h0M734 157h0M757 131h0M748 142h0M739 152h0M766 131h0M778 111h0M780 117h0M803 90h0M760 128h0M769 119h0M809 98h0M740 156h0M737 160h0M777 113h0M752 140h0M742 150h0M800 97h0M793 107h0M772 112h0M772 114h0M749 146h0M800 114h0M782 108h0M791 105h0M751 139h0M784 113h0M778 126h0M751 148h0M754 139h0M767 127h0M752 143h0M781 112h0M756 139h0M762 135h0M746 144h0M800 101h0M747 144h0M753 141h0M746 141h0M741 140h0M779 110h0M764 134h0M746 153h0M847 62h0M791 109h0M813 87h0M760 132h0M798 96h0M745 153h0M823 67h0M735 146h0M762 130h0M748 156h0M755 143h0M779 115h0M751 147h0M747 140h0M770 131h0M767 132h0M783 112h0M758 134h0M799 105h0M783 107h0M798 100h0M735 169h0M739 160h0M741 158h0M793 102h0M770 116h0M731 150h0M779 125h0M769 124h0M755 142h0M762 139h0M753 142h0M805 97h0M751 148h0M778 120h0M771 125h0M790 104h0M796 98h0M765 121h0M773 116h0M769 128h0M742 148h0M783 113h0M790 102h0M762 132h0M733 156h0M772 120h0M748 141h0M768 129h0M760 131h0M739 154h0M735 159h0M807 88h0M736 161h0M745 148h0M765 126h0M748 149h0M771 117h0M764 136h0M737 151h0M797 101h0M767 144h0M759 141h0M814 84h0M757 128h0M792 101h0M782 108h0M758 141h0"/>
<path d="M793 105h0M772 126h0M794 107h0M734 157h0M756 148h0M772 115h0M739 144h0M799 96h0M786 110h0M734 164h0M769 117h0M744 151h0M749 142h0M757 140h0M779 119h0M787 116h0M753 144h0M798 94h0M783 116h0M751 144h0M785 104h0M744 154h0M791 90h0M801 92h0M801 94h0M784 108h0M769 136h0M755 147h0M795 98h0M785 115h0M789 108h0M774 121h0M767 136h0M777 122h0M759 132h0M766 125h0M778 124h0M773 118h0M775 115h0M778 114h0M794 95h0M808 93h0M792 99h0M737 149h0M753 150h0M763 136h0M796 96h0M738 156h0M770 123h0M763 122h0M748 148h0M796 99h0M831 59h0M792 101h0M756 129h0M752 141h0M738 153h0M770 127h0M762 135h0M772 115h0M730 161h0M799 98h0M798 98h0M734 158h0M799 97h0M806 94h0M783 102h0M777 119h0M761 134h0M742 153h0M731 169h0M792 103h0M766 122h0M789 112h0M769 125h0M799 91h0M730 159h0M800 93h0M767 127h0M784 110h0M805 86h0M764 144h0M744 140h0M782 123h0M783 122h0M798 106h0M778 118h0M746 151h0M751 140h0M766 131h0M723 164h0M753 142h0M767 132h0M751 143h0M776 115h0M801 91h0M747 153h0M751 149h0M754 150h0M821 77h0M740 149h0M756 138h0M748 147h0M820 77h0M798 102h0M762 133h0M752 136h0M740 144h0M785 120h0M737 154h0M742 150h0M787 112h0M787 110h0M767 133h0M783 102h0M756 142h0M783 107h0M742 153h0M769 126h0M778 113h0M743 155h0M777 127h0M727 162h0M745 146h0M793 96h0M797 105h0M756 145h0M784 113h0M805 94h0M764 123h0M785 111h0M746 150h0M739 146h0M803 91h0M778 125h0M783 117h0M740 154h0M731 158h0M793 111h0M734 160h0M769 141h0M791 98h0M794 110h0M742 147h0M789 100h0M762 136h0M800 91h0M771 128h0M775 120h0M786 113h0M800 93h0M812 93h0M759 132h0M771 128h0M755 141h0M790 107h0M753 137h0M799 92h0M754 149h0M808 93h0M769 126h0M742 152h0M736 160h0M751 142h0M804 103h0M763 132h0M787 111h0M806 85h0M817 82h0M768 124h0M746 142h0M767 123h0M776 101h0M777 120h0M789 102h0M749 141h0M745 145h0M774 120h0M797 99h0M777 118h0M757 141h0M809 82h0M766 129h0M786 111h0M760 125h0M761 127h0M757 141h0M781 121h0M766 135h0M745 145h0M744 152h0M799 97h0M746 136h0M769 126h0M760 132h0M777 112h0M806 99h0M790 115h0M802 89h0M754 143h0M729 158h0M769 119h0M776 112h0"/>
<path d="M811 79h0M755 140h0M749 153h0M771 128h0M767 135h0M767 136h0M787 110h0M750 147h0M789 106h0M840 53h0M775 129h0M804 93h0M749 139h0M743 153h0M759 128h0M739 162h0M795 98h0M800 95h0M756 137h0M760 132h0M783 102h0M804 85h0M754 127h0M800 93h0M756 142h0M785 112h0M769 129h0M739 158h0M780 115h0M781 111h0M751 148h0M735 156h0M750 141h0M736 168h0M756 133h0M808 79h0M810 89h0M786 99h0M741 153h0M743 143h0M810 94h0M791 111h0M776 112h0M803 93h0M784 108h0M749 140h0M734 154h0M820 88h0M774 124h0M784 115h0M802 102h0M740 149h0M760 131h0M745 162h0M743 147h0M790 105h0M783 110h0M767 122h0M801 93h0M757 135h0M834 64h0M744 142h0M758 134h0M739 150h0M794 99h0M739 150h0M791 103h0M769 122h0M783 113h0M767 136h0M787 104h0M809 89h0M736 153h0M795 101h0M770 125h0M795 100h0M788 112h0M789 99h0M759 136h0M740 157h0M740 146h0M803 99h0M793 96h0M777 122h0M768 123h0M765 113h0M758 132h0M763 139h0M777 111h0M754 142h0M813 86h0M798 100h0M738 165h0M731 160h0M786 107h0M799 95h0M764 134h0M767 127h0M756 137h0M758 135h0M807 84h0M736 165h0M747 149h0M791 105h0M802 98h0M809 85h0M757 141h0M758 135h0M785 104h0M793 103h0M780 111h0M748 158h0M771 135h0M789 104h0M770 123h0M739 143h0M797 99h0M776 106h0M790 97h0M805 84h0M844 59h0M753 140h0M796 98h0M796 99h0M795 107h0M761 135h0M740 163h0M757 131h0M774 120h0M771 120h0M768 133h0M800 101h0M777 118h0M795 105h0M741 151h0M750 153h0M740 150h0M757 130h0M766 131h0M753 147h0M737 161h0M807 94h0M763 136h0M750 149h0M788 103h0M803 95h0M741 147h0M788 106h0M760 131h0M806 94h0M755 130h0M768 128h0M779 129h0M744 150h0M749 140h0M796 100h0M798 94h0M799 106h0M785 110h0M757 145h0M749 144h0M772 136h0M759 134h0M772 117h0M795 106h0M740 159h0M770 134h0M803 92h0M762 135h0M771 130h0M736 142h0M743 144h0M764 140h0M793 103h0M732 157h0M789 107h0M757 128h0M737 153h0M771 127h0M795 102h0M801 98h0M811 82h0M781 114h0M796 108h0M753 148h0M763 128h0M754 141h0M758 130h0M810 82h0M791 98h0M817 88h0M796 104h0M768 127h0M799 99h0M795 101h0M788 98h0M785 111h0M736 164h0M840 49h0M734 157h0M736 150h0M757 147h0M758 148h0"/>
<path d="M763 130h0M741 163h0M742 159h0M742 157h0M797 94h0M789 91h0M788 103h0M796 105h0M731 159h0M749 146h0M789 104h0M768 122h0M784 108h0M796 104h0M771 111h0M774 134h0M775 126h0M774 113h0M730 155h0M738 159h0M761 139h0M758 129h0M818 75h0M790 104h0M771 131h0M737 164h0M780 110h0M753 150h0M796 98h0M811 91h0M763 134h0M792 117h0M795 96h0M790 103h0M746 138h0M752 148h0M774 113h0M756 137h0M809 96h0M778 116h0M767 127h0M765 131h0M743 155h0M765 133h0M749 135h0M770 127h0M795 96h0M774 117h0M754 136h0M780 105h0M753 148h0M775 123h0M766 127h0M748 140h0M796 97h0M798 86h0M790 100h0M776 117h0M738 149h0M787 108h0M759 133h0M733 166h0M808 93h0M753 141h0M805 87h0M788 110h0M775 119h0M731 158h0M843 54h0M779 110h0M773 122h0M772 121h0M806 93h0M783 106h0M799 93h0M744 147h0M749 145h0M804 93h0M797 91h0M762 139h0M790 113h0M734 155h0M780 114h0M793 109h0M741 143h0M782 117h0M737 156h0M759 138h0M750 148h0M765 127h0M831 70h0M783 111h0M764 123h0M785 111h0M776 120h0M765 130h0M764 138h0M784 110h0M784 115h0M740 152h0M776 121h0M753 135h0M750 139h0M782 116h0M775 128h0M770 122h0M761 131h0M781 103h0M806 88h0M778 115h0M771 131h0M752 133h0M756 145h0M732 161h0M738 158h0M802 93h0M740 151h0M739 146h0M775 128h0M745 145h0M751 139h0M766 126h0M782 118h0M777 113h0M800 94h0M740 157h0M768 134h0M759 127h0M791 106h0M772 127h0M791 109h0M738 152h0M760 140h0M734 159h0M761 126h0M739 154h0M794 105h0M781 113h0M756 139h0M738 155h0M780 119h0M766 126h0M738 150h0M779 117h0M741 155h0M810 91h0M750 144h0M811 87h0M785 114h0M816 80h0M786 111h0M738 146h0M743 151h0M778 118h0M763 123h0M747 144h0M795 98h0M792 92h0M793 106h0M789 116h0M770 129h0M755 151h0M771 125h0M756 150h0M730 155h0M749 144h0M747 147h0M747 155h0M792 107h0M765 135h0M783 115h0M741 143h0M784 110h0M752 138h0M801 98h0M752 144h0M767 139h0M774 129h0M758 138h0M752 151h0M810 91h0M744 151h0M804 98h0M755 139h0M769 125h0M774 123h0M804 98h0M784 112h0M769 125h0M780 104h0M756 134h0M740 158h0M798 101h0M790 102h0M753 158h0M741 149h0M736 162h0M771 119h0M806 85h0M751 145h0M782 111h0M794 108h0M786 115h0"/>
</g>
<line x1="519.60" y1="380.20" x2="903.60" y2="-3.40" stroke="#c6c6c6" stroke-width="4.2" stroke-dasharray="19 9" stroke-dashoffset="18.2" clip-path="url(#cAR)"/>
<g stroke="#ff0000" stroke-width="5.2" stroke-linecap="round" stroke-opacity="0.16" fill="none" filter="url(#bl2)">
<path d="M632 270h0M575 313h0M592 291h0M624 281h0M634 262h0M604 286h0M605 285h0M611 287h0M593 284h0M580 315h0M591 293h0M609 293h0M607 287h0M590 295h0M615 276h0M641 268h0M601 285h0M622 270h0M607 273h0M637 267h0M594 291h0M614 279h0M621 277h0M580 313h0M634 264h0M604 298h0M632 270h0M596 295h0M612 279h0M638 263h0M631 275h0M632 268h0M642 262h0M629 268h0M589 292h0M633 272h0M594 295h0M608 293h0M633 270h0M593 284h0M618 287h0M598 296h0M590 303h0M604 285h0M631 278h0M592 305h0M616 278h0M599 297h0M634 275h0M584 304h0M581 306h0M611 282h0M592 295h0M622 270h0M585 306h0M648 262h0M646 267h0M598 288h0M642 258h0M634 265h0M637 268h0M598 286h0M574 309h0M631 266h0M588 296h0M627 281h0M580 304h0M588 309h0M614 283h0M617 288h0M596 295h0M629 260h0M626 277h0M589 302h0M587 291h0M636 269h0M570 319h0M595 297h0M632 267h0M586 312h0M586 306h0M596 295h0M631 263h0M627 271h0M622 269h0M626 269h0M641 272h0M638 267h0M633 265h0M609 288h0M622 274h0M598 297h0M606 307h0M626 276h0M620 282h0M575 309h0M595 297h0M607 282h0M582 306h0M628 280h0M598 293h0M585 315h0M614 288h0M586 293h0M587 300h0M624 279h0M611 281h0M594 295h0M609 285h0M605 287h0M606 286h0M631 271h0M621 278h0M608 284h0M594 298h0M579 305h0M637 262h0M611 291h0M612 285h0M602 286h0M578 301h0M641 263h0M607 289h0M588 302h0M587 309h0M578 305h0M608 292h0M587 303h0M612 282h0M622 290h0M582 309h0M620 290h0M590 303h0M615 277h0M582 307h0M605 284h0M587 292h0M625 277h0M616 283h0M610 292h0M587 301h0M591 291h0M620 281h0M616 280h0M587 302h0M624 278h0M631 262h0M614 281h0M590 294h0M621 282h0M621 275h0M603 284h0M626 277h0M604 281h0M592 297h0M584 306h0M581 307h0M610 284h0M611 284h0M622 283h0M603 290h0M584 301h0M585 300h0M630 283h0M627 270h0M621 265h0M596 299h0M581 305h0M638 263h0M637 259h0M588 292h0M595 290h0M628 271h0M635 262h0M595 291h0M620 275h0M634 267h0M576 310h0M613 288h0M576 307h0M580 299h0M610 284h0M593 294h0M650 257h0M583 306h0M652 258h0M637 265h0M626 275h0M616 283h0M594 294h0M581 302h0M603 287h0M575 313h0M600 291h0M631 271h0M575 304h0"/>
<path d="M618 280h0M590 295h0M619 277h0M606 287h0M600 286h0M629 270h0M611 297h0M624 285h0M618 282h0M587 299h0M563 332h0M652 258h0M624 270h0M630 273h0M618 280h0M623 285h0M627 269h0M624 278h0M601 289h0M613 290h0M596 299h0M593 305h0M604 292h0M591 299h0M588 297h0M642 262h0M639 264h0M626 279h0M639 262h0M628 272h0M608 292h0M612 275h0M600 292h0M605 290h0M627 275h0M607 297h0M625 270h0M608 278h0M583 301h0M626 268h0M645 257h0M584 307h0M563 332h0M618 276h0M597 286h0M612 286h0M592 298h0M596 297h0M600 293h0M613 279h0M595 291h0M585 305h0M624 289h0M631 266h0M617 288h0M611 286h0M615 271h0M574 316h0M597 295h0M589 299h0M633 268h0M615 278h0M630 272h0M592 292h0M613 268h0M606 285h0M632 271h0M601 291h0M604 291h0M631 263h0M600 291h0M585 303h0M615 280h0M595 298h0M621 274h0M603 287h0M595 294h0M625 275h0M583 309h0M627 273h0M608 295h0M599 286h0M645 257h0M638 271h0M595 293h0M625 267h0M585 296h0M592 283h0M608 290h0M607 279h0M634 267h0M596 293h0M606 281h0M605 282h0M616 274h0M637 268h0M633 276h0M655 249h0M623 274h0M631 258h0M604 293h0M590 299h0M625 270h0M606 286h0M592 290h0M567 310h0M586 311h0M576 309h0M631 266h0M622 276h0M594 295h0M605 294h0M626 271h0M621 278h0M649 259h0M552 337h0M618 278h0M599 297h0M589 304h0M608 281h0M614 294h0M629 278h0M617 283h0M635 267h0M632 272h0M631 272h0M617 290h0M593 301h0M584 303h0M588 294h0M618 276h0M590 305h0M625 276h0M601 304h0M631 266h0M603 290h0M631 279h0M636 266h0M582 309h0M617 283h0M604 290h0M607 286h0M631 273h0M617 282h0M625 275h0M611 278h0M595 289h0M630 274h0M590 291h0M615 287h0M598 285h0M643 257h0M621 273h0M623 282h0M583 299h0M629 267h0M638 270h0M610 291h0M615 286h0M629 275h0M630 277h0M636 270h0M597 305h0M596 294h0M611 278h0M573 315h0M587 304h0M588 305h0M583 310h0M590 303h0M636 263h0M597 281h0M606 280h0M607 288h0M622 272h0M637 268h0M607 280h0M612 280h0M601 291h0M636 267h0M627 273h0M626 277h0M597 296h0M627 266h0M613 290h0M608 288h0M627 279h0M626 282h0M624 274h0M632 277h0M595 299h0M598 301h0M640 268h0M615 278h0M615 275h0M608 284h0"/>
<path d="M567 320h0M613 289h0M640 262h0M612 283h0M577 308h0M600 284h0M581 306h0M644 264h0M602 292h0M621 281h0M625 274h0M574 312h0M642 265h0M595 288h0M597 285h0M643 258h0M606 283h0M584 305h0M617 285h0M631 265h0M604 301h0M593 314h0M605 286h0M617 280h0M614 285h0M604 285h0M631 271h0M613 288h0M624 278h0M610 284h0M632 268h0M638 261h0M575 308h0M608 290h0M618 285h0M616 274h0M580 305h0M597 285h0M595 301h0M627 267h0M602 293h0M603 287h0M588 314h0M623 267h0M606 279h0M589 296h0M620 285h0M574 312h0M618 283h0M619 281h0M612 279h0M622 281h0M598 286h0M610 292h0M624 279h0M612 290h0M615 281h0M582 302h0M584 305h0M645 266h0M622 276h0M614 280h0M597 300h0M634 267h0M612 288h0M651 260h0M583 306h0M627 268h0M623 280h0M595 299h0M566 317h0M611 277h0M596 296h0M588 305h0M616 277h0M605 274h0M578 301h0M622 281h0M618 272h0M621 281h0M587 296h0M603 288h0M587 306h0M606 295h0M600 288h0M602 298h0M599 300h0M587 303h0M631 275h0M615 278h0M606 290h0M622 268h0M609 288h0M590 292h0M581 306h0M596 300h0M587 297h0M608 278h0M597 289h0M624 270h0M610 275h0M635 268h0M611 288h0M600 286h0M634 258h0M566 313h0M639 262h0M641 264h0M606 289h0M580 312h0M641 264h0M595 287h0M632 258h0M619 288h0M601 291h0M628 265h0M639 266h0M640 265h0M608 291h0M597 298h0M591 289h0M611 285h0M581 307h0M596 287h0M604 292h0M630 272h0M617 272h0M600 291h0M606 286h0M613 282h0M589 297h0M606 290h0M633 282h0M629 279h0M583 300h0M584 301h0M597 291h0M610 278h0M638 268h0M625 267h0M588 309h0M603 283h0M590 306h0M588 292h0M570 330h0M611 277h0M618 272h0M634 265h0M627 266h0M631 278h0M603 301h0M581 311h0M613 282h0M598 291h0M582 304h0M591 304h0M605 299h0M615 291h0M567 320h0M571 299h0M620 278h0M568 306h0M594 294h0M578 328h0M601 299h0M626 272h0M631 270h0M603 290h0M587 299h0M627 267h0M580 304h0M635 278h0M565 315h0M590 307h0M627 274h0M592 297h0M577 300h0M605 292h0M628 267h0M573 312h0M596 298h0M641 263h0M587 305h0M612 287h0M611 288h0M637 253h0M587 300h0M609 290h0M595 295h0M581 297h0M640 266h0M583 301h0M599 282h0M582 300h0M588 305h0M601 295h0"/>
<path d="M613 290h0M581 303h0M619 279h0M625 281h0M614 276h0M595 295h0M634 277h0M635 272h0M582 309h0M606 296h0M617 290h0M619 274h0M584 303h0M593 300h0M593 297h0M612 284h0M609 293h0M625 270h0M641 263h0M615 287h0M584 313h0M610 288h0M610 278h0M648 262h0M594 304h0M645 264h0M633 274h0M622 282h0M627 263h0M586 298h0M567 321h0M643 255h0M627 282h0M625 262h0M590 307h0M624 276h0M578 308h0M567 318h0M581 299h0M627 270h0M590 294h0M611 279h0M611 281h0M592 307h0M593 301h0M607 288h0M585 298h0M610 294h0M604 304h0M596 294h0M557 323h0M614 280h0M593 295h0M618 280h0M585 306h0M582 303h0M637 257h0M596 286h0M624 271h0M606 291h0M598 293h0M629 275h0M623 261h0M612 285h0M643 257h0M611 289h0M607 277h0M628 264h0M608 286h0M601 296h0M583 299h0M579 317h0M598 299h0M584 306h0M615 294h0M616 292h0M623 274h0M615 279h0M623 286h0M615 279h0M609 290h0M634 261h0M626 271h0M592 304h0M650 267h0M621 280h0M617 290h0M613 284h0M626 265h0M581 301h0M600 285h0M628 262h0M583 302h0M631 269h0M601 297h0M610 284h0M608 282h0M628 272h0M592 298h0M618 287h0M592 303h0M604 289h0M609 287h0M636 256h0M611 284h0M602 288h0M613 288h0M574 306h0M648 253h0M595 299h0M608 293h0M601 296h0M621 273h0M628 269h0M625 267h0M591 301h0M589 304h0M608 292h0M589 291h0M624 275h0M583 307h0M590 289h0M598 289h0M625 267h0M577 320h0M599 293h0M576 306h0M607 290h0M617 290h0M578 310h0M620 272h0M588 297h0M574 306h0M604 282h0M595 286h0M567 317h0M630 259h0M581 307h0M590 302h0M621 273h0M597 295h0M634 262h0M607 283h0M581 304h0M634 263h0M614 289h0M631 267h0M595 289h0M593 295h0M626 277h0M610 282h0M603 301h0M593 304h0M633 271h0M589 299h0M610 285h0M595 289h0M626 277h0M625 266h0M640 267h0M649 260h0M637 264h0M640 262h0M621 280h0M645 263h0M591 294h0M589 307h0M601 285h0M604 288h0M598 292h0M614 277h0M622 274h0M627 271h0M639 264h0M623 280h0M637 274h0M647 267h0M584 301h0M623 272h0M575 303h0M592 296h0M603 291h0M636 267h0M600 289h0M615 289h0M616 268h0M611 282h0M602 299h0M624 279h0M582 293h0M588 296h0M623 278h0M590 302h0M656 258h0M621 276h0M586 290h0"/>
<path d="M603 292h0M578 313h0M598 290h0M624 277h0M624 280h0M637 269h0M639 261h0M611 288h0M627 275h0M594 295h0M600 293h0M634 268h0M580 316h0M625 265h0M584 295h0M593 296h0M600 299h0M591 297h0M580 304h0M614 276h0M605 289h0M634 266h0M593 288h0M628 268h0M600 295h0M606 285h0M604 288h0M631 270h0M623 274h0M631 271h0M577 301h0M571 310h0M641 260h0M582 291h0M588 300h0M623 277h0M576 309h0M602 295h0M624 278h0M593 303h0M590 302h0M601 299h0M583 309h0M631 266h0M628 265h0M558 314h0M634 269h0M590 307h0M595 287h0M619 285h0M592 293h0M582 301h0M605 279h0M638 273h0M621 276h0M626 270h0M601 303h0M632 268h0M607 291h0M574 306h0M582 298h0M601 300h0M599 289h0M647 258h0M576 302h0M584 292h0M603 284h0M581 296h0M628 270h0M588 300h0M601 287h0M595 291h0M604 282h0M619 280h0M648 266h0M587 306h0M583 308h0M601 290h0M579 299h0M587 297h0M643 266h0M596 291h0M592 302h0M600 296h0M622 273h0M636 272h0M612 289h0M593 286h0M586 299h0M576 316h0M556 313h0M628 272h0M579 310h0M602 276h0M609 288h0M589 303h0M596 290h0M641 261h0M594 302h0M598 291h0M576 305h0M600 290h0M597 301h0M597 301h0M576 302h0M597 301h0M604 297h0M575 296h0M583 321h0M604 288h0M593 292h0M623 279h0M596 309h0M636 274h0M611 296h0M627 270h0M598 295h0M614 288h0M598 290h0M582 302h0M620 270h0M612 289h0M583 300h0M572 315h0M617 276h0M594 299h0M597 291h0M628 269h0M616 281h0M574 311h0M618 279h0M598 303h0M641 260h0M627 269h0M625 272h0M595 299h0M596 294h0M591 296h0M604 292h0M606 279h0M637 259h0M605 283h0M642 263h0M642 258h0M610 285h0M596 295h0M615 284h0M609 287h0M602 293h0M626 275h0M639 260h0M615 286h0M595 298h0M624 272h0M581 297h0M595 293h0M593 307h0M584 295h0M605 287h0M619 277h0M587 284h0M595 287h0M581 302h0M612 288h0M636 265h0M631 273h0M611 287h0M606 287h0M618 284h0M587 306h0M573 304h0M619 274h0M577 312h0M578 316h0M640 265h0M580 302h0M612 287h0M599 288h0M594 297h0M624 283h0M593 298h0M615 281h0M617 278h0M593 285h0M584 308h0M587 300h0M589 297h0M616 268h0M624 277h0M642 264h0M625 277h0M592 294h0M617 275h0M639 271h0M591 318h0M617 279h0"/>
<path d="M593 296h0M624 286h0M622 280h0M611 288h0M578 307h0M581 301h0M584 310h0M599 294h0M612 291h0M610 280h0M637 271h0M585 303h0M586 303h0M633 272h0M576 304h0M603 294h0M616 288h0M599 291h0M615 279h0M627 276h0M643 265h0M618 286h0M623 279h0M629 268h0M573 310h0M595 297h0M629 265h0M637 279h0M629 280h0M596 315h0M637 266h0M629 266h0M654 255h0M609 289h0M613 282h0M596 312h0M605 293h0M628 269h0M619 284h0M598 293h0M588 297h0M584 296h0M621 278h0M622 274h0M616 277h0M591 296h0M613 285h0M629 273h0M596 298h0M610 275h0M596 304h0M600 287h0M613 281h0M600 298h0M620 267h0M623 275h0M616 273h0M612 286h0M621 276h0M619 270h0M606 284h0M615 283h0M631 270h0M601 286h0M636 268h0M580 309h0M599 286h0M616 287h0M627 276h0M635 275h0M610 282h0M592 304h0M638 261h0M603 296h0M641 271h0M648 261h0M632 274h0M609 281h0M616 273h0M598 290h0M585 308h0M611 282h0M596 292h0M604 291h0M612 283h0M588 295h0M627 269h0M628 270h0M619 285h0M599 288h0M607 295h0M613 282h0M644 263h0M608 282h0M612 284h0M604 301h0M605 292h0M596 297h0M619 279h0M631 277h0M639 266h0M625 279h0M606 283h0M614 275h0M658 266h0M614 280h0M597 304h0M597 300h0M619 280h0M572 310h0M586 299h0M591 299h0M595 295h0M584 300h0M570 331h0M638 272h0M581 305h0M637 264h0M611 292h0M613 281h0M631 269h0M589 293h0M612 289h0M602 290h0M586 306h0M627 278h0M629 273h0M591 300h0M595 296h0M572 307h0M584 285h0M618 273h0M589 293h0M572 329h0M605 293h0M616 273h0M635 258h0M592 287h0M573 316h0M574 310h0M583 291h0M577 304h0M602 293h0M567 304h0M585 312h0M588 311h0M637 271h0M626 269h0M583 304h0M623 283h0M598 303h0M579 322h0M572 310h0M594 288h0M615 278h0M598 294h0M622 277h0M625 279h0M617 274h0M628 269h0M586 304h0M618 282h0M601 287h0M576 316h0M602 290h0M618 277h0M583 303h0M576 310h0M596 314h0M587 294h0M642 259h0M589 295h0M613 277h0M592 293h0M631 276h0M576 302h0M625 279h0M621 269h0M602 292h0M610 288h0M626 279h0M624 281h0M646 260h0M633 269h0M610 277h0M611 284h0M584 299h0M621 276h0M582 301h0M600 293h0M601 288h0M623 269h0M626 268h0M581 301h0M596 288h0M609 280h0"/>
<path d="M580 305h0M604 283h0M584 298h0M623 270h0M576 303h0M621 265h0M635 272h0M631 272h0M637 270h0M573 316h0M654 259h0M622 274h0M638 277h0M612 287h0M576 308h0M623 275h0M624 271h0M592 290h0M637 263h0M616 286h0M610 291h0M593 293h0M610 285h0M630 277h0M600 299h0M628 265h0M589 289h0M610 285h0M621 280h0M570 309h0M593 292h0M623 272h0M593 286h0M571 314h0M614 280h0M607 286h0M582 300h0M615 283h0M601 286h0M633 265h0M608 282h0M633 267h0M593 296h0M590 296h0M587 298h0M577 306h0M622 288h0M597 286h0M589 312h0M588 304h0M614 284h0M582 308h0M617 278h0M580 312h0M602 293h0M645 268h0M586 300h0M610 285h0M616 287h0M632 260h0M622 279h0M626 270h0M615 276h0M623 280h0M586 301h0M594 286h0M606 284h0M646 257h0M643 267h0M588 303h0M593 290h0M599 302h0M603 295h0M590 300h0M575 313h0M586 308h0M576 306h0M635 267h0M611 282h0M583 307h0M598 288h0M595 294h0M615 278h0M594 284h0M607 296h0M591 303h0M607 286h0M573 314h0M629 262h0M568 316h0M587 292h0M610 277h0M600 288h0M636 265h0M602 283h0M585 308h0M609 279h0M619 282h0M589 301h0M588 298h0M615 274h0M598 295h0M574 312h0M633 269h0M608 289h0M613 280h0M610 292h0M607 299h0M639 265h0M600 288h0M602 291h0M590 307h0M605 291h0M586 297h0M599 299h0M620 275h0M642 265h0M633 274h0M566 322h0M604 289h0M613 277h0M584 307h0M633 268h0M575 311h0M613 288h0M635 268h0M600 287h0M604 293h0M574 315h0M624 280h0M588 302h0M590 299h0M595 296h0M587 307h0M591 294h0M598 289h0M597 297h0M614 290h0M579 310h0M631 272h0M634 267h0M622 273h0M605 280h0M632 271h0M619 273h0M648 257h0M592 296h0M631 266h0M627 273h0M602 296h0M594 287h0M621 277h0M644 266h0M634 269h0M603 293h0M601 289h0M613 280h0M636 263h0M630 283h0M626 271h0M626 281h0M596 293h0M635 276h0M642 262h0M619 281h0M584 304h0M617 275h0M590 304h0M631 270h0M615 283h0M595 291h0M579 304h0M633 262h0M583 305h0M620 273h0M620 273h0M630 275h0M580 304h0M614 289h0M604 286h0M624 267h0M618 283h0M572 306h0M582 302h0M583 301h0M612 288h0M617 288h0M605 290h0M587 304h0M587 292h0M611 279h0M644 262h0M621 274h0M607 289h0M638 265h0M625 271h0"/>
<path d="M576 308h0M642 263h0M611 283h0M617 275h0M614 281h0M592 302h0M596 297h0M617 280h0M609 294h0M607 292h0M616 277h0M633 280h0M609 290h0M590 301h0M625 286h0M581 318h0M639 269h0M630 268h0M598 304h0M644 264h0M624 272h0M630 265h0M617 280h0M594 299h0M578 311h0M631 267h0M592 296h0M608 286h0M599 301h0M607 292h0M606 290h0M618 278h0M614 271h0M591 298h0M619 278h0M606 287h0M590 299h0M603 288h0M608 289h0M583 306h0M611 294h0M606 292h0M574 307h0M649 262h0M596 295h0M605 285h0M591 290h0M605 295h0M593 294h0M576 310h0M604 292h0M609 278h0M592 299h0M580 302h0M630 268h0M593 310h0M613 279h0M630 265h0M612 289h0M636 272h0M586 299h0M628 270h0M581 318h0M579 314h0M610 292h0M589 304h0M627 270h0M575 320h0M625 281h0M618 287h0M616 280h0M613 281h0M636 266h0M619 276h0M629 280h0M615 278h0M594 304h0M618 267h0M618 279h0M623 270h0M591 295h0M614 288h0M589 298h0M625 280h0M599 295h0M593 296h0M622 288h0M635 267h0M576 304h0M600 294h0M615 274h0M629 279h0M586 293h0M615 286h0M626 278h0M579 310h0M613 288h0M598 288h0M631 265h0M627 267h0M579 304h0M603 290h0M638 264h0M595 292h0M586 324h0M588 302h0M628 273h0M624 275h0M591 300h0M607 284h0M601 290h0M626 268h0M604 289h0M634 268h0M586 302h0M616 282h0M591 299h0M570 316h0M599 288h0M631 269h0M589 296h0M633 265h0M590 303h0M622 275h0M591 309h0M586 313h0M606 286h0M603 278h0M626 269h0M595 292h0M584 305h0M604 294h0M635 266h0M624 283h0M618 280h0M629 280h0M619 276h0M629 279h0M607 280h0M610 279h0M627 278h0M589 293h0M619 273h0M624 280h0M616 279h0M616 281h0M638 265h0M645 265h0M615 281h0M588 309h0M630 271h0M612 293h0M590 295h0M631 271h0M603 295h0M645 262h0M642 263h0M576 295h0M576 319h0M627 271h0M614 278h0M634 267h0M584 307h0M598 299h0M600 300h0M600 294h0M632 264h0M617 278h0M598 288h0M584 308h0M610 284h0M569 320h0M618 279h0M614 295h0M585 305h0M596 296h0M613 284h0M602 307h0M594 302h0M593 299h0M626 269h0M621 278h0M604 301h0M603 297h0M626 270h0M583 305h0M603 306h0M596 286h0M629 269h0M614 285h0M617 281h0M599 299h0M582 308h0M609 283h0M620 272h0M623 274h0"/>
<path d="M615 270h0M651 262h0M603 285h0M613 283h0M606 288h0M615 281h0M607 285h0M622 279h0M611 282h0M589 295h0M580 313h0M632 270h0M634 271h0M580 309h0M628 282h0M612 273h0M603 294h0M617 282h0M591 301h0M629 262h0M602 285h0M584 303h0M608 284h0M595 303h0M628 271h0M630 273h0M615 280h0M623 273h0M601 289h0M588 308h0M620 281h0M573 314h0M622 269h0M580 316h0M619 270h0M632 272h0M591 297h0M590 300h0M593 311h0M623 281h0M626 266h0M598 287h0M607 288h0M640 273h0M625 274h0M624 261h0M614 286h0M624 276h0M625 270h0M575 307h0M630 280h0M569 305h0M621 276h0M619 288h0M598 288h0M620 279h0M610 277h0M616 272h0M635 268h0M613 291h0M630 273h0M612 288h0M640 269h0M633 268h0M611 280h0M609 277h0M627 276h0M602 281h0M621 269h0M635 270h0M636 255h0M606 279h0M645 260h0M597 304h0M570 301h0M615 278h0M576 315h0M584 301h0M626 285h0M590 298h0M591 288h0M611 284h0M588 298h0M629 278h0M608 286h0M612 286h0M635 266h0M618 283h0M603 290h0M580 305h0M595 296h0M571 309h0M609 282h0M623 281h0M609 288h0M613 279h0M588 303h0M608 285h0M610 292h0M605 289h0M644 265h0M612 278h0M610 273h0M582 311h0M617 269h0M610 279h0M603 284h0M623 286h0M580 310h0M596 296h0M597 298h0M591 301h0M639 277h0M615 291h0M600 292h0M623 272h0M622 278h0M621 277h0M634 266h0M582 305h0M585 308h0M632 273h0M619 277h0M563 320h0M634 266h0M582 321h0M608 280h0M578 318h0M609 286h0M596 300h0M620 282h0M635 261h0M590 299h0M638 274h0M624 277h0M637 266h0M603 298h0M581 305h0M595 298h0M590 291h0M632 262h0M592 305h0M603 296h0M617 274h0M627 269h0M582 304h0M590 301h0M592 295h0M634 270h0M631 270h0M591 305h0M622 267h0M578 305h0M609 286h0M637 265h0M588 299h0M608 294h0M597 284h0M593 307h0M577 306h0M598 297h0M649 257h0M612 278h0M616 279h0M592 297h0M597 298h0M624 274h0M574 310h0M604 280h0M610 295h0M622 282h0M627 274h0M631 269h0M621 287h0M592 291h0M627 270h0M630 272h0M578 306h0M599 297h0M626 272h0M606 285h0M605 290h0M612 282h0M609 295h0M598 302h0M638 265h0M627 273h0M640 266h0M590 303h0M628 270h0M624 279h0M599 291h0M609 283h0M637 269h0M625 268h0M582 307h0"/>
<path d="M624 275h0M593 296h0M589 301h0M609 282h0M635 275h0M587 311h0M649 272h0M576 313h0M611 272h0M588 299h0M617 275h0M625 282h0M637 274h0M620 290h0M623 273h0M592 304h0M584 302h0M621 281h0M605 286h0M608 277h0M581 298h0M591 299h0M621 278h0M619 272h0M608 292h0M620 276h0M622 282h0M597 288h0M608 288h0M598 297h0M623 273h0M645 260h0M614 282h0M622 275h0M592 292h0M615 278h0M579 308h0M629 271h0M585 297h0M611 285h0M602 289h0M626 276h0M614 288h0M614 291h0M616 280h0M586 306h0M640 264h0M588 308h0M588 301h0M611 289h0M617 285h0M614 283h0M615 285h0M618 288h0M603 285h0M586 300h0M600 288h0M609 279h0M598 296h0M588 302h0M635 271h0M625 278h0M646 259h0M641 275h0M596 314h0M607 285h0M592 298h0M604 291h0M635 271h0M607 290h0M633 265h0M639 264h0M602 289h0M592 294h0M602 294h0M609 285h0M630 277h0M608 279h0M582 307h0M587 304h0M592 297h0M583 305h0M605 287h0M582 311h0M594 293h0M627 278h0M609 284h0M604 278h0M618 279h0M599 287h0M621 277h0M591 298h0M620 281h0M625 271h0M585 308h0M615 271h0M624 276h0M586 287h0M600 286h0M609 285h0M611 290h0M622 268h0M602 287h0M602 287h0M588 303h0M631 264h0M617 282h0M582 299h0M636 272h0M629 267h0M598 301h0M576 305h0M630 273h0M620 281h0M594 295h0M585 307h0M616 277h0M591 298h0M641 261h0M611 285h0M618 263h0M601 291h0M605 289h0M592 296h0M625 276h0M577 309h0M611 275h0M596 296h0M639 268h0M637 262h0M636 265h0M643 264h0M622 275h0M591 293h0M579 306h0M590 287h0M589 301h0M609 290h0M598 287h0M610 283h0M623 279h0M657 259h0M591 299h0M622 279h0M608 293h0M629 272h0M647 268h0M589 311h0M591 311h0M627 276h0M610 287h0M633 266h0M588 309h0M594 286h0M585 297h0M583 309h0M627 272h0M624 282h0M629 279h0M596 288h0M619 280h0M622 267h0M630 274h0M636 274h0M616 278h0M587 296h0M590 296h0M589 288h0M587 303h0M592 286h0M579 303h0M588 302h0M636 275h0M602 287h0M630 272h0M627 280h0M604 298h0M591 295h0M630 273h0M610 276h0M630 264h0M581 299h0M608 285h0M628 271h0M652 258h0M623 274h0M602 298h0M612 283h0M553 337h0M597 291h0M591 300h0M582 297h0M614 274h0M611 285h0M600 298h0M614 279h0"/>
<path d="M597 295h0M589 309h0M620 287h0M617 271h0M644 261h0M589 291h0M598 299h0M613 287h0M598 293h0M611 285h0M578 300h0M580 303h0M579 320h0M595 297h0M630 274h0M626 275h0M595 295h0M585 306h0M606 291h0M581 307h0M631 273h0M612 284h0M579 305h0M637 260h0M601 291h0M613 275h0M591 297h0M616 273h0M592 297h0M616 284h0M621 278h0M592 296h0M614 273h0M611 289h0M605 288h0M614 275h0M610 289h0M590 298h0M637 270h0M585 301h0M626 284h0M593 294h0M586 300h0M639 276h0M603 285h0M570 311h0M575 314h0M612 288h0M598 298h0M632 265h0M585 308h0M598 282h0M584 305h0M590 290h0M584 305h0M606 280h0M618 274h0M583 291h0M599 308h0M573 314h0M618 281h0M608 289h0M631 260h0M605 292h0M619 283h0M626 275h0M630 282h0M634 273h0M616 280h0M627 265h0M606 280h0M606 287h0M609 287h0M598 297h0M615 278h0M644 263h0M623 282h0M599 296h0M634 274h0M605 285h0M602 289h0M610 294h0M625 280h0M558 321h0M627 276h0M579 307h0M583 310h0M620 282h0M599 293h0M588 307h0M602 288h0M623 272h0M597 288h0M593 295h0M616 269h0M614 277h0M591 300h0M603 288h0M638 272h0M637 270h0M618 287h0M625 276h0M635 267h0M606 273h0M651 262h0M622 279h0M640 262h0M591 302h0M598 297h0M567 317h0M586 300h0M626 272h0M634 271h0M623 281h0M619 271h0M589 304h0M611 292h0M623 269h0M583 299h0M640 259h0M596 299h0M553 321h0M595 302h0M624 273h0M636 276h0M623 284h0M604 288h0M614 276h0M578 307h0M630 279h0M615 279h0M618 281h0M617 280h0M620 275h0M610 288h0M600 293h0M579 306h0M611 286h0M618 277h0M610 287h0M574 310h0M587 298h0M617 283h0M642 276h0M621 275h0M609 289h0M626 277h0M613 291h0M658 246h0M607 293h0M612 286h0M636 261h0M619 276h0M579 303h0M606 287h0M592 303h0M621 280h0M594 296h0M636 260h0M617 278h0M574 313h0M630 268h0M634 273h0M602 285h0M583 309h0M630 276h0M600 288h0M627 274h0M605 285h0M600 292h0M584 305h0M583 309h0M594 294h0M624 289h0M581 301h0M584 306h0M573 309h0M626 272h0M607 282h0M610 279h0M594 301h0M616 282h0M630 278h0M596 292h0M591 297h0M606 278h0M592 297h0M600 288h0M582 300h0M623 274h0M593 306h0M609 284h0M602 285h0M611 282h0M574 306h0"/>
<path d="M578 304h0M612 276h0M594 288h0M589 301h0M584 307h0M582 307h0M591 292h0M603 291h0M613 282h0M618 283h0M606 283h0M577 298h0M570 308h0M627 267h0M582 308h0M604 292h0M601 292h0M590 297h0M573 315h0M623 274h0M598 296h0M621 279h0M636 260h0M610 283h0M601 290h0M621 272h0M604 281h0M634 269h0M617 282h0M631 273h0M629 264h0M622 280h0M592 300h0M568 313h0M597 291h0M591 306h0M586 307h0M606 283h0M588 295h0M602 284h0M619 276h0M600 282h0M603 296h0M611 284h0M601 295h0M574 304h0M606 291h0M588 301h0M586 302h0M602 287h0M634 278h0M600 293h0M604 286h0M614 284h0M593 290h0M627 277h0M579 300h0M628 273h0M601 295h0M588 301h0M601 292h0M639 273h0M626 272h0M609 290h0M595 297h0M599 290h0M608 282h0M588 308h0M609 276h0M582 314h0M626 261h0M606 284h0M613 277h0M621 279h0M615 289h0M651 259h0M610 292h0M611 288h0M606 289h0M607 279h0M614 276h0M613 283h0M597 300h0M617 274h0M639 272h0M633 271h0M644 261h0M580 300h0M624 273h0M594 294h0M574 307h0M566 320h0M596 292h0M601 284h0M634 269h0M601 295h0M636 267h0M601 292h0M633 263h0M629 268h0M640 267h0M611 282h0M611 291h0M609 280h0M591 297h0M627 264h0M593 285h0M635 265h0M629 276h0M578 303h0M603 289h0M581 303h0M621 272h0M581 301h0M603 290h0M590 294h0M633 259h0M592 298h0M594 303h0M624 281h0M581 307h0M630 266h0M604 290h0M639 263h0M632 268h0M596 300h0M613 281h0M585 294h0M619 274h0M612 281h0M607 291h0M580 301h0M574 305h0M583 295h0M599 293h0M626 281h0M588 290h0M625 270h0M598 312h0M588 297h0M635 266h0M631 265h0M589 313h0M585 309h0M604 293h0M642 261h0M623 278h0M641 263h0M641 257h0M622 286h0M650 255h0M578 300h0M602 294h0M585 299h0M598 300h0M602 299h0M587 302h0M603 297h0M606 292h0M635 275h0M610 286h0M629 285h0M583 307h0M585 311h0M647 257h0M593 296h0M606 287h0M603 293h0M635 266h0M609 295h0M590 294h0M597 290h0M634 270h0M641 269h0M619 271h0M606 282h0M629 284h0M594 312h0M605 291h0M596 293h0M628 264h0M647 266h0M572 308h0M585 300h0M589 311h0M592 307h0M586 305h0M599 300h0M613 294h0M581 294h0M598 290h0M614 284h0M598 290h0M611 283h0M585 291h0"/>
<path d="M608 297h0M595 304h0M581 300h0M639 260h0M603 301h0M627 268h0M629 269h0M562 320h0M588 295h0M619 277h0M602 282h0M612 277h0M629 282h0M621 278h0M631 264h0M617 280h0M596 301h0M605 279h0M570 312h0M601 298h0M640 269h0M563 323h0M620 280h0M622 275h0M619 283h0M578 305h0M635 270h0M629 273h0M601 285h0M587 299h0M586 300h0M627 278h0M629 272h0M635 265h0M570 300h0M615 275h0M568 329h0M630 277h0M611 283h0M616 285h0M642 263h0M589 298h0M619 284h0M604 292h0M588 305h0M612 278h0M611 279h0M631 264h0M621 274h0M596 296h0M649 261h0M566 310h0M608 279h0M587 295h0M606 289h0M587 293h0M630 281h0M614 270h0M596 291h0M623 269h0M594 299h0M625 267h0M614 291h0M599 297h0M619 283h0M587 299h0M629 276h0M639 266h0M608 295h0M613 280h0M618 276h0M604 288h0M604 286h0M599 286h0M598 293h0M627 272h0M629 267h0M595 300h0M630 262h0M572 306h0M639 265h0M618 285h0M608 290h0M613 287h0M625 275h0M582 306h0M635 260h0M614 288h0M640 264h0M615 280h0M590 297h0M636 265h0M631 273h0M609 286h0M595 292h0M581 306h0M589 294h0M602 297h0M613 285h0M610 291h0M645 265h0M635 264h0M638 268h0M596 289h0M639 258h0M588 293h0M586 299h0M606 278h0M629 273h0M592 298h0M602 290h0M611 284h0M576 306h0M591 298h0M629 274h0M627 270h0M629 270h0M595 287h0M589 300h0M623 283h0M619 279h0M583 293h0M596 289h0M573 305h0M571 327h0M580 325h0M589 291h0M598 298h0M637 266h0M607 289h0M585 300h0M620 284h0M590 304h0M596 296h0M584 296h0M597 294h0M636 271h0M624 270h0M613 287h0M614 281h0M591 304h0M601 298h0M604 286h0M601 301h0M598 295h0M601 292h0M632 269h0M581 309h0M592 295h0M602 293h0M620 273h0M602 304h0M622 283h0M641 271h0M621 277h0M592 295h0M582 319h0M626 277h0M597 300h0M632 262h0M583 308h0M583 302h0M627 271h0M612 292h0M599 292h0M601 285h0M609 289h0M621 277h0M642 263h0M629 259h0M588 298h0M613 280h0M575 311h0M609 284h0M581 303h0M626 276h0M632 263h0M627 276h0M620 268h0M611 284h0M624 288h0M596 292h0M627 272h0M638 266h0M580 300h0M592 295h0M613 276h0M601 282h0M627 267h0M628 279h0M588 289h0M614 288h0M604 286h0M583 307h0M600 288h0"/>
<path d="M606 283h0M621 277h0M589 307h0M569 326h0M606 281h0M587 299h0M604 282h0M620 272h0M640 273h0M616 280h0M637 268h0M641 261h0M625 275h0M603 292h0M605 283h0M600 302h0M620 280h0M617 274h0M630 261h0M586 300h0M584 298h0M626 269h0M578 313h0M617 277h0M593 298h0M591 300h0M633 259h0M638 267h0M591 309h0M597 289h0M611 282h0M585 306h0M585 300h0M573 308h0M600 287h0M606 287h0M634 269h0M590 306h0M604 286h0M584 313h0M607 290h0M609 281h0M622 282h0M579 307h0M588 300h0M590 294h0M542 346h0M618 281h0M572 309h0M651 260h0M584 297h0M583 296h0M596 297h0M611 274h0M589 303h0M598 296h0M609 294h0M613 292h0M621 268h0M607 281h0M627 271h0M601 286h0M631 258h0M591 302h0M575 312h0M627 270h0M574 306h0M582 305h0M604 281h0M628 273h0M638 269h0M602 283h0M638 265h0M606 285h0M587 296h0M582 308h0M641 258h0M597 287h0M635 266h0M600 284h0M588 300h0M581 300h0M579 299h0M587 301h0M579 300h0M613 286h0M589 301h0M614 273h0M630 272h0M588 298h0M616 289h0M616 284h0M594 298h0M644 268h0M623 273h0M607 287h0M648 251h0M617 286h0M577 307h0M598 293h0M602 288h0M591 297h0M619 274h0M624 276h0M630 271h0M592 300h0M633 270h0M636 263h0M591 305h0M615 292h0M606 284h0M607 279h0M647 252h0M637 270h0M612 283h0M615 279h0M627 272h0M590 301h0M625 273h0M629 283h0M604 287h0M637 271h0M568 312h0M619 265h0M623 271h0M593 297h0M637 266h0M576 308h0M608 285h0M600 296h0M621 276h0M627 263h0M626 276h0M613 281h0M625 279h0M608 276h0M624 271h0M603 291h0M610 288h0M623 276h0M610 287h0M590 301h0M603 289h0M614 288h0M597 292h0M595 295h0M589 284h0M576 308h0M583 302h0M598 297h0M619 276h0M620 277h0M583 299h0M624 271h0M619 268h0M590 296h0M599 287h0M608 288h0M612 284h0M620 279h0M577 297h0M613 287h0M618 273h0M639 262h0M592 306h0M631 267h0M622 283h0M631 272h0M593 294h0M611 283h0M577 319h0M607 292h0M615 279h0M593 294h0M594 287h0M591 294h0M618 272h0M637 266h0M639 272h0M600 292h0M619 280h0M583 298h0M602 293h0M631 267h0M586 292h0M600 291h0M599 289h0M641 258h0M637 267h0M600 295h0M619 278h0M636 267h0M627 271h0M640 266h0M600 298h0"/>
<path d="M598 298h0M619 291h0M644 265h0M608 280h0M627 277h0M632 272h0M605 285h0M598 292h0M642 265h0M634 274h0M598 291h0M591 297h0M594 306h0M564 308h0M593 299h0M603 296h0M606 291h0M587 305h0M592 293h0M614 280h0M614 292h0M607 281h0M615 288h0M629 267h0M608 282h0M608 292h0M631 265h0M592 292h0M582 303h0M573 312h0M634 283h0M595 304h0M583 300h0M604 281h0M597 299h0M600 291h0M589 309h0M598 290h0M608 289h0M587 301h0M625 261h0M583 299h0M632 277h0M635 276h0M648 264h0M612 286h0M644 254h0M580 308h0M605 289h0M599 283h0M587 302h0M586 299h0M612 294h0M592 295h0M600 298h0M612 286h0M617 279h0M576 307h0M604 296h0M632 271h0M628 275h0M622 271h0M592 298h0M641 271h0M587 300h0M579 294h0M587 310h0M592 301h0M617 289h0M604 284h0M624 276h0M602 298h0M621 271h0M603 286h0M583 304h0M584 301h0M614 278h0M642 262h0M597 300h0M588 291h0M594 289h0M607 289h0M618 266h0M628 274h0M604 289h0M640 257h0M576 308h0M612 289h0M620 283h0M634 255h0M596 295h0M611 280h0M650 260h0M613 280h0M629 277h0M607 293h0M629 269h0M636 269h0M590 305h0M633 275h0M587 313h0M632 268h0M599 295h0M623 281h0M619 287h0M596 298h0M585 297h0M621 276h0M589 305h0M595 292h0M638 258h0M582 300h0M612 286h0M635 264h0M598 294h0M643 266h0M640 266h0M620 270h0M632 265h0M618 281h0M633 262h0M587 296h0M605 288h0M604 286h0M588 291h0M633 265h0M579 304h0M600 289h0M635 274h0M587 305h0M637 274h0M635 275h0M615 277h0M612 285h0M600 287h0M616 278h0M618 280h0M622 283h0M596 291h0M616 282h0M604 296h0M642 265h0M626 270h0M598 289h0M649 259h0M609 301h0M597 292h0M613 285h0M605 283h0M611 276h0M614 286h0M593 296h0M604 291h0M573 296h0M634 268h0M628 272h0M645 255h0M615 275h0M604 289h0M602 289h0M608 286h0M626 267h0M624 273h0M606 295h0M598 286h0M579 305h0M628 265h0M614 285h0M608 291h0M579 310h0M617 281h0M631 271h0M622 274h0M583 303h0M618 276h0M605 285h0M577 305h0M634 279h0M613 278h0M606 291h0M598 292h0M631 268h0M629 269h0M610 295h0M615 284h0M604 296h0M596 292h0M620 281h0M618 277h0M616 285h0M636 272h0M636 267h0M588 285h0M590 314h0M587 300h0"/>
<path d="M577 309h0M599 290h0M628 270h0M624 267h0M602 290h0M622 273h0M583 305h0M629 262h0M609 287h0M597 291h0M601 296h0M590 302h0M616 285h0M632 268h0M641 261h0M634 263h0M624 278h0M579 309h0M589 299h0M613 287h0M571 300h0M626 267h0M576 316h0M639 267h0M616 287h0M639 254h0M611 275h0M624 273h0M601 297h0M615 278h0M617 271h0M611 289h0M628 269h0M619 275h0M591 296h0M591 306h0M591 300h0M590 310h0M589 308h0M568 310h0M602 289h0M608 294h0M596 304h0M629 276h0M627 265h0M621 276h0M613 288h0M643 265h0M623 278h0M632 264h0M608 299h0M579 300h0M586 295h0M631 262h0M626 267h0M627 269h0M611 281h0M600 298h0M581 314h0M584 302h0M618 270h0M609 283h0M635 272h0M604 292h0M625 276h0M577 306h0M578 303h0M583 303h0M638 275h0M621 280h0M643 261h0M576 313h0M623 273h0M626 269h0M632 276h0M610 290h0M639 265h0M626 270h0M572 305h0M635 271h0M595 294h0M617 281h0M585 297h0M610 281h0M603 291h0M633 263h0M583 310h0M618 275h0M639 268h0M605 286h0M636 265h0M617 281h0M578 309h0M606 283h0M602 284h0M628 275h0M623 278h0M594 316h0M602 294h0M611 284h0M618 280h0M605 280h0M593 307h0M615 291h0M632 271h0M607 282h0M624 272h0M623 268h0M596 296h0M613 290h0M592 292h0M631 272h0M613 284h0M574 307h0M612 285h0M619 274h0M628 274h0M585 300h0M619 286h0M607 282h0M637 269h0M590 303h0M605 289h0M590 301h0M616 276h0M577 307h0M589 301h0M584 302h0M616 283h0M623 272h0M606 290h0M618 284h0M606 289h0M615 267h0M602 294h0M604 277h0M594 299h0M608 288h0M589 308h0M645 275h0M580 307h0M582 310h0M622 271h0M635 260h0M617 276h0M588 302h0M588 285h0M623 274h0M616 285h0M613 289h0M594 299h0M626 277h0M593 302h0M621 281h0M611 285h0M614 285h0M639 265h0M623 271h0M636 268h0M598 298h0M614 288h0M619 281h0M622 273h0M638 263h0M593 301h0M621 276h0M646 264h0M612 276h0M638 268h0M616 282h0M583 305h0M628 274h0M594 299h0M592 282h0M591 297h0M604 294h0M609 283h0M585 299h0M601 288h0M567 312h0M608 280h0M610 282h0M629 273h0M609 294h0M632 272h0M611 283h0M602 288h0M627 271h0M632 259h0M596 293h0M616 280h0M613 280h0M609 281h0M634 274h0M599 297h0"/>
<path d="M620 275h0M581 310h0M593 297h0M618 269h0M628 267h0M617 274h0M616 278h0M617 287h0M633 262h0M585 299h0M652 256h0M594 292h0M574 314h0M588 307h0M640 263h0M615 278h0M622 272h0M623 275h0M625 273h0M590 295h0M583 298h0M629 267h0M593 299h0M632 270h0M603 295h0M602 294h0M623 273h0M572 311h0M609 293h0M633 261h0M600 291h0M593 293h0M604 292h0M578 308h0M626 273h0M619 296h0M580 313h0M577 302h0M615 280h0M637 266h0M615 277h0M588 303h0M622 279h0M616 280h0M603 289h0M575 295h0M612 281h0M643 262h0M615 274h0M604 293h0M629 272h0M605 284h0M601 291h0M631 266h0M598 296h0M617 262h0M621 278h0M643 267h0M590 300h0M573 305h0M587 300h0M644 256h0M625 278h0M643 265h0M589 301h0M587 303h0M615 285h0M607 284h0M585 296h0M635 273h0M586 300h0M620 277h0M637 268h0M602 285h0M603 284h0M626 282h0M610 273h0M603 291h0M599 297h0M594 301h0M630 280h0M608 286h0M610 282h0M601 299h0M637 265h0M626 273h0M630 282h0M637 264h0M617 282h0M629 274h0M588 298h0M599 292h0M619 278h0M575 322h0M583 312h0M596 295h0M600 291h0M618 267h0M589 313h0M602 283h0M619 273h0M594 300h0M595 286h0M582 316h0M638 270h0M626 271h0M587 307h0M613 285h0M580 311h0M626 275h0M618 278h0M623 284h0M616 275h0M625 274h0M616 279h0M576 307h0M589 312h0M630 263h0M619 277h0M616 281h0M631 260h0M606 288h0M630 272h0M592 308h0M626 273h0M604 291h0M596 291h0M633 273h0M633 266h0M621 285h0M607 302h0M603 294h0M591 314h0M584 305h0M630 283h0M568 315h0M628 265h0M579 301h0M591 298h0M602 291h0M599 290h0M634 261h0M572 311h0M595 302h0M627 274h0M613 286h0M619 273h0M597 304h0M605 296h0M589 299h0M609 290h0M594 299h0M609 294h0M629 274h0M636 264h0M603 291h0M617 278h0M627 271h0M592 296h0M621 274h0M617 274h0M614 280h0M584 303h0M578 300h0M621 278h0M619 281h0M586 300h0M594 297h0M643 266h0M639 257h0M634 267h0M639 264h0M588 296h0M609 290h0M574 321h0M604 283h0M620 279h0M610 288h0M595 307h0M624 277h0M633 276h0M638 277h0M623 266h0M630 268h0M605 293h0M594 297h0M600 285h0M597 300h0M608 294h0M611 280h0M622 278h0M630 274h0M597 295h0M590 300h0M636 266h0"/>
<path d="M584 304h0M622 275h0M578 302h0M588 289h0M628 272h0M619 271h0M603 285h0M583 305h0M614 287h0M631 267h0M593 293h0M618 278h0M584 302h0M589 294h0M630 267h0M626 275h0M651 257h0M589 311h0M602 288h0M586 309h0M599 290h0M638 267h0M596 296h0M592 293h0M605 279h0M616 278h0M595 296h0M638 273h0M603 288h0M622 269h0M604 294h0M618 275h0M628 278h0M586 302h0M603 285h0M573 309h0M616 283h0M640 263h0M630 280h0M586 301h0M589 292h0M605 279h0M618 280h0M614 271h0M620 272h0M625 278h0M601 286h0M584 302h0M614 276h0M625 272h0M585 305h0M605 285h0M636 281h0M588 306h0M567 308h0M620 271h0M581 298h0M629 275h0M609 286h0M624 275h0M628 266h0M619 264h0M646 256h0M624 280h0M640 253h0M600 299h0M601 286h0M576 309h0M602 293h0M600 288h0M610 292h0M596 299h0M641 263h0M600 293h0M596 284h0M620 270h0M648 273h0M615 288h0M595 295h0M635 274h0M573 305h0M609 284h0M629 264h0M604 289h0M615 276h0M640 258h0M601 299h0M582 308h0M627 273h0M611 288h0M610 288h0M604 282h0M625 283h0M654 256h0M628 266h0M614 282h0M589 305h0M629 275h0M596 305h0M602 300h0M597 295h0M638 267h0M613 281h0M598 293h0M592 295h0M605 298h0M620 277h0M618 277h0M591 299h0M571 312h0M626 275h0M588 301h0M623 278h0M621 283h0M632 274h0M619 294h0M605 289h0M639 266h0M626 269h0M639 268h0M616 275h0M606 296h0M629 261h0M589 297h0M591 300h0M585 306h0M624 272h0M614 282h0M626 273h0M588 300h0M622 287h0M575 304h0M618 273h0M630 264h0M603 294h0M634 264h0M598 292h0M640 264h0M607 292h0M626 275h0M572 304h0M570 300h0M628 270h0M594 291h0M632 277h0M617 287h0M591 301h0M626 273h0M628 273h0M583 304h0M602 313h0M623 263h0M619 281h0M586 300h0M614 279h0M626 281h0M580 306h0M611 286h0M622 284h0M640 265h0M598 295h0M642 270h0M582 301h0M632 263h0M611 293h0M609 283h0M593 293h0M647 253h0M566 320h0M578 308h0M604 294h0M595 300h0M610 278h0M621 283h0M590 296h0M593 297h0M603 297h0M633 267h0M603 287h0M618 279h0M609 282h0M597 297h0M586 301h0M638 270h0M619 277h0M608 291h0M608 282h0M615 285h0M638 270h0M620 280h0M590 298h0M622 283h0M608 288h0M627 269h0M596 285h0"/>
<path d="M627 276h0M596 287h0M616 283h0M608 294h0M611 285h0M586 291h0M628 262h0M597 299h0M638 260h0M594 297h0M618 276h0M624 266h0M601 295h0M592 294h0M635 270h0M605 287h0M632 271h0M594 297h0M602 289h0M638 266h0M578 309h0M586 303h0M615 273h0M590 292h0M634 270h0M636 266h0M618 278h0M619 285h0M603 290h0M591 301h0M607 297h0M577 313h0M568 310h0M583 302h0M636 272h0M589 288h0M594 304h0M591 300h0M627 274h0M608 285h0M603 290h0M600 297h0M614 272h0M621 273h0M617 283h0M596 299h0M611 283h0M579 317h0M632 268h0M625 274h0M613 292h0M620 283h0M619 283h0M584 306h0M623 277h0M610 279h0M573 314h0M594 302h0M619 273h0M614 286h0M610 287h0M608 288h0M632 269h0M600 288h0M602 297h0M627 281h0M626 266h0M637 267h0M633 283h0M647 260h0M583 305h0M593 292h0M607 291h0M602 284h0M587 300h0M576 307h0M585 314h0M588 299h0M594 306h0M589 294h0M625 274h0M619 275h0M601 300h0M602 288h0M640 285h0M580 305h0M635 268h0M625 273h0M625 274h0M593 293h0M615 289h0M598 299h0M635 273h0M616 273h0M641 271h0M620 277h0M596 295h0M617 287h0M606 286h0M614 281h0M606 285h0M633 266h0M593 300h0M611 278h0M604 288h0M642 258h0M618 280h0M604 306h0M582 311h0M606 284h0M619 272h0M616 274h0M589 298h0M616 275h0M607 285h0M597 292h0M598 296h0M626 278h0M584 306h0M571 322h0M620 279h0M580 312h0M635 273h0M602 290h0M626 273h0M608 283h0M581 292h0M595 291h0M610 281h0M593 305h0M580 304h0M611 281h0M630 269h0M629 279h0M627 276h0M630 273h0M588 301h0M582 304h0M594 297h0M627 273h0M580 311h0M600 281h0M624 270h0M625 267h0M602 306h0M575 318h0M606 289h0M609 288h0M619 274h0M581 311h0M582 312h0M614 283h0M602 290h0M620 279h0M630 277h0M620 277h0M595 303h0M598 302h0M632 258h0M595 286h0M632 265h0M608 281h0M595 287h0M578 301h0M588 297h0M586 306h0M616 280h0M597 299h0M586 313h0M584 299h0M595 302h0M573 309h0M566 315h0M599 289h0M603 299h0M575 315h0M635 273h0M594 303h0M587 303h0M622 276h0M600 296h0M601 275h0M605 278h0M613 280h0M580 305h0M608 278h0M621 272h0M629 269h0M618 279h0M612 280h0M631 267h0M580 298h0M625 285h0M623 274h0M588 311h0"/>
<path d="M594 300h0M626 275h0M598 294h0M581 296h0M568 322h0M603 301h0M615 279h0M599 294h0M599 299h0M616 277h0M597 294h0M595 298h0M577 306h0M576 307h0M612 284h0M632 282h0M601 293h0M595 300h0M601 294h0M636 268h0M620 271h0M610 285h0M583 310h0M640 261h0M617 276h0M629 273h0M620 273h0M625 280h0M612 286h0M586 295h0M631 280h0M586 294h0M575 306h0M587 303h0M615 284h0M587 300h0M617 272h0M640 264h0M634 263h0M605 288h0M601 286h0M602 299h0M589 297h0M564 313h0M618 274h0M606 286h0M617 277h0M584 302h0M616 281h0M634 269h0M629 264h0M593 285h0M597 292h0M605 287h0M636 266h0M579 314h0M612 290h0M609 289h0M607 292h0M639 255h0M597 298h0M567 311h0M625 282h0M627 274h0M596 285h0M633 273h0M619 289h0M610 287h0M613 277h0M631 272h0M625 274h0M640 271h0M611 275h0M616 282h0M617 285h0M599 299h0M591 304h0M610 281h0M577 310h0M608 287h0M611 283h0M589 308h0M599 297h0M606 296h0M611 284h0M614 287h0M592 298h0M581 314h0M589 301h0M624 260h0M645 264h0M593 296h0M615 284h0M633 271h0M619 275h0M568 322h0M607 294h0M621 279h0M622 274h0M595 303h0M598 299h0M628 275h0M634 280h0M612 285h0M636 276h0M640 264h0M580 312h0M627 277h0M630 278h0M616 283h0M630 271h0M584 308h0M607 286h0M620 275h0M613 277h0M610 290h0M637 267h0M633 269h0M604 291h0M611 281h0M584 303h0M602 279h0M615 284h0M637 262h0M584 310h0M597 303h0M571 308h0M589 305h0M600 295h0M606 290h0M624 277h0M591 297h0M641 260h0M622 273h0M618 278h0M582 309h0M609 289h0M602 292h0M573 312h0M619 280h0M621 276h0M618 286h0M615 273h0M639 257h0M627 264h0M635 262h0M589 296h0M612 280h0M598 302h0M620 276h0M617 282h0M600 274h0M630 271h0M619 280h0M615 290h0M583 303h0M630 277h0M622 286h0M586 307h0M618 282h0M583 293h0M604 289h0M595 293h0M645 263h0M589 294h0M607 282h0M627 274h0M595 297h0M619 278h0M591 294h0M587 308h0M640 262h0M596 290h0M599 286h0M637 258h0M629 266h0M636 275h0M627 270h0M602 290h0M585 298h0M628 279h0M589 312h0M599 305h0M584 312h0M630 267h0M596 293h0M614 280h0M610 284h0M586 304h0M614 278h0M588 294h0M588 295h0M599 286h0M595 290h0M607 286h0"/>
</g>
<rect x="328.80" y="205.30" width="138.30" height="138.50" fill="#fff"/>
<line x1="328.80" y1="343.80" x2="477.10" y2="195.30" stroke="#c6c6c6" stroke-width="4.2" stroke-dasharray="19 9" stroke-dashoffset="13.6" clip-path="url(#cIL)"/>
<g clip-path="url(#cIL)">
<ellipse cx="398.0" cy="271.1" rx="17.3" ry="67.1" transform="rotate(0.0 398.0 271.1)" fill="#ff5050" fill-opacity="0.15" filter="url(#b4)"/>
<ellipse cx="398.0" cy="281.5" rx="9.7" ry="44.9" transform="rotate(6.0 398.0 281.5)" fill="#ff3030" fill-opacity="0.1" filter="url(#b4)"/>
<ellipse cx="389.0" cy="269.0" rx="27.7" ry="6.2" transform="rotate(-65.0 389.0 269.0)" fill="#ff0000" fill-opacity="0.3" filter="url(#b3)"/>
<ellipse cx="404.9" cy="289.8" rx="31.1" ry="4.8" transform="rotate(-80.0 404.9 289.8)" fill="#ff0000" fill-opacity="0.2" filter="url(#b3)"/>
<ellipse cx="398.0" cy="272.5" rx="38.7" ry="13.8" transform="rotate(-45.0 398.0 272.5)" fill="#808080" fill-opacity="0.42" filter="url(#b4)"/>
<ellipse cx="398.0" cy="272.5" rx="29.0" ry="5.9" transform="rotate(-45.0 398.0 272.5)" fill="#404040" fill-opacity="0.65" filter="url(#b3)"/>
</g>
<rect x="740.00" y="205.30" width="138.30" height="138.50" fill="#fff"/>
<line x1="740.00" y1="343.80" x2="888.30" y2="195.30" stroke="#c6c6c6" stroke-width="4.2" stroke-dasharray="19 9" stroke-dashoffset="13.6" clip-path="url(#cIR)"/>
<g clip-path="url(#cIR)">
<ellipse cx="808.1" cy="272.8" rx="26.3" ry="8.3" transform="rotate(-34.0 808.1 272.8)" fill="#ff0000" fill-opacity="0.55" filter="url(#b3)"/>
<ellipse cx="809.1" cy="271.1" rx="41.5" ry="6.2" transform="rotate(-45.0 809.1 271.1)" fill="#808080" fill-opacity="0.4" filter="url(#b3)"/>
<ellipse cx="809.1" cy="271.1" rx="33.2" ry="3.5" transform="rotate(-45.0 809.1 271.1)" fill="#505050" fill-opacity="0.6" filter="url(#b2)"/>
</g>
<path d="M185.46 380.20v12.50M108.50 303.28h-12.50M295.40 380.20v12.50M108.50 193.40h-12.50M405.34 380.20v12.50M108.50 83.52h-12.50" stroke="#000" stroke-width="2.8" fill="none"/>
<rect x="108.50" y="6.60" width="373.80" height="373.60" fill="none" stroke="#000" stroke-width="2.8"/>
<path d="M596.60 380.20v12.50M519.60 303.28h-12.50M706.60 380.20v12.50M519.60 193.40h-12.50M816.60 380.20v12.50M519.60 83.52h-12.50" stroke="#000" stroke-width="2.8" fill="none"/>
<rect x="519.60" y="6.60" width="374.00" height="373.60" fill="none" stroke="#000" stroke-width="2.8"/>
<path d="M328.80 343.80v6.00M328.80 343.80h-6.00M397.95 343.80v6.00M328.80 274.55h-6.00M467.10 343.80v6.00M328.80 205.30h-6.00" stroke="#000" stroke-width="2.4" fill="none"/>
<rect x="328.80" y="205.30" width="138.30" height="138.50" fill="none" stroke="#000" stroke-width="2.4"/>
<path d="M740.00 343.80v6.00M740.00 343.80h-6.00M809.15 343.80v6.00M740.00 274.55h-6.00M878.30 343.80v6.00M740.00 205.30h-6.00" stroke="#000" stroke-width="2.4" fill="none"/>
<rect x="740.00" y="205.30" width="138.30" height="138.50" fill="none" stroke="#000" stroke-width="2.4"/>
<g clip-path="url(#cB)">
<path d="M72.5 942.0C77.4 937.7 82.5 933.5 87.3 929.0C93.7 923.0 99.1 916.0 106.0 910.5C109.5 907.7 113.6 905.1 118.0 904.5C123.3 903.7 128.7 907.2 134.0 906.5C138.0 906.0 141.4 903.3 144.7 901.0C151.2 896.4 157.4 891.4 163.3 886.0C170.3 879.7 177.3 873.3 183.3 866.0C187.2 861.2 188.5 854.6 192.7 850.0C194.4 848.1 197.5 847.9 200.0 847.7C205.5 847.2 211.3 846.3 216.7 847.7C220.8 848.8 224.2 852.0 227.3 855.0C231.4 859.0 235.0 863.4 238.0 868.3C241.3 873.8 242.9 880.1 246.0 885.7C249.1 891.3 252.9 896.5 256.7 901.7C260.0 906.3 264.1 910.4 267.3 915.0C270.3 919.2 272.3 924.1 275.3 928.3C276.8 930.4 278.3 932.8 280.7 933.7C285.8 935.5 291.4 935.3 296.7 936.0C304.5 936.9 312.2 937.9 320.0 938.5C330.9 939.4 341.8 940.6 352.8 940.5C363.8 940.4 374.8 939.8 385.6 938.0C391.3 937.0 397.4 935.8 402.0 932.2C406.7 928.5 408.9 922.5 411.9 917.4C415.0 912.1 417.7 906.6 420.1 901.0C421.9 896.8 423.7 892.5 424.5 888.0C425.6 881.9 423.9 875.4 425.6 869.5C426.0 868.2 429.4 868.2 429.8 869.5C431.7 875.4 429.9 882.0 431.4 888.0C432.7 893.2 435.9 897.8 438.1 902.7C441.5 910.3 443.8 918.4 448.0 925.6C451.0 930.6 454.5 935.8 459.5 938.8C465.6 942.4 472.9 943.7 480.0 944.5C495.6 946.2 511.3 945.8 527.0 946.0C579.9 946.6 632.9 950.1 685.7 946.8C695.2 946.2 704.0 940.4 711.5 934.6C719.5 928.5 726.5 920.7 731.3 911.8C738.4 898.5 742.2 883.6 746.6 869.2C752.3 850.6 758.3 832.0 761.8 812.8C764.9 795.4 764.3 777.6 766.3 760.0C767.4 749.9 769.3 740.0 771.0 730.0C773.2 716.6 775.5 703.3 778.0 690.0C779.9 680.0 782.0 670.0 784.0 660.0C786.0 650.0 787.8 640.0 790.0 630.0C792.2 620.0 794.6 610.0 797.0 600.0C799.0 591.7 800.7 583.3 803.0 575.0C804.4 569.9 805.8 564.8 808.0 560.0C809.0 557.7 810.1 553.0 812.5 553.8C815.6 554.8 815.8 559.6 816.6 562.8C818.6 570.9 819.2 579.2 820.7 587.4C821.5 591.6 822.7 595.8 823.3 600.0C825.1 612.6 826.3 625.3 828.0 638.0C830.1 653.9 832.2 669.8 834.7 685.6C837.2 701.5 840.8 717.1 843.2 733.0C845.3 746.9 846.1 761.0 848.0 775.0C849.0 782.4 850.7 789.7 852.0 797.0C854.0 808.0 856.0 819.0 858.0 830.0C859.3 837.0 860.9 844.0 862.0 851.0C864.0 863.6 864.8 876.4 867.2 889.0C869.6 901.8 872.7 914.5 876.3 927.0C878.3 933.8 877.3 944.6 884.0 946.8C901.2 952.4 920.1 946.9 938.2 947.0L938.2 949L72.5 949Z" fill="#d3d3d3"/>
<path d="M72.5 939.0C77.4 935.3 82.7 932.1 87.3 928.0C93.9 922.2 99.1 914.8 106.0 909.3C109.5 906.5 113.6 903.9 118.0 903.3C123.3 902.6 128.7 906.3 134.0 905.6C138.0 905.1 141.4 902.3 144.7 900.0C151.2 895.5 157.3 890.5 163.3 885.3C170.2 879.4 176.8 873.1 183.3 866.7C187.5 862.6 190.7 857.6 195.3 854.0C197.5 852.2 200.5 851.2 203.3 851.0C206.0 850.8 209.0 851.5 211.3 853.0C215.9 856.0 219.3 860.6 223.3 864.3C227.7 868.4 232.6 872.0 236.7 876.3C241.5 881.3 245.7 886.9 250.0 892.3C254.5 898.0 258.5 904.2 263.3 909.7C267.4 914.4 271.7 919.2 276.7 923.0C282.0 927.0 287.7 930.9 294.0 933.0C302.3 935.8 311.3 936.7 320.0 937.7C330.9 939.0 341.8 940.3 352.8 940.0C363.8 939.7 374.9 938.6 385.6 936.0C390.4 934.8 395.0 932.3 398.8 929.0C402.9 925.4 405.7 920.6 408.6 916.0C411.8 910.9 413.7 905.2 416.8 900.0C418.7 896.8 420.8 893.7 423.4 891.0C424.5 889.9 425.9 888.7 427.5 888.7C429.2 888.7 430.9 889.7 432.0 891.0C435.7 895.6 438.6 900.8 441.4 906.0C444.4 911.5 446.3 917.6 449.6 923.0C452.4 927.5 455.4 932.1 459.5 935.5C462.8 938.2 467.1 939.3 471.0 941.0C474.8 942.7 478.5 945.2 482.6 945.6C497.6 947.1 512.7 946.3 527.7 946.5C557.8 946.8 587.9 947.4 618.0 947.0C630.4 946.8 642.7 946.2 655.0 944.6C662.8 943.6 670.7 942.1 678.1 939.2C687.2 935.7 696.2 931.5 703.9 925.5C710.2 920.6 715.2 914.1 719.2 907.2C725.4 896.6 730.0 885.2 734.4 873.7C739.2 861.3 743.1 848.5 746.6 835.7C750.7 820.6 754.3 805.4 757.2 790.0C759.6 777.4 760.4 764.6 762.3 752.0C764.3 739.3 766.4 726.6 768.9 714.0C771.4 701.3 774.5 688.6 777.5 676.0C780.5 663.3 783.8 650.7 787.0 638.0C790.2 625.3 793.4 612.7 796.5 600.0C797.5 595.8 798.4 591.6 799.4 587.4C800.8 581.4 801.9 575.4 803.5 569.4C804.7 565.0 805.6 560.4 807.6 556.3C808.7 554.0 810.2 551.5 812.5 550.5C814.1 549.8 816.0 551.2 817.4 552.2C820.2 554.2 823.0 556.5 824.8 559.5C827.2 563.5 828.6 568.1 829.7 572.7C831.8 581.0 833.0 589.6 834.5 598.0C837.5 614.5 840.4 631.0 843.2 647.5C846.4 666.5 849.6 685.6 852.7 704.6C855.3 720.4 857.9 736.2 860.3 752.0C862.2 764.6 863.3 777.4 865.7 790.0C868.1 802.8 872.0 815.3 874.8 828.1C878.1 843.2 880.8 858.5 883.9 873.7C886.4 886.4 887.8 899.4 891.6 911.8C893.9 919.4 896.9 927.2 902.2 933.1C906.0 937.3 911.9 939.2 917.4 940.7C924.1 942.5 931.3 942.2 938.2 943.0" fill="none" stroke="#000000" stroke-opacity="0.7" stroke-width="4.4" stroke-linejoin="round" stroke-linecap="butt"/>
<path d="M72.5 941.3C78.3 936.4 84.2 931.6 90.0 926.7C96.3 921.4 101.7 914.9 108.7 910.7C112.2 908.6 116.6 908.4 120.7 908.3C125.6 908.2 130.5 910.7 135.3 910.0C140.5 909.2 145.3 906.4 150.0 904.0C156.9 900.4 163.5 896.2 170.0 892.0C175.9 888.2 181.6 884.2 187.3 880.0C191.6 876.8 195.2 872.5 200.0 870.0C205.2 867.2 210.8 864.8 216.7 864.3C219.6 864.0 222.3 866.1 224.7 867.7C229.0 870.6 232.9 874.2 236.7 877.7C241.3 881.9 245.7 886.5 250.0 891.0C255.0 896.2 259.6 901.9 264.7 907.0C269.8 912.1 274.9 917.4 280.7 921.7C285.6 925.4 290.9 928.9 296.7 931.0C304.2 933.8 312.1 935.4 320.0 936.3C325.4 936.9 330.9 935.3 336.4 935.5C341.9 935.7 347.3 937.6 352.8 937.5C363.8 937.4 374.9 937.4 385.6 935.0C390.6 933.9 395.1 930.6 398.8 927.0C402.9 923.1 405.7 917.9 408.6 913.0C411.8 907.6 413.9 901.6 416.8 896.0C418.8 892.1 420.7 888.0 423.4 884.5C424.6 883.0 426.4 881.6 428.3 881.5C429.9 881.4 431.6 882.6 432.5 884.0C436.1 889.6 438.6 895.9 441.4 902.0C444.3 908.4 446.2 915.3 449.6 921.5C452.3 926.4 455.4 931.2 459.5 935.0C462.7 938.0 467.0 939.7 471.0 941.5C474.7 943.1 478.6 944.9 482.6 945.2C497.6 946.3 512.7 945.5 527.7 945.6C542.7 945.8 557.8 945.9 572.8 946.1C587.9 946.3 602.9 947.1 618.0 946.7C629.3 946.4 640.6 945.5 651.8 943.8C660.7 942.5 669.8 941.1 678.1 937.7C686.3 934.4 694.2 929.9 700.9 924.0C707.1 918.5 712.5 911.7 716.1 904.2C721.8 892.1 724.2 878.8 728.3 866.1C732.4 853.4 736.9 840.9 740.5 828.1C744.0 815.5 746.9 802.8 749.6 790.0C752.3 777.4 754.2 764.6 756.6 752.0C759.0 739.3 761.5 726.6 764.2 714.0C766.9 701.3 769.7 688.6 772.7 676.0C775.7 663.3 778.9 650.6 782.2 638.0C785.5 625.3 789.5 612.7 792.7 600.0C794.4 593.1 795.4 586.1 796.9 579.2C798.2 573.2 799.5 567.2 801.0 561.2C802.2 556.2 802.8 551.0 805.1 546.4C806.5 543.7 808.7 539.9 811.7 540.3C814.9 540.7 816.1 545.1 817.4 548.0C819.7 553.3 820.8 559.0 822.4 564.5C823.8 569.4 825.5 574.2 826.5 579.2C827.9 586.1 828.7 593.1 829.8 600.0C832.4 615.8 834.9 631.7 837.5 647.5C840.6 666.5 843.9 685.6 847.0 704.6C849.6 720.4 852.0 736.2 854.6 752.0C856.7 764.7 858.5 777.4 861.1 790.0C863.7 802.8 867.4 815.3 870.2 828.1C873.5 843.2 876.1 858.6 879.4 873.7C882.2 886.5 884.4 899.4 888.5 911.8C891.0 919.3 894.0 927.1 899.2 933.1C903.0 937.5 908.8 940.0 914.4 941.5C922.1 943.6 930.3 942.8 938.2 943.5" fill="none" stroke="#0000ff" stroke-opacity="0.7" stroke-width="4.4" stroke-linejoin="round" stroke-linecap="butt"/>
<path d="M72.5 943.3C78.3 940.0 84.5 937.2 90.0 933.3C96.2 928.9 100.9 922.7 107.3 918.7C111.7 916.0 116.8 914.1 122.0 913.6C125.6 913.2 129.1 915.2 132.7 916.0C137.1 916.9 141.5 919.5 146.0 918.7C152.3 917.6 157.6 913.5 163.3 910.7C170.0 907.5 176.8 904.3 183.3 900.7C189.0 897.6 194.4 893.9 200.0 890.7C205.5 887.6 210.8 884.0 216.7 881.7C220.9 880.1 225.5 879.1 230.0 879.0C234.5 878.9 239.0 879.7 243.3 881.0C248.0 882.4 252.6 884.3 256.7 887.0C261.7 890.3 265.9 894.7 270.0 899.0C274.8 904.0 278.5 910.0 283.3 915.0C287.4 919.3 291.5 924.1 296.7 927.0C303.9 931.1 311.9 934.0 320.0 935.7C330.7 937.9 341.8 938.6 352.8 938.5C363.8 938.4 374.9 937.4 385.6 935.0C390.5 933.9 395.0 931.3 398.8 928.0C402.9 924.4 405.7 919.6 408.6 915.0C411.8 909.9 413.8 904.2 416.8 899.0C418.8 895.5 420.8 892.1 423.4 889.0C424.5 887.7 425.9 886.3 427.5 886.3C429.2 886.3 430.9 887.6 432.0 889.0C435.6 893.6 438.6 898.8 441.4 904.0C444.5 909.8 446.3 916.3 449.6 922.0C452.3 926.7 455.4 931.4 459.5 935.0C462.7 937.8 467.0 939.0 471.0 940.5C474.7 941.9 478.6 943.2 482.6 943.4C497.6 944.2 512.7 943.4 527.7 943.4C542.7 943.4 557.8 943.3 572.8 943.4C584.1 943.5 595.4 944.0 606.7 943.8C614.2 943.6 621.7 943.1 629.2 942.2C632.9 941.8 636.4 940.9 640.0 940.0C644.0 939.1 647.9 937.9 651.8 936.8C655.5 935.8 659.3 934.9 662.8 933.5C666.8 931.9 670.7 929.9 674.4 927.6C678.4 925.2 682.7 922.9 685.7 919.4C691.6 912.5 696.7 904.7 700.9 896.6C705.9 886.9 709.6 876.5 713.1 866.1C717.3 853.6 720.4 840.8 723.7 828.1C727.0 815.5 729.4 802.6 732.9 790.0C736.8 776.0 742.3 762.4 746.1 748.3C749.2 737.0 751.3 725.5 753.7 714.0C756.4 701.4 759.1 688.7 761.3 676.0C763.5 663.4 764.9 650.6 767.0 638.0C769.1 625.3 771.3 612.6 773.7 600.0C774.4 596.3 775.2 592.6 776.4 589.1C778.0 584.6 779.5 579.9 782.2 576.0C783.7 573.8 786.1 571.7 788.7 571.4C791.3 571.1 794.1 572.6 796.1 574.3C799.8 577.5 802.7 581.6 805.1 585.8C807.7 590.2 809.3 595.1 810.9 600.0C815.0 612.6 819.4 625.1 822.3 638.0C825.8 653.7 827.3 669.7 829.9 685.6C833.0 704.6 836.0 723.6 839.4 742.6C842.3 758.5 845.5 774.3 848.9 790.0C851.7 802.8 854.8 815.5 858.1 828.1C861.4 840.8 865.2 853.4 868.7 866.1C872.3 878.8 875.3 891.7 879.4 904.2C881.9 912.0 884.4 919.9 888.5 927.0C891.6 932.3 895.4 937.7 900.7 940.7C906.1 943.8 912.8 943.7 919.0 944.5C925.4 945.3 931.8 945.0 938.2 945.3" fill="none" stroke="#ffa500" stroke-opacity="0.7" stroke-width="4.4" stroke-linejoin="round" stroke-linecap="butt"/>
<path d="M72.5 946.0C80.6 942.7 89.2 940.5 96.7 936.0C102.3 932.6 105.8 926.3 111.3 922.7C114.8 920.4 119.1 918.5 123.3 918.7C127.3 918.9 130.4 922.4 134.0 924.0C138.4 925.9 142.6 928.7 147.3 929.3C152.6 930.0 158.1 929.2 163.3 928.0C170.2 926.4 176.9 923.8 183.3 920.7C189.2 917.8 194.7 913.9 200.0 910.0C205.8 905.8 211.2 900.9 216.7 896.3C220.3 893.3 223.6 889.9 227.3 887.0C230.3 884.7 233.1 881.8 236.7 881.0C241.0 880.0 245.6 881.1 250.0 881.7C254.1 882.2 258.2 882.7 262.0 884.3C265.5 885.8 268.6 888.3 271.3 891.0C274.9 894.6 277.7 898.9 280.7 903.0C284.3 907.8 287.3 913.2 291.3 917.7C294.9 921.7 298.7 925.6 303.3 928.3C308.4 931.3 314.3 932.8 320.0 934.3C325.4 935.7 330.9 936.3 336.4 937.1C341.8 937.8 347.3 938.6 352.8 938.8C358.3 939.0 363.8 938.7 369.2 938.0C374.7 937.3 380.4 936.6 385.6 934.7C390.3 933.0 395.0 930.7 398.8 927.3C402.9 923.7 405.8 918.9 408.6 914.2C411.8 909.0 413.9 903.1 416.8 897.7C418.9 893.8 420.5 889.6 423.4 886.3C424.8 884.7 427.1 883.4 429.1 883.8C431.6 884.3 433.5 886.6 434.9 888.7C437.7 893.0 439.3 898.0 441.4 902.7C444.2 908.7 446.3 915.0 449.6 920.7C452.4 925.4 455.4 930.2 459.5 933.8C462.7 936.6 466.9 938.3 471.0 939.6C474.7 940.8 478.7 940.8 482.6 941.1C490.1 941.7 497.6 942.3 505.1 942.2C512.7 942.1 520.2 941.1 527.7 940.6C536.7 940.0 545.7 938.8 554.8 938.8C564.6 938.8 574.3 940.2 584.1 940.6C591.6 940.9 599.2 941.8 606.7 941.1C614.3 940.4 621.8 938.5 629.2 936.6C636.8 934.7 644.4 932.6 651.8 929.8C655.7 928.3 659.6 926.6 662.8 924.0C668.4 919.5 674.0 914.6 678.1 908.7C683.2 901.3 686.5 892.6 690.2 884.4C694.1 875.9 698.1 867.4 700.9 858.5C704.8 846.0 706.6 833.0 710.0 820.4C712.7 810.2 716.4 800.2 719.2 790.0C721.2 782.5 722.6 774.9 724.3 767.3C726.8 755.9 729.6 744.5 731.9 733.0C734.4 720.4 736.3 707.7 738.5 695.0C740.7 682.3 742.8 669.6 745.2 657.0C747.0 647.5 748.7 637.9 750.9 628.5C753.1 618.9 755.9 609.5 758.5 600.0C760.3 593.6 762.0 587.2 764.1 580.9C766.1 574.8 768.3 568.8 770.7 562.8C772.4 558.4 773.6 553.6 776.4 549.7C777.9 547.6 780.4 545.8 783.0 545.6C785.2 545.5 787.5 547.1 788.7 548.9C791.5 553.1 792.9 558.0 794.5 562.8C796.3 568.2 797.6 573.7 798.6 579.2C799.9 586.1 800.3 593.1 801.4 600.0C803.8 615.9 806.8 631.6 809.0 647.5C811.4 665.0 812.5 682.6 815.2 700.0C817.1 712.8 820.3 725.3 822.8 738.0C825.3 750.7 827.6 763.4 830.4 776.0C833.2 788.7 836.4 801.3 839.5 814.0C843.0 828.7 845.8 843.7 850.2 858.2C854.5 872.3 860.0 886.0 865.7 899.6C869.2 908.0 872.9 916.4 877.9 924.0C882.1 930.3 886.7 936.7 893.1 940.7C898.4 944.1 905.2 944.6 911.4 945.3C920.3 946.4 929.3 945.8 938.2 946.1" fill="none" stroke="#ff0000" stroke-opacity="0.7" stroke-width="4.4" stroke-linejoin="round" stroke-linecap="butt"/>
</g>
<rect x="446.3" y="556.1" width="206.5" height="205.3" fill="#fff" stroke="#222" stroke-width="1"/>
<g stroke-width="3" stroke-linecap="butt">
<path stroke="#f00000" d="M541.5 560.8L551.3 567.7M609.7 561.3L603.2 558.0M609.7 561.3L602.0 562.1M614.9 562.4L618.9 569.7M614.9 562.4L617.3 572.2M590.0 577.5L586.3 568.3M590.0 577.5L593.0 573.1M522.4 580.5L524.5 572.8M541.5 560.8L532.6 563.6M480.2 583.8L488.3 584.7M480.2 583.8L487.0 587.9M475.6 587.9L478.4 595.5M475.6 587.9L476.8 598.3M645.8 582.7L645.8 575.1M634.0 589.5L623.5 586.6M524.6 609.1L524.6 603.1M581.7 594.7L576.3 601.2M624.6 603.7L629.4 600.8M634.0 589.5L637.3 597.6M624.6 603.7L633.3 604.8M524.6 609.1L515.0 608.0M534.8 617.7L534.8 610.4M451.3 616.6L456.2 608.1M568.6 617.7L576.4 625.0M590.7 612.7L586.2 620.8M590.7 612.7L597.9 607.9M538.8 623.3L546.5 623.3M538.8 623.3L547.3 625.4M641.9 629.0L641.5 617.6M641.9 629.0L646.3 624.4M627.3 635.7L617.2 631.7M627.3 635.7L623.2 640.3M627.3 635.7L628.6 645.5M471.1 627.2L460.9 630.9M471.1 627.2L465.8 628.8M524.6 634.6L522.2 630.6M524.6 634.6L521.4 640.3M486.3 654.9L477.0 648.9M486.3 654.9L484.1 645.2M497.5 649.3L505.2 640.3M510.4 654.2L511.4 646.6M502.0 656.0L497.2 663.4M493.0 679.7L496.8 673.2M486.3 654.9L489.5 655.7M563.6 652.0L568.5 653.0M549.4 676.8L557.9 670.8M594.6 649.7L591.3 649.1M581.7 660.1L576.3 662.1M581.7 660.1L576.7 669.9M586.7 658.3L589.9 663.2M586.7 658.3L594.5 663.5M631.3 666.9L635.2 662.3M631.3 666.9L639.3 675.3M450.2 671.8L449.3 661.3M456.2 680.4L462.7 677.8M455.3 698.5L464.6 693.1M492.3 691.0L486.3 701.3M492.3 691.0L498.8 691.0M549.4 676.8L542.9 670.0M549.4 676.8L544.1 667.5M542.0 682.7L531.6 683.0M537.0 697.1L530.5 690.6M537.0 697.1L543.5 693.9M537.0 697.1L545.5 700.4M537.0 697.1L527.6 700.4M455.3 698.5L451.1 697.2M455.3 698.5L451.6 708.2M590.0 696.7L594.1 690.5M586.2 703.4L577.6 704.7M586.2 703.4L581.7 710.7M595.2 703.4L602.4 699.9M595.2 703.4L603.7 709.6M630.0 703.4L636.2 694.5M636.8 709.1L642.1 699.3M636.8 709.1L639.7 714.8M633.6 731.6L637.2 725.6M465.9 717.4L473.3 717.4M491.4 720.4L490.5 723.6M472.7 735.5L480.8 733.5M508.8 724.9L518.1 727.3M528.0 755.3L521.5 746.9M505.9 733.9L511.2 742.8M553.3 717.0L563.0 718.9M628.4 726.0L618.7 719.8M633.6 731.6L643.7 733.7M633.6 731.6L627.4 741.4M472.7 735.5L478.1 736.4M477.2 745.8L484.9 745.8M462.1 758.7L454.0 750.6M477.2 745.8L472.4 749.4M462.1 758.7L470.2 760.3M573.1 748.1L573.1 747.6M573.1 748.1L564.5 752.2M590.0 756.5L589.6 746.2M535.9 759.8L540.8 755.0M535.9 759.8L544.0 753.8M522.4 580.5L526.4 575.6M477.2 627.2L477.2 634.2M534.8 617.7L535.6 614.1M534.8 617.7L538.0 616.9"/>
<path stroke="#e4e4e4" d="M551.3 567.7L555.1 570.3M603.2 558.0L600.6 556.8M602.0 562.1L599.1 562.4M618.9 569.7L620.5 572.6M617.3 572.2L618.2 575.9M586.3 568.3L584.9 564.7M593.0 573.1L594.1 571.4M524.5 572.8L525.3 569.9M532.6 563.6L529.1 564.7M488.3 584.7L491.4 585.0M487.0 587.9L489.6 589.5M478.4 595.5L479.5 598.5M476.8 598.3L477.2 602.3M645.8 575.1L645.8 572.1M623.5 586.6L619.4 585.4M524.6 603.1L524.6 600.8M576.3 601.2L574.3 603.7M629.4 600.8L631.3 599.6M637.3 597.6L638.6 600.8M633.3 604.8L636.8 605.3M515.0 608.0L511.3 607.5M534.8 610.4L534.8 607.5M456.2 608.1L458.1 604.8M576.4 625.0L579.4 627.8M586.2 620.8L584.4 624.0M597.9 607.9L600.6 606.0M546.5 623.3L549.4 623.3M547.3 625.4L550.6 626.3M641.5 617.6L641.3 613.2M646.3 624.4L648.0 622.7M617.2 631.7L613.3 630.1M623.2 640.3L621.6 642.1M628.6 645.5L629.1 649.3M460.9 630.9L456.9 632.4M465.8 628.8L463.7 629.4M522.2 630.6L521.2 629.0M521.4 640.3L520.1 642.5M477.0 648.9L473.4 646.6M484.1 645.2L483.3 641.4M505.2 640.3L508.1 636.9M511.4 646.6L511.8 643.6M497.2 663.4L495.3 666.2M496.8 673.2L498.2 670.7M489.5 655.7L490.8 656.0M568.5 653.0L570.4 653.3M557.9 670.8L561.2 668.5M591.3 649.1L590.0 648.8M576.3 662.1L574.3 662.8M576.7 669.9L574.7 673.6M589.9 663.2L591.2 665.1M594.5 663.5L597.5 665.5M635.2 662.3L636.8 660.6M639.3 675.3L642.4 678.6M449.3 661.3L449.0 657.2M462.7 677.8L465.3 676.8M464.6 693.1L468.2 691.0M486.3 701.3L484.0 705.2M498.8 691.0L501.4 691.0M542.9 670.0L540.4 667.3M544.1 667.5L542.0 663.9M531.6 683.0L527.5 683.1M530.5 690.6L528.0 688.1M543.5 693.9L546.0 692.6M545.5 700.4L548.8 701.6M527.6 700.4L523.9 701.6M451.1 697.2L449.5 696.7M451.6 708.2L450.2 712.0M594.1 690.5L595.7 688.1M577.6 704.7L574.3 705.2M581.7 710.7L579.9 713.6M602.4 699.9L605.2 698.5M603.7 709.6L607.0 712.0M636.2 694.5L638.6 691.0M642.1 699.3L644.2 695.5M639.7 714.8L640.8 717.0M637.2 725.6L638.6 723.3M473.3 717.4L476.1 717.4M490.5 723.6L490.1 724.9M480.8 733.5L484.0 732.8M518.1 727.3L521.7 728.2M521.5 746.9L519.0 743.6M511.2 742.8L513.3 746.3M563.0 718.9L566.8 719.7M618.7 719.8L614.9 717.4M643.7 733.7L647.6 734.6M627.4 741.4L625.0 745.2M478.1 736.4L480.2 736.8M484.9 745.8L487.8 745.8M454.0 750.6L450.8 747.4M472.4 749.4L470.5 750.8M470.2 760.3L473.4 761.0M573.1 747.6L573.1 747.4M564.5 752.2L561.2 753.7M589.6 746.2L589.4 742.2M540.8 755.0L542.7 753.1M544.0 753.8L547.2 751.5M526.4 575.6L528.0 573.7M477.2 634.2L477.2 636.9M535.6 614.1L535.9 612.7M538.0 616.9L539.3 616.6"/>
</g>
<circle cx="476.1" cy="717.4" r="3.5" fill="url(#gH)" stroke="#b4b4b4" stroke-width="0.8"/>
<circle cx="465.9" cy="717.4" r="5.6" fill="url(#gO)" stroke="#c80000" stroke-width="0.7"/>
<circle cx="579.4" cy="627.8" r="3.5" fill="url(#gH)" stroke="#b4b4b4" stroke-width="0.8"/>
<circle cx="621.6" cy="642.1" r="3.5" fill="url(#gH)" stroke="#b4b4b4" stroke-width="0.8"/>
<circle cx="456.2" cy="680.4" r="5.6" fill="url(#gO)" stroke="#c80000" stroke-width="0.7"/>
<circle cx="522.4" cy="580.5" r="5.6" fill="url(#gO)" stroke="#c80000" stroke-width="0.7"/>
<circle cx="590.0" cy="756.5" r="5.6" fill="url(#gO)" stroke="#c80000" stroke-width="0.7"/>
<circle cx="595.2" cy="703.4" r="5.6" fill="url(#gO)" stroke="#c80000" stroke-width="0.7"/>
<circle cx="573.1" cy="748.1" r="5.6" fill="url(#gO)" stroke="#c80000" stroke-width="0.7"/>
<circle cx="521.7" cy="728.2" r="3.5" fill="url(#gH)" stroke="#b4b4b4" stroke-width="0.8"/>
<circle cx="524.6" cy="634.6" r="5.6" fill="url(#gO)" stroke="#c80000" stroke-width="0.7"/>
<circle cx="475.6" cy="587.9" r="5.6" fill="url(#gO)" stroke="#c80000" stroke-width="0.7"/>
<circle cx="647.6" cy="734.6" r="3.5" fill="url(#gH)" stroke="#b4b4b4" stroke-width="0.8"/>
<circle cx="480.2" cy="736.8" r="3.5" fill="url(#gH)" stroke="#b4b4b4" stroke-width="0.8"/>
<circle cx="468.2" cy="691.0" r="3.5" fill="url(#gH)" stroke="#b4b4b4" stroke-width="0.8"/>
<circle cx="454.0" cy="565.8" r="3.5" fill="url(#gH)" stroke="#b4b4b4" stroke-width="0.8"/>
<circle cx="636.8" cy="660.6" r="3.5" fill="url(#gH)" stroke="#b4b4b4" stroke-width="0.8"/>
<circle cx="537.0" cy="697.1" r="5.6" fill="url(#gO)" stroke="#c80000" stroke-width="0.7"/>
<circle cx="511.3" cy="607.5" r="3.5" fill="url(#gH)" stroke="#b4b4b4" stroke-width="0.8"/>
<circle cx="524.6" cy="600.8" r="3.5" fill="url(#gH)" stroke="#b4b4b4" stroke-width="0.8"/>
<circle cx="472.7" cy="735.5" r="5.6" fill="url(#gO)" stroke="#c80000" stroke-width="0.7"/>
<circle cx="605.2" cy="698.5" r="3.5" fill="url(#gH)" stroke="#b4b4b4" stroke-width="0.8"/>
<circle cx="645.8" cy="582.7" r="5.6" fill="url(#gO)" stroke="#c80000" stroke-width="0.7"/>
<circle cx="528.0" cy="573.7" r="3.5" fill="url(#gH)" stroke="#b4b4b4" stroke-width="0.8"/>
<circle cx="491.4" cy="585.0" r="3.5" fill="url(#gH)" stroke="#b4b4b4" stroke-width="0.8"/>
<circle cx="638.6" cy="600.8" r="3.5" fill="url(#gH)" stroke="#b4b4b4" stroke-width="0.8"/>
<circle cx="535.9" cy="612.7" r="3.5" fill="url(#gH)" stroke="#b4b4b4" stroke-width="0.8"/>
<circle cx="641.3" cy="613.2" r="3.5" fill="url(#gH)" stroke="#b4b4b4" stroke-width="0.8"/>
<circle cx="502.0" cy="656.0" r="5.6" fill="url(#gO)" stroke="#c80000" stroke-width="0.7"/>
<circle cx="473.4" cy="761.0" r="3.5" fill="url(#gH)" stroke="#b4b4b4" stroke-width="0.8"/>
<circle cx="477.2" cy="627.2" r="5.6" fill="url(#gO)" stroke="#c80000" stroke-width="0.7"/>
<circle cx="521.2" cy="629.0" r="3.5" fill="url(#gH)" stroke="#b4b4b4" stroke-width="0.8"/>
<circle cx="508.8" cy="724.9" r="5.6" fill="url(#gO)" stroke="#c80000" stroke-width="0.7"/>
<circle cx="546.0" cy="692.6" r="3.5" fill="url(#gH)" stroke="#b4b4b4" stroke-width="0.8"/>
<circle cx="590.0" cy="648.8" r="3.5" fill="url(#gH)" stroke="#b4b4b4" stroke-width="0.8"/>
<circle cx="579.4" cy="731.6" r="3.5" fill="url(#gH)" stroke="#b4b4b4" stroke-width="0.8"/>
<circle cx="589.4" cy="742.2" r="3.5" fill="url(#gH)" stroke="#b4b4b4" stroke-width="0.8"/>
<circle cx="634.0" cy="589.5" r="5.6" fill="url(#gO)" stroke="#c80000" stroke-width="0.7"/>
<circle cx="561.2" cy="753.7" r="3.5" fill="url(#gH)" stroke="#b4b4b4" stroke-width="0.8"/>
<circle cx="524.6" cy="609.1" r="5.6" fill="url(#gO)" stroke="#c80000" stroke-width="0.7"/>
<circle cx="489.6" cy="589.5" r="3.5" fill="url(#gH)" stroke="#b4b4b4" stroke-width="0.8"/>
<circle cx="628.4" cy="726.0" r="5.6" fill="url(#gO)" stroke="#c80000" stroke-width="0.7"/>
<circle cx="581.7" cy="660.1" r="5.6" fill="url(#gO)" stroke="#c80000" stroke-width="0.7"/>
<circle cx="633.6" cy="731.6" r="5.6" fill="url(#gO)" stroke="#c80000" stroke-width="0.7"/>
<circle cx="590.7" cy="612.7" r="5.6" fill="url(#gO)" stroke="#c80000" stroke-width="0.7"/>
<circle cx="511.8" cy="643.6" r="3.5" fill="url(#gH)" stroke="#b4b4b4" stroke-width="0.8"/>
<circle cx="609.7" cy="561.3" r="5.6" fill="url(#gO)" stroke="#c80000" stroke-width="0.7"/>
<circle cx="540.4" cy="667.3" r="3.5" fill="url(#gH)" stroke="#b4b4b4" stroke-width="0.8"/>
<circle cx="528.0" cy="755.3" r="5.6" fill="url(#gO)" stroke="#c80000" stroke-width="0.7"/>
<circle cx="453.1" cy="560.2" r="3.5" fill="url(#gH)" stroke="#b4b4b4" stroke-width="0.8"/>
<circle cx="480.2" cy="583.8" r="5.6" fill="url(#gO)" stroke="#c80000" stroke-width="0.7"/>
<circle cx="491.4" cy="720.4" r="5.6" fill="url(#gO)" stroke="#c80000" stroke-width="0.7"/>
<circle cx="591.2" cy="665.1" r="3.5" fill="url(#gH)" stroke="#b4b4b4" stroke-width="0.8"/>
<circle cx="483.3" cy="641.4" r="3.5" fill="url(#gH)" stroke="#b4b4b4" stroke-width="0.8"/>
<circle cx="570.4" cy="653.3" r="3.5" fill="url(#gH)" stroke="#b4b4b4" stroke-width="0.8"/>
<circle cx="634.0" cy="633.0" r="5.6" fill="url(#gO)" stroke="#c80000" stroke-width="0.7"/>
<circle cx="462.1" cy="758.7" r="5.6" fill="url(#gO)" stroke="#c80000" stroke-width="0.7"/>
<circle cx="590.0" cy="577.5" r="5.6" fill="url(#gO)" stroke="#c80000" stroke-width="0.7"/>
<circle cx="492.3" cy="691.0" r="5.6" fill="url(#gO)" stroke="#c80000" stroke-width="0.7"/>
<circle cx="638.6" cy="723.3" r="3.5" fill="url(#gH)" stroke="#b4b4b4" stroke-width="0.8"/>
<circle cx="630.0" cy="703.4" r="5.6" fill="url(#gO)" stroke="#c80000" stroke-width="0.7"/>
<circle cx="568.6" cy="617.7" r="5.6" fill="url(#gO)" stroke="#c80000" stroke-width="0.7"/>
<circle cx="640.8" cy="717.0" r="3.5" fill="url(#gH)" stroke="#b4b4b4" stroke-width="0.8"/>
<circle cx="547.2" cy="751.5" r="3.5" fill="url(#gH)" stroke="#b4b4b4" stroke-width="0.8"/>
<circle cx="638.6" cy="691.0" r="3.5" fill="url(#gH)" stroke="#b4b4b4" stroke-width="0.8"/>
<circle cx="548.8" cy="701.6" r="3.5" fill="url(#gH)" stroke="#b4b4b4" stroke-width="0.8"/>
<circle cx="449.0" cy="657.2" r="3.5" fill="url(#gH)" stroke="#b4b4b4" stroke-width="0.8"/>
<circle cx="620.5" cy="755.3" r="3.5" fill="url(#gH)" stroke="#b4b4b4" stroke-width="0.8"/>
<circle cx="541.5" cy="560.8" r="5.6" fill="url(#gO)" stroke="#c80000" stroke-width="0.7"/>
<circle cx="542.0" cy="663.9" r="3.5" fill="url(#gH)" stroke="#b4b4b4" stroke-width="0.8"/>
<circle cx="607.0" cy="712.0" r="3.5" fill="url(#gH)" stroke="#b4b4b4" stroke-width="0.8"/>
<circle cx="501.4" cy="691.0" r="3.5" fill="url(#gH)" stroke="#b4b4b4" stroke-width="0.8"/>
<circle cx="620.5" cy="572.6" r="3.5" fill="url(#gH)" stroke="#b4b4b4" stroke-width="0.8"/>
<circle cx="549.4" cy="623.3" r="3.5" fill="url(#gH)" stroke="#b4b4b4" stroke-width="0.8"/>
<circle cx="525.3" cy="569.9" r="3.5" fill="url(#gH)" stroke="#b4b4b4" stroke-width="0.8"/>
<circle cx="573.1" cy="747.4" r="3.5" fill="url(#gH)" stroke="#b4b4b4" stroke-width="0.8"/>
<circle cx="642.4" cy="678.6" r="3.5" fill="url(#gH)" stroke="#b4b4b4" stroke-width="0.8"/>
<circle cx="574.3" cy="705.2" r="3.5" fill="url(#gH)" stroke="#b4b4b4" stroke-width="0.8"/>
<circle cx="555.1" cy="570.3" r="3.5" fill="url(#gH)" stroke="#b4b4b4" stroke-width="0.8"/>
<circle cx="574.3" cy="662.8" r="3.5" fill="url(#gH)" stroke="#b4b4b4" stroke-width="0.8"/>
<circle cx="566.8" cy="719.7" r="3.5" fill="url(#gH)" stroke="#b4b4b4" stroke-width="0.8"/>
<circle cx="586.2" cy="703.4" r="5.6" fill="url(#gO)" stroke="#c80000" stroke-width="0.7"/>
<circle cx="508.1" cy="636.9" r="3.5" fill="url(#gH)" stroke="#b4b4b4" stroke-width="0.8"/>
<circle cx="498.2" cy="670.7" r="3.5" fill="url(#gH)" stroke="#b4b4b4" stroke-width="0.8"/>
<circle cx="563.6" cy="652.0" r="5.6" fill="url(#gO)" stroke="#c80000" stroke-width="0.7"/>
<circle cx="594.6" cy="649.7" r="5.6" fill="url(#gO)" stroke="#c80000" stroke-width="0.7"/>
<circle cx="450.2" cy="671.8" r="5.6" fill="url(#gO)" stroke="#c80000" stroke-width="0.7"/>
<circle cx="456.9" cy="632.4" r="3.5" fill="url(#gH)" stroke="#b4b4b4" stroke-width="0.8"/>
<circle cx="527.5" cy="683.1" r="3.5" fill="url(#gH)" stroke="#b4b4b4" stroke-width="0.8"/>
<circle cx="519.0" cy="593.3" r="5.6" fill="url(#gO)" stroke="#c80000" stroke-width="0.7"/>
<circle cx="484.0" cy="732.8" r="3.5" fill="url(#gH)" stroke="#b4b4b4" stroke-width="0.8"/>
<circle cx="595.7" cy="688.1" r="3.5" fill="url(#gH)" stroke="#b4b4b4" stroke-width="0.8"/>
<circle cx="629.1" cy="649.3" r="3.5" fill="url(#gH)" stroke="#b4b4b4" stroke-width="0.8"/>
<circle cx="590.0" cy="696.7" r="5.6" fill="url(#gO)" stroke="#c80000" stroke-width="0.7"/>
<circle cx="631.3" cy="666.9" r="5.6" fill="url(#gO)" stroke="#c80000" stroke-width="0.7"/>
<circle cx="534.8" cy="617.7" r="5.6" fill="url(#gO)" stroke="#c80000" stroke-width="0.7"/>
<circle cx="648.0" cy="622.7" r="3.5" fill="url(#gH)" stroke="#b4b4b4" stroke-width="0.8"/>
<circle cx="542.7" cy="753.1" r="3.5" fill="url(#gH)" stroke="#b4b4b4" stroke-width="0.8"/>
<circle cx="528.0" cy="688.1" r="3.5" fill="url(#gH)" stroke="#b4b4b4" stroke-width="0.8"/>
<circle cx="624.6" cy="603.7" r="5.6" fill="url(#gO)" stroke="#c80000" stroke-width="0.7"/>
<circle cx="641.9" cy="629.0" r="5.6" fill="url(#gO)" stroke="#c80000" stroke-width="0.7"/>
<circle cx="584.9" cy="564.7" r="3.5" fill="url(#gH)" stroke="#b4b4b4" stroke-width="0.8"/>
<circle cx="644.2" cy="695.5" r="3.5" fill="url(#gH)" stroke="#b4b4b4" stroke-width="0.8"/>
<circle cx="631.3" cy="599.6" r="3.5" fill="url(#gH)" stroke="#b4b4b4" stroke-width="0.8"/>
<circle cx="553.3" cy="717.0" r="5.6" fill="url(#gO)" stroke="#c80000" stroke-width="0.7"/>
<circle cx="625.0" cy="745.2" r="3.5" fill="url(#gH)" stroke="#b4b4b4" stroke-width="0.8"/>
<circle cx="645.8" cy="572.1" r="3.5" fill="url(#gH)" stroke="#b4b4b4" stroke-width="0.8"/>
<circle cx="477.2" cy="636.9" r="3.5" fill="url(#gH)" stroke="#b4b4b4" stroke-width="0.8"/>
<circle cx="471.1" cy="627.2" r="5.6" fill="url(#gO)" stroke="#c80000" stroke-width="0.7"/>
<circle cx="451.3" cy="616.6" r="5.6" fill="url(#gO)" stroke="#c80000" stroke-width="0.7"/>
<circle cx="636.8" cy="709.1" r="5.6" fill="url(#gO)" stroke="#c80000" stroke-width="0.7"/>
<circle cx="619.4" cy="585.4" r="3.5" fill="url(#gH)" stroke="#b4b4b4" stroke-width="0.8"/>
<circle cx="477.2" cy="745.8" r="5.6" fill="url(#gO)" stroke="#c80000" stroke-width="0.7"/>
<circle cx="510.4" cy="654.2" r="5.6" fill="url(#gO)" stroke="#c80000" stroke-width="0.7"/>
<circle cx="449.5" cy="696.7" r="3.5" fill="url(#gH)" stroke="#b4b4b4" stroke-width="0.8"/>
<circle cx="614.9" cy="717.4" r="3.5" fill="url(#gH)" stroke="#b4b4b4" stroke-width="0.8"/>
<circle cx="574.7" cy="673.6" r="3.5" fill="url(#gH)" stroke="#b4b4b4" stroke-width="0.8"/>
<circle cx="470.5" cy="750.8" r="3.5" fill="url(#gH)" stroke="#b4b4b4" stroke-width="0.8"/>
<circle cx="473.4" cy="646.6" r="3.5" fill="url(#gH)" stroke="#b4b4b4" stroke-width="0.8"/>
<circle cx="542.0" cy="682.7" r="5.6" fill="url(#gO)" stroke="#c80000" stroke-width="0.7"/>
<circle cx="463.7" cy="629.4" r="3.5" fill="url(#gH)" stroke="#b4b4b4" stroke-width="0.8"/>
<circle cx="484.0" cy="705.2" r="3.5" fill="url(#gH)" stroke="#b4b4b4" stroke-width="0.8"/>
<circle cx="497.5" cy="649.3" r="5.6" fill="url(#gO)" stroke="#c80000" stroke-width="0.7"/>
<circle cx="487.8" cy="745.8" r="3.5" fill="url(#gH)" stroke="#b4b4b4" stroke-width="0.8"/>
<circle cx="490.1" cy="724.9" r="3.5" fill="url(#gH)" stroke="#b4b4b4" stroke-width="0.8"/>
<circle cx="549.4" cy="676.8" r="5.6" fill="url(#gO)" stroke="#c80000" stroke-width="0.7"/>
<circle cx="486.3" cy="654.9" r="5.6" fill="url(#gO)" stroke="#c80000" stroke-width="0.7"/>
<circle cx="618.2" cy="575.9" r="3.5" fill="url(#gH)" stroke="#b4b4b4" stroke-width="0.8"/>
<circle cx="453.1" cy="582.7" r="3.5" fill="url(#gH)" stroke="#b4b4b4" stroke-width="0.8"/>
<circle cx="455.3" cy="698.5" r="5.6" fill="url(#gO)" stroke="#c80000" stroke-width="0.7"/>
<circle cx="523.9" cy="701.6" r="3.5" fill="url(#gH)" stroke="#b4b4b4" stroke-width="0.8"/>
<circle cx="600.6" cy="556.8" r="3.5" fill="url(#gH)" stroke="#b4b4b4" stroke-width="0.8"/>
<circle cx="458.1" cy="604.8" r="3.5" fill="url(#gH)" stroke="#b4b4b4" stroke-width="0.8"/>
<circle cx="505.9" cy="733.9" r="5.6" fill="url(#gO)" stroke="#c80000" stroke-width="0.7"/>
<circle cx="479.5" cy="598.5" r="3.5" fill="url(#gH)" stroke="#b4b4b4" stroke-width="0.8"/>
<circle cx="539.3" cy="616.6" r="3.5" fill="url(#gH)" stroke="#b4b4b4" stroke-width="0.8"/>
<circle cx="520.1" cy="642.5" r="3.5" fill="url(#gH)" stroke="#b4b4b4" stroke-width="0.8"/>
<circle cx="597.5" cy="665.5" r="3.5" fill="url(#gH)" stroke="#b4b4b4" stroke-width="0.8"/>
<circle cx="465.3" cy="676.8" r="3.5" fill="url(#gH)" stroke="#b4b4b4" stroke-width="0.8"/>
<circle cx="586.7" cy="658.3" r="5.6" fill="url(#gO)" stroke="#c80000" stroke-width="0.7"/>
<circle cx="650.3" cy="755.3" r="5.6" fill="url(#gO)" stroke="#c80000" stroke-width="0.7"/>
<circle cx="581.7" cy="594.7" r="5.6" fill="url(#gO)" stroke="#c80000" stroke-width="0.7"/>
<circle cx="574.3" cy="603.7" r="3.5" fill="url(#gH)" stroke="#b4b4b4" stroke-width="0.8"/>
<circle cx="600.6" cy="606.0" r="3.5" fill="url(#gH)" stroke="#b4b4b4" stroke-width="0.8"/>
<circle cx="584.4" cy="624.0" r="3.5" fill="url(#gH)" stroke="#b4b4b4" stroke-width="0.8"/>
<circle cx="490.8" cy="656.0" r="3.5" fill="url(#gH)" stroke="#b4b4b4" stroke-width="0.8"/>
<circle cx="614.9" cy="562.4" r="5.6" fill="url(#gO)" stroke="#c80000" stroke-width="0.7"/>
<circle cx="535.9" cy="759.8" r="5.6" fill="url(#gO)" stroke="#c80000" stroke-width="0.7"/>
<circle cx="519.0" cy="743.6" r="3.5" fill="url(#gH)" stroke="#b4b4b4" stroke-width="0.8"/>
<circle cx="599.1" cy="562.4" r="3.5" fill="url(#gH)" stroke="#b4b4b4" stroke-width="0.8"/>
<circle cx="613.3" cy="630.1" r="3.5" fill="url(#gH)" stroke="#b4b4b4" stroke-width="0.8"/>
<circle cx="513.3" cy="746.3" r="3.5" fill="url(#gH)" stroke="#b4b4b4" stroke-width="0.8"/>
<circle cx="493.0" cy="679.7" r="5.6" fill="url(#gO)" stroke="#c80000" stroke-width="0.7"/>
<circle cx="627.3" cy="635.7" r="5.6" fill="url(#gO)" stroke="#c80000" stroke-width="0.7"/>
<circle cx="450.2" cy="712.0" r="3.5" fill="url(#gH)" stroke="#b4b4b4" stroke-width="0.8"/>
<circle cx="454.0" cy="742.9" r="3.5" fill="url(#gH)" stroke="#b4b4b4" stroke-width="0.8"/>
<circle cx="550.6" cy="626.3" r="3.5" fill="url(#gH)" stroke="#b4b4b4" stroke-width="0.8"/>
<circle cx="636.8" cy="605.3" r="3.5" fill="url(#gH)" stroke="#b4b4b4" stroke-width="0.8"/>
<circle cx="579.9" cy="713.6" r="3.5" fill="url(#gH)" stroke="#b4b4b4" stroke-width="0.8"/>
<circle cx="538.8" cy="623.3" r="5.6" fill="url(#gO)" stroke="#c80000" stroke-width="0.7"/>
<circle cx="561.2" cy="668.5" r="3.5" fill="url(#gH)" stroke="#b4b4b4" stroke-width="0.8"/>
<circle cx="477.2" cy="602.3" r="3.5" fill="url(#gH)" stroke="#b4b4b4" stroke-width="0.8"/>
<circle cx="594.1" cy="571.4" r="3.5" fill="url(#gH)" stroke="#b4b4b4" stroke-width="0.8"/>
<circle cx="529.1" cy="564.7" r="3.5" fill="url(#gH)" stroke="#b4b4b4" stroke-width="0.8"/>
<circle cx="450.8" cy="747.4" r="3.5" fill="url(#gH)" stroke="#b4b4b4" stroke-width="0.8"/>
<circle cx="495.3" cy="666.2" r="3.5" fill="url(#gH)" stroke="#b4b4b4" stroke-width="0.8"/>
<circle cx="534.8" cy="607.5" r="3.5" fill="url(#gH)" stroke="#b4b4b4" stroke-width="0.8"/>
<rect x="100" y="550" width="62.5" height="20.6" fill="#d3d3d3"/>
<line x1="97.8" y1="609.4" x2="164.6" y2="609.4" stroke="#000000" stroke-opacity="0.7" stroke-width="4.6"/>
<line x1="97.8" y1="657.7" x2="164.6" y2="657.7" stroke="#0000ff" stroke-opacity="0.7" stroke-width="4.6"/>
<line x1="97.8" y1="706.6" x2="164.6" y2="706.6" stroke="#ffa500" stroke-opacity="0.7" stroke-width="4.6"/>
<line x1="97.8" y1="755.5" x2="164.6" y2="755.5" stroke="#ff0000" stroke-opacity="0.7" stroke-width="4.6"/>
<rect x="72.5" y="519.5" width="865.7" height="429.4" fill="none" stroke="#000" stroke-width="2.7"/>
<path d="M72.50 948.9v11M180.71 948.9v11M288.93 948.9v11M397.14 948.9v11M505.35 948.9v11M613.56 948.9v11M721.77 948.9v11M829.99 948.9v11M938.20 948.9v11" stroke="#000" stroke-width="2.7"/>
<text x="9.78" y="24.40" font-size="45" font-weight="bold">a</text>
<text transform="translate(6.83 528.20) scale(1.1025 1)" font-size="45" font-weight="bold">b</text>
<text transform="translate(118.83 52.30) scale(1.0429 1)" font-size="37.4" font-weight="bold">no PBC</text>
<text transform="translate(530.92 52.30) scale(0.9915 1)" font-size="37.4" font-weight="bold">PBC</text>
<circle cx="567.6" cy="108.8" r="5.5" fill="#ff0000"/>
<circle cx="567.6" cy="160.2" r="5.5" fill="#808080"/>
<text transform="translate(599.20 120.90) scale(0.9806 1)" font-size="36.6">O</text>
<text transform="translate(599.59 172.50) scale(1.0027 1)" font-size="36.6">H</text>
<text x="60.88" y="96.00" font-size="37.5">1</text>
<text transform="translate(60.69 206.00) scale(1.0320 1)" font-size="37.5">0</text>
<text transform="translate(32.42 315.60) scale(1.1798 1)" font-size="37.5">−1</text>
<text transform="translate(159.81 431.80) scale(1.1824 1)" font-size="37.5">−1</text>
<text transform="translate(284.26 431.80) scale(1.0488 1)" font-size="37.5">0</text>
<text transform="translate(394.07 431.80) scale(0.9896 1)" font-size="37.5">1</text>
<text transform="translate(194.29 463.80) scale(0.9470 1)" font-size="37.5">DFT</text>
<text transform="translate(274.87 463.60) scale(1.0483 1)" font-size="37.5" font-style="italic">Z</text>
<text transform="translate(306.28 452.31) scale(1.0804 1)" font-size="29.8">*</text>
<text transform="translate(298.97 473.20) scale(1.0031 1)" font-size="27" font-style="italic">αα</text>
<g transform="translate(343.01 463.60) scale(1.1968 1)">
<text x="0.00" y="0" font-size="37.5" transform="translate(0 -27.17) scale(1 0.9017) translate(0 27.17)">[</text>
<text x="10.42" y="0" font-size="37.5">e</text>
<text x="31.27" y="0" font-size="37.5" transform="translate(0 -27.17) scale(1 0.9017) translate(0 27.17)">]</text>
</g>
<text transform="translate(570.91 431.80) scale(1.1824 1)" font-size="37.5">−1</text>
<text transform="translate(695.36 431.80) scale(1.0488 1)" font-size="37.5">0</text>
<text transform="translate(805.17 431.80) scale(0.9896 1)" font-size="37.5">1</text>
<text transform="translate(605.39 463.80) scale(0.9470 1)" font-size="37.5">DFT</text>
<text transform="translate(685.97 463.60) scale(1.0483 1)" font-size="37.5" font-style="italic">Z</text>
<text transform="translate(717.38 452.31) scale(1.0804 1)" font-size="29.8">*</text>
<text transform="translate(710.07 473.20) scale(1.0031 1)" font-size="27" font-style="italic">αα</text>
<g transform="translate(754.11 463.60) scale(1.1968 1)">
<text x="0.00" y="0" font-size="37.5" transform="translate(0 -27.17) scale(1 0.9017) translate(0 27.17)">[</text>
<text x="10.42" y="0" font-size="37.5">e</text>
<text x="31.27" y="0" font-size="37.5" transform="translate(0 -27.17) scale(1 0.9017) translate(0 27.17)">]</text>
</g>
<g transform="rotate(-90)">
<text transform="translate(-289.43 31.90) scale(0.8868 1)" font-size="37.5">LES</text>
<text transform="translate(-214.83 31.90) scale(1.0483 1)" font-size="37.5" font-style="italic">Z</text>
<text transform="translate(-183.42 20.61) scale(1.0804 1)" font-size="29.8">*</text>
<text transform="translate(-190.73 41.50) scale(1.0031 1)" font-size="27" font-style="italic">αα</text>
<g transform="translate(-146.69 31.90) scale(1.1968 1)">
<text x="0.00" y="0" font-size="37.5" transform="translate(0 -27.17) scale(1 0.9017) translate(0 27.17)">[</text>
<text x="10.42" y="0" font-size="37.5">e</text>
<text x="31.27" y="0" font-size="37.5" transform="translate(0 -27.17) scale(1 0.9017) translate(0 27.17)">]</text>
</g>
</g>
<text x="303.19" y="215.40" font-size="28.6">1</text>
<text transform="translate(302.41 283.90) scale(1.0679 1)" font-size="28.6">0</text>
<text transform="translate(279.89 352.60) scale(1.2114 1)" font-size="28.6">−1</text>
<text transform="translate(309.49 372.60) scale(1.1443 1)" font-size="28.6">−1</text>
<text transform="translate(389.27 372.60) scale(1.1045 1)" font-size="28.6">0</text>
<text transform="translate(459.38 372.60) scale(0.9732 1)" font-size="28.6">1</text>
<g transform="translate(0.0 0) rotate(-90)">
<text transform="translate(-321.28 290.40) scale(1.0483 1)" font-size="30.5" font-style="italic">Z</text>
<text transform="translate(-295.73 281.22) scale(1.0804 1)" font-size="24.2">*</text>
<text transform="translate(-301.70 298.21) scale(1.0465 1)" font-size="22" font-style="italic">αβ</text>
<g transform="translate(-265.85 290.40) scale(1.1968 1)">
<text x="0.00" y="0" font-size="30.5" transform="translate(0 -22.10) scale(1 0.9017) translate(0 22.10)">[</text>
<text x="8.47" y="0" font-size="30.5">e</text>
<text x="25.44" y="0" font-size="30.5" transform="translate(0 -22.10) scale(1 0.9017) translate(0 22.10)">]</text>
</g>
</g>
<text x="714.59" y="215.40" font-size="28.6">1</text>
<text transform="translate(713.81 283.90) scale(1.0679 1)" font-size="28.6">0</text>
<text transform="translate(691.29 352.60) scale(1.2114 1)" font-size="28.6">−1</text>
<text transform="translate(720.89 372.60) scale(1.1443 1)" font-size="28.6">−1</text>
<text transform="translate(800.67 372.60) scale(1.1045 1)" font-size="28.6">0</text>
<text transform="translate(870.78 372.60) scale(0.9732 1)" font-size="28.6">1</text>
<g transform="translate(411.4 0) rotate(-90)">
<text transform="translate(-321.28 290.40) scale(1.0483 1)" font-size="30.5" font-style="italic">Z</text>
<text transform="translate(-295.73 281.22) scale(1.0804 1)" font-size="24.2">*</text>
<text transform="translate(-301.70 298.21) scale(1.0465 1)" font-size="22" font-style="italic">αβ</text>
<g transform="translate(-265.85 290.40) scale(1.1968 1)">
<text x="0.00" y="0" font-size="30.5" transform="translate(0 -22.10) scale(1 0.9017) translate(0 22.10)">[</text>
<text x="8.47" y="0" font-size="30.5">e</text>
<text x="25.44" y="0" font-size="30.5" transform="translate(0 -22.10) scale(1 0.9017) translate(0 22.10)">]</text>
</g>
</g>
<text transform="translate(62.62 994.60) scale(1.1000 1)" font-size="32.3">0</text>
<text transform="translate(151.06 994.60) scale(1.1000 1)" font-size="32.3">500</text>
<text transform="translate(248.75 994.60) scale(1.1000 1)" font-size="32.3">1000</text>
<text transform="translate(356.96 994.60) scale(1.1000 1)" font-size="32.3">1500</text>
<text transform="translate(465.63 994.60) scale(1.1000 1)" font-size="32.3">2000</text>
<text transform="translate(573.84 994.60) scale(1.1000 1)" font-size="32.3">2500</text>
<text transform="translate(682.27 994.60) scale(1.1000 1)" font-size="32.3">3000</text>
<text transform="translate(790.48 994.60) scale(1.1000 1)" font-size="32.3">3500</text>
<text transform="translate(898.97 994.60) scale(1.1000 1)" font-size="32.3">4000</text>
<text transform="translate(313.72 1046.30) scale(1.0642 1)" font-size="39.5">Wavenumber</text>
<g transform="translate(574.86 1046.30) scale(1.1150 1)">
<text x="0.00" y="0" font-size="39.5" transform="translate(0 -28.62) scale(1 0.9017) translate(0 28.62)">[</text>
<text x="10.97" y="0" font-size="39.5">cm</text>
</g>
<text transform="translate(647.01 1031.20) scale(1.2297 1)" font-size="26.3">−1</text>
<g transform="translate(687.86 1046.30) scale(1.1200 1)">
<text x="0.00" y="0" font-size="39.5" transform="translate(0 -28.62) scale(1 0.9017) translate(0 28.62)">]</text>
</g>
<g transform="rotate(-90)">
<g transform="translate(-871.88 51.90) scale(1.1184 1)">
<text x="0.00" y="0" font-size="39.5">Intensity </text>
<text x="158.08" y="0" font-size="39.5" transform="translate(0 -28.62) scale(1 0.9017) translate(0 28.62)">[</text>
<text x="169.05" y="0" font-size="39.5">a.u.</text>
<text x="234.94" y="0" font-size="39.5" transform="translate(0 -28.62) scale(1 0.9017) translate(0 28.62)">]</text>
</g>
</g>
<text transform="translate(186.29 571.50) scale(1.1373 1)" font-size="31.2">Experiment</text>
<text transform="translate(187.92 620.00) scale(1.0463 1)" font-size="31.2">0 V/Å</text>
<text transform="translate(187.88 668.30) scale(1.0836 1)" font-size="31.2">0.05 V/Å</text>
<text transform="translate(187.88 717.20) scale(1.0836 1)" font-size="31.2">0.10 V/Å</text>
<text transform="translate(187.88 766.10) scale(1.0836 1)" font-size="31.2">0.15 V/Å</text>
</svg></body></html>
